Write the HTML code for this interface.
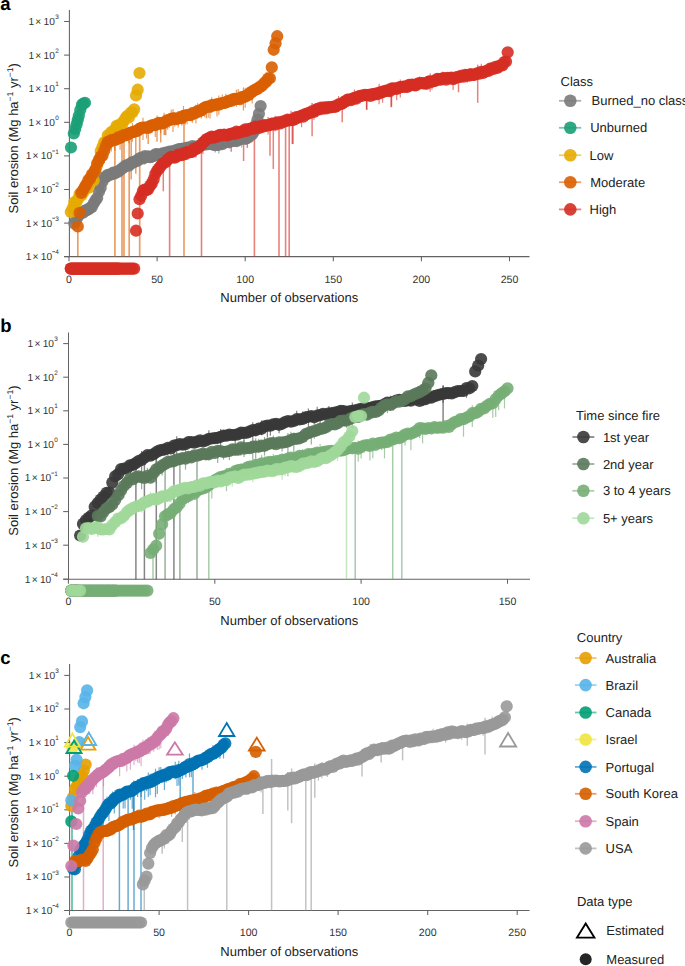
<!DOCTYPE html>
<html><head><meta charset="utf-8"><title>Soil erosion</title>
<style>
html,body{margin:0;padding:0;background:#fff;}
body{width:685px;height:966px;overflow:hidden;}
svg{display:block;font-family:"Liberation Sans",sans-serif;}
</style></head><body>
<svg width="685" height="966" viewBox="0 0 685 966" text-rendering="geometricPrecision">
<rect width="685" height="966" fill="#fff"/>
<line x1="69.4" y1="10" x2="69.4" y2="257.1" stroke="#626262" stroke-width="1.05"/>
<line x1="64.1" y1="256.6" x2="529.5" y2="256.6" stroke="#626262" stroke-width="1.05"/>
<line x1="64.1" y1="21.5" x2="69.4" y2="21.5" stroke="#626262" stroke-width="1.05"/>
<text x="58.7" y="24.9" font-size="10.2" text-anchor="end" fill="#333">1<tspan dx="1.2">&#215;</tspan><tspan dx="2.3">10</tspan><tspan font-size="6.4" dy="-5.8" dx="0.2">3</tspan></text>
<line x1="64.1" y1="55.1" x2="69.4" y2="55.1" stroke="#626262" stroke-width="1.05"/>
<text x="58.7" y="58.5" font-size="10.2" text-anchor="end" fill="#333">1<tspan dx="1.2">&#215;</tspan><tspan dx="2.3">10</tspan><tspan font-size="6.4" dy="-5.8" dx="0.2">2</tspan></text>
<line x1="64.1" y1="88.7" x2="69.4" y2="88.7" stroke="#626262" stroke-width="1.05"/>
<text x="58.7" y="92.1" font-size="10.2" text-anchor="end" fill="#333">1<tspan dx="1.2">&#215;</tspan><tspan dx="2.3">10</tspan><tspan font-size="6.4" dy="-5.8" dx="0.2">1</tspan></text>
<line x1="64.1" y1="122.3" x2="69.4" y2="122.3" stroke="#626262" stroke-width="1.05"/>
<text x="58.7" y="125.7" font-size="10.2" text-anchor="end" fill="#333">1<tspan dx="1.2">&#215;</tspan><tspan dx="2.3">10</tspan><tspan font-size="6.4" dy="-5.8" dx="0.2">0</tspan></text>
<line x1="64.1" y1="155.9" x2="69.4" y2="155.9" stroke="#626262" stroke-width="1.05"/>
<text x="58.7" y="159.3" font-size="10.2" text-anchor="end" fill="#333">1<tspan dx="1.2">&#215;</tspan><tspan dx="2.3">10</tspan><tspan font-size="6.4" dy="-5.8" dx="3.0">1</tspan></text>
<line x1="52.3" y1="151" x2="55" y2="151" stroke="#333" stroke-width="0.8"/>
<line x1="64.1" y1="189.5" x2="69.4" y2="189.5" stroke="#626262" stroke-width="1.05"/>
<text x="58.7" y="192.9" font-size="10.2" text-anchor="end" fill="#333">1<tspan dx="1.2">&#215;</tspan><tspan dx="2.3">10</tspan><tspan font-size="6.4" dy="-5.8" dx="3.0">2</tspan></text>
<line x1="52.3" y1="184.6" x2="55" y2="184.6" stroke="#333" stroke-width="0.8"/>
<line x1="64.1" y1="223.1" x2="69.4" y2="223.1" stroke="#626262" stroke-width="1.05"/>
<text x="58.7" y="226.5" font-size="10.2" text-anchor="end" fill="#333">1<tspan dx="1.2">&#215;</tspan><tspan dx="2.3">10</tspan><tspan font-size="6.4" dy="-5.8" dx="3.0">3</tspan></text>
<line x1="52.3" y1="218.2" x2="55" y2="218.2" stroke="#333" stroke-width="0.8"/>
<line x1="64.1" y1="256.6" x2="69.4" y2="256.6" stroke="#626262" stroke-width="1.05"/>
<text x="58.7" y="260" font-size="10.2" text-anchor="end" fill="#333">1<tspan dx="1.2">&#215;</tspan><tspan dx="2.3">10</tspan><tspan font-size="6.4" dy="-5.8" dx="3.0">4</tspan></text>
<line x1="52.3" y1="251.7" x2="55" y2="251.7" stroke="#333" stroke-width="0.8"/>
<line x1="69" y1="256.6" x2="69" y2="261.2" stroke="#626262" stroke-width="1.05"/>
<text x="69" y="282.6" font-size="10.6" text-anchor="middle" fill="#333">0</text>
<line x1="157.1" y1="256.6" x2="157.1" y2="261.2" stroke="#626262" stroke-width="1.05"/>
<text x="157.1" y="282.6" font-size="10.6" text-anchor="middle" fill="#333">50</text>
<line x1="245.2" y1="256.6" x2="245.2" y2="261.2" stroke="#626262" stroke-width="1.05"/>
<text x="245.2" y="282.6" font-size="10.6" text-anchor="middle" fill="#333">100</text>
<line x1="333.3" y1="256.6" x2="333.3" y2="261.2" stroke="#626262" stroke-width="1.05"/>
<text x="333.3" y="282.6" font-size="10.6" text-anchor="middle" fill="#333">150</text>
<line x1="421.4" y1="256.6" x2="421.4" y2="261.2" stroke="#626262" stroke-width="1.05"/>
<text x="421.4" y="282.6" font-size="10.6" text-anchor="middle" fill="#333">200</text>
<line x1="509.5" y1="256.6" x2="509.5" y2="261.2" stroke="#626262" stroke-width="1.05"/>
<text x="509.5" y="282.6" font-size="10.6" text-anchor="middle" fill="#333">250</text>
<text x="220.3" y="302.4" font-size="13" fill="#222">Number of observations</text>
<text transform="translate(17.9 138.3) rotate(-90)" font-size="13" text-anchor="middle" fill="#222">Soil erosion (Mg ha<tspan font-size="8.5" dy="-5">&#8722;1</tspan><tspan dy="5"> yr</tspan><tspan font-size="8.5" dy="-5">&#8722;1</tspan><tspan dy="5">)</tspan></text>
<g id="pa">
<line x1="77.8" y1="227.5" x2="77.8" y2="256.6" stroke="#d95f02" stroke-width="1.7" stroke-opacity="0.6"/>
<line x1="114.9" y1="139.9" x2="114.9" y2="256.6" stroke="#d95f02" stroke-width="1.7" stroke-opacity="0.6"/>
<line x1="122" y1="136.2" x2="122" y2="256.6" stroke="#d95f02" stroke-width="1.7" stroke-opacity="0.6"/>
<line x1="124" y1="135.1" x2="124" y2="256.6" stroke="#d95f02" stroke-width="1.7" stroke-opacity="0.6"/>
<line x1="129.2" y1="133.2" x2="129.2" y2="256.6" stroke="#d95f02" stroke-width="1.7" stroke-opacity="0.6"/>
<line x1="139.7" y1="128.6" x2="139.7" y2="256.6" stroke="#d95f02" stroke-width="1.7" stroke-opacity="0.6"/>
<line x1="184" y1="115.8" x2="184" y2="256.6" stroke="#d95f02" stroke-width="1.7" stroke-opacity="0.6"/>
<line x1="169.6" y1="158" x2="169.6" y2="256.6" stroke="#d62d24" stroke-width="1.6" stroke-opacity="0.6"/>
<line x1="201.5" y1="144.5" x2="201.5" y2="256.6" stroke="#d62d24" stroke-width="1.6" stroke-opacity="0.6"/>
<line x1="254.4" y1="128.3" x2="254.4" y2="256.6" stroke="#d62d24" stroke-width="1.6" stroke-opacity="0.6"/>
<line x1="279" y1="122.6" x2="279" y2="256.6" stroke="#d62d24" stroke-width="1.6" stroke-opacity="0.6"/>
<line x1="285.6" y1="121" x2="285.6" y2="256.6" stroke="#d62d24" stroke-width="1.6" stroke-opacity="0.6"/>
<line x1="289.2" y1="120.3" x2="289.2" y2="256.6" stroke="#d62d24" stroke-width="1.6" stroke-opacity="0.6"/>
<line x1="163.3" y1="170" x2="163.3" y2="191.3" stroke="#d62d24" stroke-width="1.5" stroke-opacity="0.6"/>
<line x1="231.2" y1="130" x2="231.2" y2="151.8" stroke="#d62d24" stroke-width="1.5" stroke-opacity="0.6"/>
<line x1="243.6" y1="128" x2="243.6" y2="161" stroke="#d62d24" stroke-width="1.5" stroke-opacity="0.6"/>
<line x1="247.3" y1="128" x2="247.3" y2="147.9" stroke="#d62d24" stroke-width="1.5" stroke-opacity="0.6"/>
<line x1="270" y1="122" x2="270" y2="155.8" stroke="#d62d24" stroke-width="1.5" stroke-opacity="0.6"/>
<line x1="273.3" y1="122" x2="273.3" y2="168.9" stroke="#d62d24" stroke-width="1.5" stroke-opacity="0.6"/>
<line x1="293" y1="115" x2="293" y2="144" stroke="#d62d24" stroke-width="1.5" stroke-opacity="0.6"/>
<line x1="292.3" y1="112" x2="292.3" y2="144.1" stroke="#d62d24" stroke-width="1.5" stroke-opacity="0.6"/>
<line x1="312.1" y1="103" x2="312.1" y2="136.2" stroke="#d62d24" stroke-width="1.5" stroke-opacity="0.6"/>
<line x1="342.2" y1="96" x2="342.2" y2="122.2" stroke="#d62d24" stroke-width="1.5" stroke-opacity="0.6"/>
<line x1="366.7" y1="93" x2="366.7" y2="110" stroke="#d62d24" stroke-width="1.5" stroke-opacity="0.6"/>
<line x1="391.2" y1="89" x2="391.2" y2="107.3" stroke="#d62d24" stroke-width="1.5" stroke-opacity="0.6"/>
<line x1="366.6" y1="93" x2="366.6" y2="109.3" stroke="#d62d24" stroke-width="1.5" stroke-opacity="0.6"/>
<line x1="391.5" y1="83" x2="391.5" y2="106.7" stroke="#d62d24" stroke-width="1.5" stroke-opacity="0.6"/>
<line x1="458.5" y1="70" x2="458.5" y2="92.3" stroke="#d62d24" stroke-width="1.5" stroke-opacity="0.6"/>
<line x1="477.7" y1="64.7" x2="477.7" y2="102.8" stroke="#d62d24" stroke-width="1.5" stroke-opacity="0.6"/>
<line x1="131.2" y1="130" x2="131.2" y2="179.6" stroke="#d95f02" stroke-width="1.5" stroke-opacity="0.6"/>
<line x1="135.8" y1="130" x2="135.8" y2="173.8" stroke="#d95f02" stroke-width="1.5" stroke-opacity="0.6"/>
<line x1="148.2" y1="126" x2="148.2" y2="143.9" stroke="#d95f02" stroke-width="1.5" stroke-opacity="0.6"/>
<line x1="157" y1="122" x2="157" y2="141.7" stroke="#d95f02" stroke-width="1.5" stroke-opacity="0.6"/>
<line x1="160.7" y1="122" x2="160.7" y2="142.5" stroke="#d95f02" stroke-width="1.5" stroke-opacity="0.6"/>
<line x1="165" y1="120" x2="165" y2="135" stroke="#d95f02" stroke-width="1.5" stroke-opacity="0.6"/>
<line x1="95.4" y1="163.8" x2="95.4" y2="178.4" stroke="#d95f02" stroke-width="1.2" stroke-opacity="0.6"/>
<line x1="100.7" y1="147.8" x2="100.7" y2="159.8" stroke="#d95f02" stroke-width="1.2" stroke-opacity="0.6"/>
<line x1="102.5" y1="145.6" x2="102.5" y2="161.2" stroke="#d95f02" stroke-width="1.2" stroke-opacity="0.6"/>
<line x1="104.2" y1="144.4" x2="104.2" y2="162.9" stroke="#d95f02" stroke-width="1.2" stroke-opacity="0.6"/>
<line x1="107.8" y1="132.7" x2="107.8" y2="151.8" stroke="#d95f02" stroke-width="1.2" stroke-opacity="0.6"/>
<line x1="109.5" y1="134.3" x2="109.5" y2="153.1" stroke="#d95f02" stroke-width="1.2" stroke-opacity="0.6"/>
<line x1="111.3" y1="132.9" x2="111.3" y2="151.4" stroke="#d95f02" stroke-width="1.2" stroke-opacity="0.6"/>
<line x1="113" y1="130.9" x2="113" y2="143.3" stroke="#d95f02" stroke-width="1.2" stroke-opacity="0.6"/>
<line x1="114.8" y1="130.8" x2="114.8" y2="150.8" stroke="#d95f02" stroke-width="1.2" stroke-opacity="0.6"/>
<line x1="120.1" y1="131.7" x2="120.1" y2="149.7" stroke="#d95f02" stroke-width="1.2" stroke-opacity="0.6"/>
<line x1="125.4" y1="130.9" x2="125.4" y2="140" stroke="#d95f02" stroke-width="1.2" stroke-opacity="0.6"/>
<line x1="128.9" y1="128.2" x2="128.9" y2="143.2" stroke="#d95f02" stroke-width="1.2" stroke-opacity="0.6"/>
<line x1="130.7" y1="127.3" x2="130.7" y2="140" stroke="#d95f02" stroke-width="1.2" stroke-opacity="0.6"/>
<line x1="132.4" y1="122.9" x2="132.4" y2="141.7" stroke="#d95f02" stroke-width="1.2" stroke-opacity="0.6"/>
<line x1="143" y1="117.8" x2="143" y2="140" stroke="#d95f02" stroke-width="1.2" stroke-opacity="0.6"/>
<line x1="146.5" y1="123.2" x2="146.5" y2="138.5" stroke="#d95f02" stroke-width="1.2" stroke-opacity="0.6"/>
<line x1="150.1" y1="122.6" x2="150.1" y2="132.2" stroke="#d95f02" stroke-width="1.2" stroke-opacity="0.6"/>
<line x1="155.3" y1="119.4" x2="155.3" y2="137.1" stroke="#d95f02" stroke-width="1.2" stroke-opacity="0.6"/>
<line x1="157.1" y1="115.5" x2="157.1" y2="130.1" stroke="#d95f02" stroke-width="1.2" stroke-opacity="0.6"/>
<line x1="160.6" y1="120.1" x2="160.6" y2="133.1" stroke="#d95f02" stroke-width="1.2" stroke-opacity="0.6"/>
<line x1="164.1" y1="112.7" x2="164.1" y2="135.3" stroke="#d95f02" stroke-width="1.2" stroke-opacity="0.6"/>
<line x1="165.9" y1="116" x2="165.9" y2="135.2" stroke="#d95f02" stroke-width="1.2" stroke-opacity="0.6"/>
<line x1="167.7" y1="116.9" x2="167.7" y2="129.7" stroke="#d95f02" stroke-width="1.2" stroke-opacity="0.6"/>
<line x1="169.4" y1="112.9" x2="169.4" y2="127.7" stroke="#d95f02" stroke-width="1.2" stroke-opacity="0.6"/>
<line x1="171.2" y1="109.8" x2="171.2" y2="122.4" stroke="#d95f02" stroke-width="1.2" stroke-opacity="0.6"/>
<line x1="173" y1="109.1" x2="173" y2="131.9" stroke="#d95f02" stroke-width="1.2" stroke-opacity="0.6"/>
<line x1="174.7" y1="111.9" x2="174.7" y2="126.6" stroke="#d95f02" stroke-width="1.2" stroke-opacity="0.6"/>
<line x1="178.2" y1="111" x2="178.2" y2="127.5" stroke="#d95f02" stroke-width="1.2" stroke-opacity="0.6"/>
<line x1="181.8" y1="110" x2="181.8" y2="125.8" stroke="#d95f02" stroke-width="1.2" stroke-opacity="0.6"/>
<line x1="183.5" y1="106" x2="183.5" y2="122.2" stroke="#d95f02" stroke-width="1.2" stroke-opacity="0.6"/>
<line x1="185.3" y1="112.4" x2="185.3" y2="124.5" stroke="#d95f02" stroke-width="1.2" stroke-opacity="0.6"/>
<line x1="187.1" y1="111.8" x2="187.1" y2="124.3" stroke="#d95f02" stroke-width="1.2" stroke-opacity="0.6"/>
<line x1="192.3" y1="106.9" x2="192.3" y2="123.1" stroke="#d95f02" stroke-width="1.2" stroke-opacity="0.6"/>
<line x1="195.9" y1="104.7" x2="195.9" y2="123.6" stroke="#d95f02" stroke-width="1.2" stroke-opacity="0.6"/>
<line x1="197.6" y1="103.3" x2="197.6" y2="114.7" stroke="#d95f02" stroke-width="1.2" stroke-opacity="0.6"/>
<line x1="201.2" y1="103.3" x2="201.2" y2="118.5" stroke="#d95f02" stroke-width="1.2" stroke-opacity="0.6"/>
<line x1="202.9" y1="103.8" x2="202.9" y2="115.9" stroke="#d95f02" stroke-width="1.2" stroke-opacity="0.6"/>
<line x1="204.7" y1="102.6" x2="204.7" y2="117.2" stroke="#d95f02" stroke-width="1.2" stroke-opacity="0.6"/>
<line x1="206.4" y1="103.7" x2="206.4" y2="118.4" stroke="#d95f02" stroke-width="1.2" stroke-opacity="0.6"/>
<line x1="208.2" y1="101.5" x2="208.2" y2="117.7" stroke="#d95f02" stroke-width="1.2" stroke-opacity="0.6"/>
<line x1="210" y1="101.9" x2="210" y2="118.4" stroke="#d95f02" stroke-width="1.2" stroke-opacity="0.6"/>
<line x1="211.7" y1="97.2" x2="211.7" y2="112.8" stroke="#d95f02" stroke-width="1.2" stroke-opacity="0.6"/>
<line x1="213.5" y1="99.9" x2="213.5" y2="111.8" stroke="#d95f02" stroke-width="1.2" stroke-opacity="0.6"/>
<line x1="217" y1="100" x2="217" y2="116.6" stroke="#d95f02" stroke-width="1.2" stroke-opacity="0.6"/>
<line x1="218.8" y1="95.4" x2="218.8" y2="114.7" stroke="#d95f02" stroke-width="1.2" stroke-opacity="0.6"/>
<line x1="220.5" y1="99.9" x2="220.5" y2="109.2" stroke="#d95f02" stroke-width="1.2" stroke-opacity="0.6"/>
<line x1="222.3" y1="94.5" x2="222.3" y2="108.3" stroke="#d95f02" stroke-width="1.2" stroke-opacity="0.6"/>
<line x1="225.8" y1="93.7" x2="225.8" y2="108.4" stroke="#d95f02" stroke-width="1.2" stroke-opacity="0.6"/>
<line x1="231.1" y1="96" x2="231.1" y2="105.5" stroke="#d95f02" stroke-width="1.2" stroke-opacity="0.6"/>
<line x1="234.6" y1="93" x2="234.6" y2="105.7" stroke="#d95f02" stroke-width="1.2" stroke-opacity="0.6"/>
<line x1="236.4" y1="89.7" x2="236.4" y2="106.7" stroke="#d95f02" stroke-width="1.2" stroke-opacity="0.6"/>
<line x1="238.2" y1="88.9" x2="238.2" y2="101.5" stroke="#d95f02" stroke-width="1.2" stroke-opacity="0.6"/>
<line x1="243.4" y1="87.5" x2="243.4" y2="110.4" stroke="#d95f02" stroke-width="1.2" stroke-opacity="0.6"/>
<line x1="245.2" y1="87.7" x2="245.2" y2="107.8" stroke="#d95f02" stroke-width="1.2" stroke-opacity="0.6"/>
<line x1="248.7" y1="89.6" x2="248.7" y2="101.2" stroke="#d95f02" stroke-width="1.2" stroke-opacity="0.6"/>
<line x1="250.5" y1="85.5" x2="250.5" y2="96.3" stroke="#d95f02" stroke-width="1.2" stroke-opacity="0.6"/>
<line x1="252.2" y1="88.3" x2="252.2" y2="103.5" stroke="#d95f02" stroke-width="1.2" stroke-opacity="0.6"/>
<line x1="262.8" y1="76.6" x2="262.8" y2="88" stroke="#d95f02" stroke-width="1.2" stroke-opacity="0.6"/>
<line x1="264.6" y1="75.2" x2="264.6" y2="89.1" stroke="#d95f02" stroke-width="1.2" stroke-opacity="0.6"/>
<line x1="266.3" y1="72.1" x2="266.3" y2="89.2" stroke="#d95f02" stroke-width="1.2" stroke-opacity="0.6"/>
<line x1="164.1" y1="158.9" x2="164.1" y2="169.4" stroke="#d62d24" stroke-width="1.2" stroke-opacity="0.6"/>
<line x1="165.9" y1="153.5" x2="165.9" y2="168.6" stroke="#d62d24" stroke-width="1.2" stroke-opacity="0.6"/>
<line x1="178.2" y1="146.1" x2="178.2" y2="159.6" stroke="#d62d24" stroke-width="1.2" stroke-opacity="0.6"/>
<line x1="195.9" y1="142.1" x2="195.9" y2="157.6" stroke="#d62d24" stroke-width="1.2" stroke-opacity="0.6"/>
<line x1="202.9" y1="134.4" x2="202.9" y2="154" stroke="#d62d24" stroke-width="1.2" stroke-opacity="0.6"/>
<line x1="227.6" y1="128.7" x2="227.6" y2="138.9" stroke="#d62d24" stroke-width="1.2" stroke-opacity="0.6"/>
<line x1="255.8" y1="122.4" x2="255.8" y2="130.3" stroke="#d62d24" stroke-width="1.2" stroke-opacity="0.6"/>
<line x1="268.1" y1="116.9" x2="268.1" y2="134.5" stroke="#d62d24" stroke-width="1.2" stroke-opacity="0.6"/>
<line x1="275.2" y1="115.8" x2="275.2" y2="130.2" stroke="#d62d24" stroke-width="1.2" stroke-opacity="0.6"/>
<line x1="291" y1="110.7" x2="291" y2="126" stroke="#d62d24" stroke-width="1.2" stroke-opacity="0.6"/>
<line x1="294.5" y1="115.5" x2="294.5" y2="122.9" stroke="#d62d24" stroke-width="1.2" stroke-opacity="0.6"/>
<line x1="301.6" y1="110" x2="301.6" y2="127.3" stroke="#d62d24" stroke-width="1.2" stroke-opacity="0.6"/>
<line x1="305.1" y1="110" x2="305.1" y2="117.5" stroke="#d62d24" stroke-width="1.2" stroke-opacity="0.6"/>
<line x1="308.6" y1="106.9" x2="308.6" y2="116.2" stroke="#d62d24" stroke-width="1.2" stroke-opacity="0.6"/>
<line x1="313.9" y1="104.3" x2="313.9" y2="119.7" stroke="#d62d24" stroke-width="1.2" stroke-opacity="0.6"/>
<line x1="324.5" y1="102.9" x2="324.5" y2="114.2" stroke="#d62d24" stroke-width="1.2" stroke-opacity="0.6"/>
<line x1="331.5" y1="102.8" x2="331.5" y2="112.5" stroke="#d62d24" stroke-width="1.2" stroke-opacity="0.6"/>
<line x1="338.6" y1="95.9" x2="338.6" y2="107.9" stroke="#d62d24" stroke-width="1.2" stroke-opacity="0.6"/>
<line x1="354.4" y1="89.6" x2="354.4" y2="102.8" stroke="#d62d24" stroke-width="1.2" stroke-opacity="0.6"/>
<line x1="379.1" y1="83.8" x2="379.1" y2="104.3" stroke="#d62d24" stroke-width="1.2" stroke-opacity="0.6"/>
<line x1="382.6" y1="87.8" x2="382.6" y2="102.7" stroke="#d62d24" stroke-width="1.2" stroke-opacity="0.6"/>
<line x1="387.9" y1="83.7" x2="387.9" y2="95.1" stroke="#d62d24" stroke-width="1.2" stroke-opacity="0.6"/>
<line x1="396.7" y1="85.8" x2="396.7" y2="100.2" stroke="#d62d24" stroke-width="1.2" stroke-opacity="0.6"/>
<line x1="400.3" y1="79.5" x2="400.3" y2="97.5" stroke="#d62d24" stroke-width="1.2" stroke-opacity="0.6"/>
<line x1="419.6" y1="76.4" x2="419.6" y2="86.3" stroke="#d62d24" stroke-width="1.2" stroke-opacity="0.6"/>
<line x1="426.7" y1="76" x2="426.7" y2="89.8" stroke="#d62d24" stroke-width="1.2" stroke-opacity="0.6"/>
<line x1="430.2" y1="73.3" x2="430.2" y2="91.8" stroke="#d62d24" stroke-width="1.2" stroke-opacity="0.6"/>
<line x1="432" y1="76.5" x2="432" y2="89.7" stroke="#d62d24" stroke-width="1.2" stroke-opacity="0.6"/>
<line x1="442.5" y1="71.6" x2="442.5" y2="82.3" stroke="#d62d24" stroke-width="1.2" stroke-opacity="0.6"/>
<line x1="453.1" y1="74.9" x2="453.1" y2="90" stroke="#d62d24" stroke-width="1.2" stroke-opacity="0.6"/>
<line x1="467.2" y1="70.2" x2="467.2" y2="82.7" stroke="#d62d24" stroke-width="1.2" stroke-opacity="0.6"/>
<line x1="474.3" y1="68.6" x2="474.3" y2="80.7" stroke="#d62d24" stroke-width="1.2" stroke-opacity="0.6"/>
<line x1="481.3" y1="63.8" x2="481.3" y2="77.1" stroke="#d62d24" stroke-width="1.2" stroke-opacity="0.6"/>
<line x1="120.1" y1="162.3" x2="120.1" y2="175.8" stroke="#7a7a7a" stroke-width="1.2" stroke-opacity="0.6"/>
<line x1="125.4" y1="161.5" x2="125.4" y2="171.6" stroke="#7a7a7a" stroke-width="1.2" stroke-opacity="0.6"/>
<line x1="130.7" y1="159" x2="130.7" y2="167.7" stroke="#7a7a7a" stroke-width="1.2" stroke-opacity="0.6"/>
<line x1="144.8" y1="152.2" x2="144.8" y2="164.4" stroke="#7a7a7a" stroke-width="1.2" stroke-opacity="0.6"/>
<line x1="174.7" y1="144.6" x2="174.7" y2="155.4" stroke="#7a7a7a" stroke-width="1.2" stroke-opacity="0.6"/>
<line x1="176.5" y1="146.7" x2="176.5" y2="158.5" stroke="#7a7a7a" stroke-width="1.2" stroke-opacity="0.6"/>
<line x1="188.8" y1="144.8" x2="188.8" y2="156.7" stroke="#7a7a7a" stroke-width="1.2" stroke-opacity="0.6"/>
<line x1="194.1" y1="142.6" x2="194.1" y2="155.2" stroke="#7a7a7a" stroke-width="1.2" stroke-opacity="0.6"/>
<line x1="197.6" y1="142.7" x2="197.6" y2="149.9" stroke="#7a7a7a" stroke-width="1.2" stroke-opacity="0.6"/>
<line x1="215.2" y1="138.1" x2="215.2" y2="152.5" stroke="#7a7a7a" stroke-width="1.2" stroke-opacity="0.6"/>
<line x1="218.8" y1="141.4" x2="218.8" y2="153.5" stroke="#7a7a7a" stroke-width="1.2" stroke-opacity="0.6"/>
<line x1="236.4" y1="134.7" x2="236.4" y2="145" stroke="#7a7a7a" stroke-width="1.2" stroke-opacity="0.6"/>
<line x1="241.7" y1="133" x2="241.7" y2="147.6" stroke="#7a7a7a" stroke-width="1.2" stroke-opacity="0.6"/>
<line x1="254" y1="128.3" x2="254" y2="140" stroke="#7a7a7a" stroke-width="1.2" stroke-opacity="0.6"/>
<circle cx="70.8" cy="268.6" r="6.1" fill="#d62d24" fill-opacity="0.9"/>
<circle cx="72.5" cy="268.6" r="6.1" fill="#d62d24" fill-opacity="0.9"/>
<circle cx="74.3" cy="268.6" r="6.1" fill="#d62d24" fill-opacity="0.9"/>
<circle cx="76" cy="268.6" r="6.1" fill="#d62d24" fill-opacity="0.9"/>
<circle cx="77.8" cy="268.6" r="6.1" fill="#d62d24" fill-opacity="0.9"/>
<circle cx="79.6" cy="268.6" r="6.1" fill="#d62d24" fill-opacity="0.9"/>
<circle cx="81.3" cy="268.6" r="6.1" fill="#d62d24" fill-opacity="0.9"/>
<circle cx="83.1" cy="268.6" r="6.1" fill="#d62d24" fill-opacity="0.9"/>
<circle cx="84.9" cy="268.6" r="6.1" fill="#d62d24" fill-opacity="0.9"/>
<circle cx="86.6" cy="268.6" r="6.1" fill="#d62d24" fill-opacity="0.9"/>
<circle cx="88.4" cy="268.6" r="6.1" fill="#d62d24" fill-opacity="0.9"/>
<circle cx="90.1" cy="268.6" r="6.1" fill="#d62d24" fill-opacity="0.9"/>
<circle cx="91.9" cy="268.6" r="6.1" fill="#d62d24" fill-opacity="0.9"/>
<circle cx="93.7" cy="268.6" r="6.1" fill="#d62d24" fill-opacity="0.9"/>
<circle cx="95.4" cy="268.6" r="6.1" fill="#d62d24" fill-opacity="0.9"/>
<circle cx="97.2" cy="268.6" r="6.1" fill="#d62d24" fill-opacity="0.9"/>
<circle cx="99" cy="268.6" r="6.1" fill="#d62d24" fill-opacity="0.9"/>
<circle cx="100.7" cy="268.6" r="6.1" fill="#d62d24" fill-opacity="0.9"/>
<circle cx="102.5" cy="268.6" r="6.1" fill="#d62d24" fill-opacity="0.9"/>
<circle cx="104.2" cy="268.6" r="6.1" fill="#d62d24" fill-opacity="0.9"/>
<circle cx="106" cy="268.6" r="6.1" fill="#d62d24" fill-opacity="0.9"/>
<circle cx="107.8" cy="268.6" r="6.1" fill="#d62d24" fill-opacity="0.9"/>
<circle cx="109.5" cy="268.6" r="6.1" fill="#d62d24" fill-opacity="0.9"/>
<circle cx="111.3" cy="268.6" r="6.1" fill="#d62d24" fill-opacity="0.9"/>
<circle cx="113" cy="268.6" r="6.1" fill="#d62d24" fill-opacity="0.9"/>
<circle cx="114.8" cy="268.6" r="6.1" fill="#d62d24" fill-opacity="0.9"/>
<circle cx="116.6" cy="268.6" r="6.1" fill="#d62d24" fill-opacity="0.9"/>
<circle cx="118.3" cy="268.6" r="6.1" fill="#d62d24" fill-opacity="0.9"/>
<circle cx="74.3" cy="223.5" r="6.1" fill="#7a7a7a" fill-opacity="0.9"/>
<circle cx="76" cy="220" r="6.1" fill="#7a7a7a" fill-opacity="0.9"/>
<circle cx="77.8" cy="216.8" r="6.1" fill="#7a7a7a" fill-opacity="0.9"/>
<circle cx="79.6" cy="214.3" r="6.1" fill="#7a7a7a" fill-opacity="0.9"/>
<circle cx="81.3" cy="212.3" r="6.1" fill="#7a7a7a" fill-opacity="0.9"/>
<circle cx="83.1" cy="212.6" r="6.1" fill="#7a7a7a" fill-opacity="0.9"/>
<circle cx="84.9" cy="210.7" r="6.1" fill="#7a7a7a" fill-opacity="0.9"/>
<circle cx="86.6" cy="210.1" r="6.1" fill="#7a7a7a" fill-opacity="0.9"/>
<circle cx="88.4" cy="209.5" r="6.1" fill="#7a7a7a" fill-opacity="0.9"/>
<circle cx="90.1" cy="207.9" r="6.1" fill="#7a7a7a" fill-opacity="0.9"/>
<circle cx="91.9" cy="207" r="6.1" fill="#7a7a7a" fill-opacity="0.9"/>
<circle cx="93.7" cy="203.3" r="6.1" fill="#7a7a7a" fill-opacity="0.9"/>
<circle cx="95.4" cy="200.4" r="6.1" fill="#7a7a7a" fill-opacity="0.9"/>
<circle cx="97.2" cy="198" r="6.1" fill="#7a7a7a" fill-opacity="0.9"/>
<circle cx="99" cy="191.6" r="6.1" fill="#7a7a7a" fill-opacity="0.9"/>
<circle cx="100.7" cy="187.8" r="6.1" fill="#7a7a7a" fill-opacity="0.9"/>
<circle cx="102.5" cy="181.4" r="6.1" fill="#7a7a7a" fill-opacity="0.9"/>
<circle cx="104.2" cy="177.4" r="6.1" fill="#7a7a7a" fill-opacity="0.9"/>
<circle cx="106" cy="177" r="6.1" fill="#7a7a7a" fill-opacity="0.9"/>
<circle cx="107.8" cy="174.8" r="6.1" fill="#7a7a7a" fill-opacity="0.9"/>
<circle cx="109.5" cy="174.9" r="6.1" fill="#7a7a7a" fill-opacity="0.9"/>
<circle cx="111.3" cy="174.4" r="6.1" fill="#7a7a7a" fill-opacity="0.9"/>
<circle cx="113" cy="172.7" r="6.1" fill="#7a7a7a" fill-opacity="0.9"/>
<circle cx="114.8" cy="173.4" r="6.1" fill="#7a7a7a" fill-opacity="0.9"/>
<circle cx="116.6" cy="171.8" r="6.1" fill="#7a7a7a" fill-opacity="0.9"/>
<circle cx="118.3" cy="171.7" r="6.1" fill="#7a7a7a" fill-opacity="0.9"/>
<circle cx="120.1" cy="170" r="6.1" fill="#7a7a7a" fill-opacity="0.9"/>
<circle cx="121.9" cy="168.8" r="6.1" fill="#7a7a7a" fill-opacity="0.9"/>
<circle cx="123.6" cy="167.5" r="6.1" fill="#7a7a7a" fill-opacity="0.9"/>
<circle cx="125.4" cy="165.8" r="6.1" fill="#7a7a7a" fill-opacity="0.9"/>
<circle cx="127.1" cy="165" r="6.1" fill="#7a7a7a" fill-opacity="0.9"/>
<circle cx="128.9" cy="165.6" r="6.1" fill="#7a7a7a" fill-opacity="0.9"/>
<circle cx="130.7" cy="163.4" r="6.1" fill="#7a7a7a" fill-opacity="0.9"/>
<circle cx="132.4" cy="162.2" r="6.1" fill="#7a7a7a" fill-opacity="0.9"/>
<circle cx="134.2" cy="162.3" r="6.1" fill="#7a7a7a" fill-opacity="0.9"/>
<circle cx="136" cy="160.8" r="6.1" fill="#7a7a7a" fill-opacity="0.9"/>
<circle cx="137.7" cy="160.7" r="6.1" fill="#7a7a7a" fill-opacity="0.9"/>
<circle cx="139.5" cy="158.6" r="6.1" fill="#7a7a7a" fill-opacity="0.9"/>
<circle cx="141.2" cy="157.6" r="6.1" fill="#7a7a7a" fill-opacity="0.9"/>
<circle cx="143" cy="158.5" r="6.1" fill="#7a7a7a" fill-opacity="0.9"/>
<circle cx="144.8" cy="156.2" r="6.1" fill="#7a7a7a" fill-opacity="0.9"/>
<circle cx="146.5" cy="157.1" r="6.1" fill="#7a7a7a" fill-opacity="0.9"/>
<circle cx="148.3" cy="156.4" r="6.1" fill="#7a7a7a" fill-opacity="0.9"/>
<circle cx="150.1" cy="157.1" r="6.1" fill="#7a7a7a" fill-opacity="0.9"/>
<circle cx="151.8" cy="156.8" r="6.1" fill="#7a7a7a" fill-opacity="0.9"/>
<circle cx="153.6" cy="156" r="6.1" fill="#7a7a7a" fill-opacity="0.9"/>
<circle cx="155.3" cy="154.4" r="6.1" fill="#7a7a7a" fill-opacity="0.9"/>
<circle cx="157.1" cy="154.2" r="6.1" fill="#7a7a7a" fill-opacity="0.9"/>
<circle cx="158.9" cy="155" r="6.1" fill="#7a7a7a" fill-opacity="0.9"/>
<circle cx="160.6" cy="155.4" r="6.1" fill="#7a7a7a" fill-opacity="0.9"/>
<circle cx="162.4" cy="153.3" r="6.1" fill="#7a7a7a" fill-opacity="0.9"/>
<circle cx="164.1" cy="153.6" r="6.1" fill="#7a7a7a" fill-opacity="0.9"/>
<circle cx="165.9" cy="152.5" r="6.1" fill="#7a7a7a" fill-opacity="0.9"/>
<circle cx="167.7" cy="152.6" r="6.1" fill="#7a7a7a" fill-opacity="0.9"/>
<circle cx="169.4" cy="151.5" r="6.1" fill="#7a7a7a" fill-opacity="0.9"/>
<circle cx="171.2" cy="151.7" r="6.1" fill="#7a7a7a" fill-opacity="0.9"/>
<circle cx="173" cy="151.8" r="6.1" fill="#7a7a7a" fill-opacity="0.9"/>
<circle cx="174.7" cy="150.6" r="6.1" fill="#7a7a7a" fill-opacity="0.9"/>
<circle cx="176.5" cy="151.4" r="6.1" fill="#7a7a7a" fill-opacity="0.9"/>
<circle cx="178.2" cy="149.3" r="6.1" fill="#7a7a7a" fill-opacity="0.9"/>
<circle cx="180" cy="149.2" r="6.1" fill="#7a7a7a" fill-opacity="0.9"/>
<circle cx="181.8" cy="148.8" r="6.1" fill="#7a7a7a" fill-opacity="0.9"/>
<circle cx="183.5" cy="148.6" r="6.1" fill="#7a7a7a" fill-opacity="0.9"/>
<circle cx="185.3" cy="148.9" r="6.1" fill="#7a7a7a" fill-opacity="0.9"/>
<circle cx="187.1" cy="147.5" r="6.1" fill="#7a7a7a" fill-opacity="0.9"/>
<circle cx="188.8" cy="147.9" r="6.1" fill="#7a7a7a" fill-opacity="0.9"/>
<circle cx="190.6" cy="148.1" r="6.1" fill="#7a7a7a" fill-opacity="0.9"/>
<circle cx="192.3" cy="146.1" r="6.1" fill="#7a7a7a" fill-opacity="0.9"/>
<circle cx="194.1" cy="147.4" r="6.1" fill="#7a7a7a" fill-opacity="0.9"/>
<circle cx="195.9" cy="146.6" r="6.1" fill="#7a7a7a" fill-opacity="0.9"/>
<circle cx="197.6" cy="146.7" r="6.1" fill="#7a7a7a" fill-opacity="0.9"/>
<circle cx="199.4" cy="146.1" r="6.1" fill="#7a7a7a" fill-opacity="0.9"/>
<circle cx="201.2" cy="145.4" r="6.1" fill="#7a7a7a" fill-opacity="0.9"/>
<circle cx="202.9" cy="144.4" r="6.1" fill="#7a7a7a" fill-opacity="0.9"/>
<circle cx="204.7" cy="144.4" r="6.1" fill="#7a7a7a" fill-opacity="0.9"/>
<circle cx="206.4" cy="144.3" r="6.1" fill="#7a7a7a" fill-opacity="0.9"/>
<circle cx="208.2" cy="144.2" r="6.1" fill="#7a7a7a" fill-opacity="0.9"/>
<circle cx="210" cy="144" r="6.1" fill="#7a7a7a" fill-opacity="0.9"/>
<circle cx="211.7" cy="144.1" r="6.1" fill="#7a7a7a" fill-opacity="0.9"/>
<circle cx="213.5" cy="144.7" r="6.1" fill="#7a7a7a" fill-opacity="0.9"/>
<circle cx="215.2" cy="145.1" r="6.1" fill="#7a7a7a" fill-opacity="0.9"/>
<circle cx="217" cy="145" r="6.1" fill="#7a7a7a" fill-opacity="0.9"/>
<circle cx="218.8" cy="144.8" r="6.1" fill="#7a7a7a" fill-opacity="0.9"/>
<circle cx="220.5" cy="142.9" r="6.1" fill="#7a7a7a" fill-opacity="0.9"/>
<circle cx="222.3" cy="144.1" r="6.1" fill="#7a7a7a" fill-opacity="0.9"/>
<circle cx="224.1" cy="142.4" r="6.1" fill="#7a7a7a" fill-opacity="0.9"/>
<circle cx="225.8" cy="141.8" r="6.1" fill="#7a7a7a" fill-opacity="0.9"/>
<circle cx="227.6" cy="142" r="6.1" fill="#7a7a7a" fill-opacity="0.9"/>
<circle cx="229.3" cy="142.3" r="6.1" fill="#7a7a7a" fill-opacity="0.9"/>
<circle cx="231.1" cy="140.8" r="6.1" fill="#7a7a7a" fill-opacity="0.9"/>
<circle cx="232.9" cy="140.8" r="6.1" fill="#7a7a7a" fill-opacity="0.9"/>
<circle cx="234.6" cy="140.7" r="6.1" fill="#7a7a7a" fill-opacity="0.9"/>
<circle cx="236.4" cy="141.1" r="6.1" fill="#7a7a7a" fill-opacity="0.9"/>
<circle cx="238.2" cy="139.7" r="6.1" fill="#7a7a7a" fill-opacity="0.9"/>
<circle cx="239.9" cy="139.3" r="6.1" fill="#7a7a7a" fill-opacity="0.9"/>
<circle cx="241.7" cy="138.7" r="6.1" fill="#7a7a7a" fill-opacity="0.9"/>
<circle cx="243.4" cy="137.6" r="6.1" fill="#7a7a7a" fill-opacity="0.9"/>
<circle cx="245.2" cy="138.8" r="6.1" fill="#7a7a7a" fill-opacity="0.9"/>
<circle cx="247" cy="138.3" r="6.1" fill="#7a7a7a" fill-opacity="0.9"/>
<circle cx="248.7" cy="136.9" r="6.1" fill="#7a7a7a" fill-opacity="0.9"/>
<circle cx="250.5" cy="135.2" r="6.1" fill="#7a7a7a" fill-opacity="0.9"/>
<circle cx="252.2" cy="134.3" r="6.1" fill="#7a7a7a" fill-opacity="0.9"/>
<circle cx="254" cy="131.5" r="6.1" fill="#7a7a7a" fill-opacity="0.9"/>
<circle cx="255.8" cy="124.9" r="6.1" fill="#7a7a7a" fill-opacity="0.9"/>
<circle cx="257.5" cy="119.6" r="6.1" fill="#7a7a7a" fill-opacity="0.9"/>
<circle cx="258.9" cy="113.8" r="6.1" fill="#7a7a7a" fill-opacity="0.9"/>
<circle cx="260.6" cy="106.1" r="6.1" fill="#7a7a7a" fill-opacity="0.9"/>
<circle cx="71" cy="147.5" r="6.1" fill="#1b9e77" fill-opacity="0.9"/>
<circle cx="73.8" cy="133.5" r="6.1" fill="#1b9e77" fill-opacity="0.9"/>
<circle cx="75.2" cy="129" r="6.1" fill="#1b9e77" fill-opacity="0.9"/>
<circle cx="76.6" cy="124.2" r="6.1" fill="#1b9e77" fill-opacity="0.9"/>
<circle cx="77.7" cy="120" r="6.1" fill="#1b9e77" fill-opacity="0.9"/>
<circle cx="78.8" cy="115.8" r="6.1" fill="#1b9e77" fill-opacity="0.9"/>
<circle cx="80.3" cy="110" r="6.1" fill="#1b9e77" fill-opacity="0.9"/>
<circle cx="81.9" cy="104.9" r="6.1" fill="#1b9e77" fill-opacity="0.9"/>
<circle cx="83.5" cy="103.5" r="6.1" fill="#1b9e77" fill-opacity="0.9"/>
<circle cx="85" cy="102.8" r="6.1" fill="#1b9e77" fill-opacity="0.9"/>
<circle cx="70.8" cy="212" r="6.1" fill="#e6ab02" fill-opacity="0.9"/>
<circle cx="72.5" cy="208.6" r="6.1" fill="#e6ab02" fill-opacity="0.9"/>
<circle cx="74.3" cy="202.4" r="6.1" fill="#e6ab02" fill-opacity="0.9"/>
<circle cx="76" cy="203" r="6.1" fill="#e6ab02" fill-opacity="0.9"/>
<circle cx="77.8" cy="199.3" r="6.1" fill="#e6ab02" fill-opacity="0.9"/>
<circle cx="79.6" cy="194" r="6.1" fill="#e6ab02" fill-opacity="0.9"/>
<circle cx="81.3" cy="195.5" r="6.1" fill="#e6ab02" fill-opacity="0.9"/>
<circle cx="83.1" cy="192.7" r="6.1" fill="#e6ab02" fill-opacity="0.9"/>
<circle cx="84.9" cy="188.2" r="6.1" fill="#e6ab02" fill-opacity="0.9"/>
<circle cx="86.6" cy="186.8" r="6.1" fill="#e6ab02" fill-opacity="0.9"/>
<circle cx="88.4" cy="187.9" r="6.1" fill="#e6ab02" fill-opacity="0.9"/>
<circle cx="90.1" cy="181.6" r="6.1" fill="#e6ab02" fill-opacity="0.9"/>
<circle cx="91.9" cy="181.2" r="6.1" fill="#e6ab02" fill-opacity="0.9"/>
<circle cx="93.7" cy="180.4" r="6.1" fill="#e6ab02" fill-opacity="0.9"/>
<circle cx="95.4" cy="170" r="6.1" fill="#e6ab02" fill-opacity="0.9"/>
<circle cx="97.2" cy="165.1" r="6.1" fill="#e6ab02" fill-opacity="0.9"/>
<circle cx="99" cy="159.4" r="6.1" fill="#e6ab02" fill-opacity="0.9"/>
<circle cx="100.7" cy="151.1" r="6.1" fill="#e6ab02" fill-opacity="0.9"/>
<circle cx="102.5" cy="146.9" r="6.1" fill="#e6ab02" fill-opacity="0.9"/>
<circle cx="104.2" cy="142.3" r="6.1" fill="#e6ab02" fill-opacity="0.9"/>
<circle cx="106" cy="141.6" r="6.1" fill="#e6ab02" fill-opacity="0.9"/>
<circle cx="107.8" cy="135.4" r="6.1" fill="#e6ab02" fill-opacity="0.9"/>
<circle cx="109.5" cy="136.9" r="6.1" fill="#e6ab02" fill-opacity="0.9"/>
<circle cx="111.3" cy="132" r="6.1" fill="#e6ab02" fill-opacity="0.9"/>
<circle cx="113" cy="131.7" r="6.1" fill="#e6ab02" fill-opacity="0.9"/>
<circle cx="114.8" cy="129.7" r="6.1" fill="#e6ab02" fill-opacity="0.9"/>
<circle cx="116.6" cy="125.9" r="6.1" fill="#e6ab02" fill-opacity="0.9"/>
<circle cx="118.3" cy="126.5" r="6.1" fill="#e6ab02" fill-opacity="0.9"/>
<circle cx="120.1" cy="124.3" r="6.1" fill="#e6ab02" fill-opacity="0.9"/>
<circle cx="121.9" cy="124.9" r="6.1" fill="#e6ab02" fill-opacity="0.9"/>
<circle cx="123.6" cy="121.3" r="6.1" fill="#e6ab02" fill-opacity="0.9"/>
<circle cx="125.4" cy="118.2" r="6.1" fill="#e6ab02" fill-opacity="0.9"/>
<circle cx="127.1" cy="116.1" r="6.1" fill="#e6ab02" fill-opacity="0.9"/>
<circle cx="128.9" cy="117.5" r="6.1" fill="#e6ab02" fill-opacity="0.9"/>
<circle cx="130.7" cy="112.7" r="6.1" fill="#e6ab02" fill-opacity="0.9"/>
<circle cx="132.4" cy="112.5" r="6.1" fill="#e6ab02" fill-opacity="0.9"/>
<circle cx="134.2" cy="109.3" r="6.1" fill="#e6ab02" fill-opacity="0.9"/>
<circle cx="136" cy="95.5" r="6.1" fill="#e6ab02" fill-opacity="0.9"/>
<circle cx="137.7" cy="89.7" r="6.1" fill="#e6ab02" fill-opacity="0.9"/>
<circle cx="139.5" cy="73" r="6.1" fill="#e6ab02" fill-opacity="0.9"/>
<circle cx="77.8" cy="226.5" r="6.1" fill="#d95f02" fill-opacity="0.9"/>
<circle cx="79.6" cy="212.8" r="6.1" fill="#d95f02" fill-opacity="0.9"/>
<circle cx="81.3" cy="192.9" r="6.1" fill="#d95f02" fill-opacity="0.9"/>
<circle cx="83.1" cy="190" r="6.1" fill="#d95f02" fill-opacity="0.9"/>
<circle cx="84.9" cy="186.7" r="6.1" fill="#d95f02" fill-opacity="0.9"/>
<circle cx="86.6" cy="184" r="6.1" fill="#d95f02" fill-opacity="0.9"/>
<circle cx="88.4" cy="180.1" r="6.1" fill="#d95f02" fill-opacity="0.9"/>
<circle cx="90.1" cy="178.6" r="6.1" fill="#d95f02" fill-opacity="0.9"/>
<circle cx="91.9" cy="174.6" r="6.1" fill="#d95f02" fill-opacity="0.9"/>
<circle cx="93.7" cy="172.7" r="6.1" fill="#d95f02" fill-opacity="0.9"/>
<circle cx="95.4" cy="169.4" r="6.1" fill="#d95f02" fill-opacity="0.9"/>
<circle cx="97.2" cy="163.3" r="6.1" fill="#d95f02" fill-opacity="0.9"/>
<circle cx="99" cy="160.5" r="6.1" fill="#d95f02" fill-opacity="0.9"/>
<circle cx="100.7" cy="156.6" r="6.1" fill="#d95f02" fill-opacity="0.9"/>
<circle cx="102.5" cy="155.6" r="6.1" fill="#d95f02" fill-opacity="0.9"/>
<circle cx="104.2" cy="150.7" r="6.1" fill="#d95f02" fill-opacity="0.9"/>
<circle cx="106" cy="145.7" r="6.1" fill="#d95f02" fill-opacity="0.9"/>
<circle cx="107.8" cy="141.8" r="6.1" fill="#d95f02" fill-opacity="0.9"/>
<circle cx="109.5" cy="142" r="6.1" fill="#d95f02" fill-opacity="0.9"/>
<circle cx="111.3" cy="140" r="6.1" fill="#d95f02" fill-opacity="0.9"/>
<circle cx="113" cy="139.9" r="6.1" fill="#d95f02" fill-opacity="0.9"/>
<circle cx="114.8" cy="139.9" r="6.1" fill="#d95f02" fill-opacity="0.9"/>
<circle cx="116.6" cy="139.3" r="6.1" fill="#d95f02" fill-opacity="0.9"/>
<circle cx="118.3" cy="137.3" r="6.1" fill="#d95f02" fill-opacity="0.9"/>
<circle cx="120.1" cy="137.9" r="6.1" fill="#d95f02" fill-opacity="0.9"/>
<circle cx="121.9" cy="136.3" r="6.1" fill="#d95f02" fill-opacity="0.9"/>
<circle cx="123.6" cy="135" r="6.1" fill="#d95f02" fill-opacity="0.9"/>
<circle cx="125.4" cy="135.5" r="6.1" fill="#d95f02" fill-opacity="0.9"/>
<circle cx="127.1" cy="134.7" r="6.1" fill="#d95f02" fill-opacity="0.9"/>
<circle cx="128.9" cy="133.3" r="6.1" fill="#d95f02" fill-opacity="0.9"/>
<circle cx="130.7" cy="132.7" r="6.1" fill="#d95f02" fill-opacity="0.9"/>
<circle cx="132.4" cy="132.3" r="6.1" fill="#d95f02" fill-opacity="0.9"/>
<circle cx="134.2" cy="131.6" r="6.1" fill="#d95f02" fill-opacity="0.9"/>
<circle cx="136" cy="131.2" r="6.1" fill="#d95f02" fill-opacity="0.9"/>
<circle cx="137.7" cy="130.6" r="6.1" fill="#d95f02" fill-opacity="0.9"/>
<circle cx="139.5" cy="128.8" r="6.1" fill="#d95f02" fill-opacity="0.9"/>
<circle cx="141.2" cy="127.9" r="6.1" fill="#d95f02" fill-opacity="0.9"/>
<circle cx="143" cy="127.6" r="6.1" fill="#d95f02" fill-opacity="0.9"/>
<circle cx="144.8" cy="127.5" r="6.1" fill="#d95f02" fill-opacity="0.9"/>
<circle cx="146.5" cy="127.6" r="6.1" fill="#d95f02" fill-opacity="0.9"/>
<circle cx="148.3" cy="127.9" r="6.1" fill="#d95f02" fill-opacity="0.9"/>
<circle cx="150.1" cy="126.1" r="6.1" fill="#d95f02" fill-opacity="0.9"/>
<circle cx="151.8" cy="125.3" r="6.1" fill="#d95f02" fill-opacity="0.9"/>
<circle cx="153.6" cy="125" r="6.1" fill="#d95f02" fill-opacity="0.9"/>
<circle cx="155.3" cy="125.2" r="6.1" fill="#d95f02" fill-opacity="0.9"/>
<circle cx="157.1" cy="123.9" r="6.1" fill="#d95f02" fill-opacity="0.9"/>
<circle cx="158.9" cy="122.8" r="6.1" fill="#d95f02" fill-opacity="0.9"/>
<circle cx="160.6" cy="123.4" r="6.1" fill="#d95f02" fill-opacity="0.9"/>
<circle cx="162.4" cy="123.4" r="6.1" fill="#d95f02" fill-opacity="0.9"/>
<circle cx="164.1" cy="122.6" r="6.1" fill="#d95f02" fill-opacity="0.9"/>
<circle cx="165.9" cy="121.2" r="6.1" fill="#d95f02" fill-opacity="0.9"/>
<circle cx="167.7" cy="120.1" r="6.1" fill="#d95f02" fill-opacity="0.9"/>
<circle cx="169.4" cy="120.2" r="6.1" fill="#d95f02" fill-opacity="0.9"/>
<circle cx="171.2" cy="118.9" r="6.1" fill="#d95f02" fill-opacity="0.9"/>
<circle cx="173" cy="118.4" r="6.1" fill="#d95f02" fill-opacity="0.9"/>
<circle cx="174.7" cy="118.6" r="6.1" fill="#d95f02" fill-opacity="0.9"/>
<circle cx="176.5" cy="119.1" r="6.1" fill="#d95f02" fill-opacity="0.9"/>
<circle cx="178.2" cy="118.3" r="6.1" fill="#d95f02" fill-opacity="0.9"/>
<circle cx="180" cy="117.3" r="6.1" fill="#d95f02" fill-opacity="0.9"/>
<circle cx="181.8" cy="118.1" r="6.1" fill="#d95f02" fill-opacity="0.9"/>
<circle cx="183.5" cy="115.9" r="6.1" fill="#d95f02" fill-opacity="0.9"/>
<circle cx="185.3" cy="115.5" r="6.1" fill="#d95f02" fill-opacity="0.9"/>
<circle cx="187.1" cy="115" r="6.1" fill="#d95f02" fill-opacity="0.9"/>
<circle cx="188.8" cy="115" r="6.1" fill="#d95f02" fill-opacity="0.9"/>
<circle cx="190.6" cy="115.1" r="6.1" fill="#d95f02" fill-opacity="0.9"/>
<circle cx="192.3" cy="113.2" r="6.1" fill="#d95f02" fill-opacity="0.9"/>
<circle cx="194.1" cy="113.4" r="6.1" fill="#d95f02" fill-opacity="0.9"/>
<circle cx="195.9" cy="112.8" r="6.1" fill="#d95f02" fill-opacity="0.9"/>
<circle cx="197.6" cy="111" r="6.1" fill="#d95f02" fill-opacity="0.9"/>
<circle cx="199.4" cy="111.1" r="6.1" fill="#d95f02" fill-opacity="0.9"/>
<circle cx="201.2" cy="110.4" r="6.1" fill="#d95f02" fill-opacity="0.9"/>
<circle cx="202.9" cy="108.9" r="6.1" fill="#d95f02" fill-opacity="0.9"/>
<circle cx="204.7" cy="107.7" r="6.1" fill="#d95f02" fill-opacity="0.9"/>
<circle cx="206.4" cy="106.9" r="6.1" fill="#d95f02" fill-opacity="0.9"/>
<circle cx="208.2" cy="106.7" r="6.1" fill="#d95f02" fill-opacity="0.9"/>
<circle cx="210" cy="106.6" r="6.1" fill="#d95f02" fill-opacity="0.9"/>
<circle cx="211.7" cy="105" r="6.1" fill="#d95f02" fill-opacity="0.9"/>
<circle cx="213.5" cy="105.2" r="6.1" fill="#d95f02" fill-opacity="0.9"/>
<circle cx="215.2" cy="105.1" r="6.1" fill="#d95f02" fill-opacity="0.9"/>
<circle cx="217" cy="104.2" r="6.1" fill="#d95f02" fill-opacity="0.9"/>
<circle cx="218.8" cy="104.6" r="6.1" fill="#d95f02" fill-opacity="0.9"/>
<circle cx="220.5" cy="103.7" r="6.1" fill="#d95f02" fill-opacity="0.9"/>
<circle cx="222.3" cy="103.2" r="6.1" fill="#d95f02" fill-opacity="0.9"/>
<circle cx="224.1" cy="102.9" r="6.1" fill="#d95f02" fill-opacity="0.9"/>
<circle cx="225.8" cy="102.4" r="6.1" fill="#d95f02" fill-opacity="0.9"/>
<circle cx="227.6" cy="101.6" r="6.1" fill="#d95f02" fill-opacity="0.9"/>
<circle cx="229.3" cy="100.6" r="6.1" fill="#d95f02" fill-opacity="0.9"/>
<circle cx="231.1" cy="101" r="6.1" fill="#d95f02" fill-opacity="0.9"/>
<circle cx="232.9" cy="99.4" r="6.1" fill="#d95f02" fill-opacity="0.9"/>
<circle cx="234.6" cy="98.9" r="6.1" fill="#d95f02" fill-opacity="0.9"/>
<circle cx="236.4" cy="99.2" r="6.1" fill="#d95f02" fill-opacity="0.9"/>
<circle cx="238.2" cy="98.5" r="6.1" fill="#d95f02" fill-opacity="0.9"/>
<circle cx="239.9" cy="99.2" r="6.1" fill="#d95f02" fill-opacity="0.9"/>
<circle cx="241.7" cy="97.2" r="6.1" fill="#d95f02" fill-opacity="0.9"/>
<circle cx="243.4" cy="97" r="6.1" fill="#d95f02" fill-opacity="0.9"/>
<circle cx="245.2" cy="96.6" r="6.1" fill="#d95f02" fill-opacity="0.9"/>
<circle cx="247" cy="95.1" r="6.1" fill="#d95f02" fill-opacity="0.9"/>
<circle cx="248.7" cy="95" r="6.1" fill="#d95f02" fill-opacity="0.9"/>
<circle cx="250.5" cy="92.6" r="6.1" fill="#d95f02" fill-opacity="0.9"/>
<circle cx="252.2" cy="91.6" r="6.1" fill="#d95f02" fill-opacity="0.9"/>
<circle cx="254" cy="90.5" r="6.1" fill="#d95f02" fill-opacity="0.9"/>
<circle cx="255.8" cy="89.4" r="6.1" fill="#d95f02" fill-opacity="0.9"/>
<circle cx="257.5" cy="88.9" r="6.1" fill="#d95f02" fill-opacity="0.9"/>
<circle cx="259.3" cy="87.2" r="6.1" fill="#d95f02" fill-opacity="0.9"/>
<circle cx="261.1" cy="86.5" r="6.1" fill="#d95f02" fill-opacity="0.9"/>
<circle cx="262.8" cy="84.8" r="6.1" fill="#d95f02" fill-opacity="0.9"/>
<circle cx="264.6" cy="82.8" r="6.1" fill="#d95f02" fill-opacity="0.9"/>
<circle cx="266.3" cy="81.6" r="6.1" fill="#d95f02" fill-opacity="0.9"/>
<circle cx="268.1" cy="78.6" r="6.1" fill="#d95f02" fill-opacity="0.9"/>
<circle cx="269.9" cy="78.2" r="6.1" fill="#d95f02" fill-opacity="0.9"/>
<circle cx="271.8" cy="67.3" r="6.1" fill="#d95f02" fill-opacity="0.9"/>
<circle cx="273.7" cy="49.8" r="6.1" fill="#d95f02" fill-opacity="0.9"/>
<circle cx="275.6" cy="43.2" r="6.1" fill="#d95f02" fill-opacity="0.9"/>
<circle cx="277.2" cy="36.2" r="6.1" fill="#d95f02" fill-opacity="0.9"/>
<circle cx="70.8" cy="268.6" r="6.1" fill="#d62d24" fill-opacity="0.9"/>
<circle cx="72.5" cy="268.6" r="6.1" fill="#d62d24" fill-opacity="0.9"/>
<circle cx="74.3" cy="268.6" r="6.1" fill="#d62d24" fill-opacity="0.9"/>
<circle cx="76" cy="268.6" r="6.1" fill="#d62d24" fill-opacity="0.9"/>
<circle cx="77.8" cy="268.6" r="6.1" fill="#d62d24" fill-opacity="0.9"/>
<circle cx="79.6" cy="268.6" r="6.1" fill="#d62d24" fill-opacity="0.9"/>
<circle cx="81.3" cy="268.6" r="6.1" fill="#d62d24" fill-opacity="0.9"/>
<circle cx="83.1" cy="268.6" r="6.1" fill="#d62d24" fill-opacity="0.9"/>
<circle cx="84.9" cy="268.6" r="6.1" fill="#d62d24" fill-opacity="0.9"/>
<circle cx="86.6" cy="268.6" r="6.1" fill="#d62d24" fill-opacity="0.9"/>
<circle cx="88.4" cy="268.6" r="6.1" fill="#d62d24" fill-opacity="0.9"/>
<circle cx="90.1" cy="268.6" r="6.1" fill="#d62d24" fill-opacity="0.9"/>
<circle cx="91.9" cy="268.6" r="6.1" fill="#d62d24" fill-opacity="0.9"/>
<circle cx="93.7" cy="268.6" r="6.1" fill="#d62d24" fill-opacity="0.9"/>
<circle cx="95.4" cy="268.6" r="6.1" fill="#d62d24" fill-opacity="0.9"/>
<circle cx="97.2" cy="268.6" r="6.1" fill="#d62d24" fill-opacity="0.9"/>
<circle cx="99" cy="268.6" r="6.1" fill="#d62d24" fill-opacity="0.9"/>
<circle cx="100.7" cy="268.6" r="6.1" fill="#d62d24" fill-opacity="0.9"/>
<circle cx="102.5" cy="268.6" r="6.1" fill="#d62d24" fill-opacity="0.9"/>
<circle cx="104.2" cy="268.6" r="6.1" fill="#d62d24" fill-opacity="0.9"/>
<circle cx="106" cy="268.6" r="6.1" fill="#d62d24" fill-opacity="0.9"/>
<circle cx="107.8" cy="268.6" r="6.1" fill="#d62d24" fill-opacity="0.9"/>
<circle cx="109.5" cy="268.6" r="6.1" fill="#d62d24" fill-opacity="0.9"/>
<circle cx="111.3" cy="268.6" r="6.1" fill="#d62d24" fill-opacity="0.9"/>
<circle cx="113" cy="268.6" r="6.1" fill="#d62d24" fill-opacity="0.9"/>
<circle cx="114.8" cy="268.6" r="6.1" fill="#d62d24" fill-opacity="0.9"/>
<circle cx="116.6" cy="268.6" r="6.1" fill="#d62d24" fill-opacity="0.9"/>
<circle cx="118.3" cy="268.6" r="6.1" fill="#d62d24" fill-opacity="0.9"/>
<circle cx="120.1" cy="268.6" r="6.1" fill="#d62d24" fill-opacity="0.9"/>
<circle cx="121.9" cy="268.6" r="6.1" fill="#d62d24" fill-opacity="0.9"/>
<circle cx="123.6" cy="268.6" r="6.1" fill="#d62d24" fill-opacity="0.9"/>
<circle cx="125.4" cy="268.6" r="6.1" fill="#d62d24" fill-opacity="0.9"/>
<circle cx="127.1" cy="268.6" r="6.1" fill="#d62d24" fill-opacity="0.9"/>
<circle cx="128.9" cy="268.6" r="6.1" fill="#d62d24" fill-opacity="0.9"/>
<circle cx="130.7" cy="268.6" r="6.1" fill="#d62d24" fill-opacity="0.9"/>
<circle cx="132.4" cy="268.6" r="6.1" fill="#d62d24" fill-opacity="0.9"/>
<circle cx="134.2" cy="268.6" r="6.1" fill="#d62d24" fill-opacity="0.9"/>
<circle cx="136" cy="230.7" r="6.1" fill="#d62d24" fill-opacity="0.9"/>
<circle cx="137.7" cy="213.5" r="6.1" fill="#d62d24" fill-opacity="0.9"/>
<circle cx="139.5" cy="199.2" r="6.1" fill="#d62d24" fill-opacity="0.9"/>
<circle cx="141.2" cy="195.8" r="6.1" fill="#d62d24" fill-opacity="0.9"/>
<circle cx="143" cy="190.7" r="6.1" fill="#d62d24" fill-opacity="0.9"/>
<circle cx="144.8" cy="189.6" r="6.1" fill="#d62d24" fill-opacity="0.9"/>
<circle cx="146.5" cy="190.2" r="6.1" fill="#d62d24" fill-opacity="0.9"/>
<circle cx="148.3" cy="189.1" r="6.1" fill="#d62d24" fill-opacity="0.9"/>
<circle cx="150.1" cy="185.6" r="6.1" fill="#d62d24" fill-opacity="0.9"/>
<circle cx="151.8" cy="183.6" r="6.1" fill="#d62d24" fill-opacity="0.9"/>
<circle cx="153.6" cy="179.5" r="6.1" fill="#d62d24" fill-opacity="0.9"/>
<circle cx="155.3" cy="174" r="6.1" fill="#d62d24" fill-opacity="0.9"/>
<circle cx="157.1" cy="170.7" r="6.1" fill="#d62d24" fill-opacity="0.9"/>
<circle cx="158.9" cy="168.6" r="6.1" fill="#d62d24" fill-opacity="0.9"/>
<circle cx="160.6" cy="166.2" r="6.1" fill="#d62d24" fill-opacity="0.9"/>
<circle cx="162.4" cy="163.8" r="6.1" fill="#d62d24" fill-opacity="0.9"/>
<circle cx="164.1" cy="162.8" r="6.1" fill="#d62d24" fill-opacity="0.9"/>
<circle cx="165.9" cy="162" r="6.1" fill="#d62d24" fill-opacity="0.9"/>
<circle cx="167.7" cy="159.6" r="6.1" fill="#d62d24" fill-opacity="0.9"/>
<circle cx="169.4" cy="158.2" r="6.1" fill="#d62d24" fill-opacity="0.9"/>
<circle cx="171.2" cy="156.8" r="6.1" fill="#d62d24" fill-opacity="0.9"/>
<circle cx="173" cy="157.1" r="6.1" fill="#d62d24" fill-opacity="0.9"/>
<circle cx="174.7" cy="157.7" r="6.1" fill="#d62d24" fill-opacity="0.9"/>
<circle cx="176.5" cy="156.7" r="6.1" fill="#d62d24" fill-opacity="0.9"/>
<circle cx="178.2" cy="154.7" r="6.1" fill="#d62d24" fill-opacity="0.9"/>
<circle cx="180" cy="155" r="6.1" fill="#d62d24" fill-opacity="0.9"/>
<circle cx="181.8" cy="155.1" r="6.1" fill="#d62d24" fill-opacity="0.9"/>
<circle cx="183.5" cy="153.2" r="6.1" fill="#d62d24" fill-opacity="0.9"/>
<circle cx="185.3" cy="154.1" r="6.1" fill="#d62d24" fill-opacity="0.9"/>
<circle cx="187.1" cy="152.2" r="6.1" fill="#d62d24" fill-opacity="0.9"/>
<circle cx="188.8" cy="152.1" r="6.1" fill="#d62d24" fill-opacity="0.9"/>
<circle cx="190.6" cy="152.2" r="6.1" fill="#d62d24" fill-opacity="0.9"/>
<circle cx="192.3" cy="151.6" r="6.1" fill="#d62d24" fill-opacity="0.9"/>
<circle cx="194.1" cy="148.7" r="6.1" fill="#d62d24" fill-opacity="0.9"/>
<circle cx="195.9" cy="149.2" r="6.1" fill="#d62d24" fill-opacity="0.9"/>
<circle cx="197.6" cy="148.1" r="6.1" fill="#d62d24" fill-opacity="0.9"/>
<circle cx="199.4" cy="146.6" r="6.1" fill="#d62d24" fill-opacity="0.9"/>
<circle cx="201.2" cy="145" r="6.1" fill="#d62d24" fill-opacity="0.9"/>
<circle cx="202.9" cy="142.6" r="6.1" fill="#d62d24" fill-opacity="0.9"/>
<circle cx="204.7" cy="141.2" r="6.1" fill="#d62d24" fill-opacity="0.9"/>
<circle cx="206.4" cy="139.3" r="6.1" fill="#d62d24" fill-opacity="0.9"/>
<circle cx="208.2" cy="138.8" r="6.1" fill="#d62d24" fill-opacity="0.9"/>
<circle cx="210" cy="137.6" r="6.1" fill="#d62d24" fill-opacity="0.9"/>
<circle cx="211.7" cy="136.5" r="6.1" fill="#d62d24" fill-opacity="0.9"/>
<circle cx="213.5" cy="137.6" r="6.1" fill="#d62d24" fill-opacity="0.9"/>
<circle cx="215.2" cy="136.8" r="6.1" fill="#d62d24" fill-opacity="0.9"/>
<circle cx="217" cy="136.6" r="6.1" fill="#d62d24" fill-opacity="0.9"/>
<circle cx="218.8" cy="135.4" r="6.1" fill="#d62d24" fill-opacity="0.9"/>
<circle cx="220.5" cy="134.9" r="6.1" fill="#d62d24" fill-opacity="0.9"/>
<circle cx="222.3" cy="135.5" r="6.1" fill="#d62d24" fill-opacity="0.9"/>
<circle cx="224.1" cy="134.7" r="6.1" fill="#d62d24" fill-opacity="0.9"/>
<circle cx="225.8" cy="135.2" r="6.1" fill="#d62d24" fill-opacity="0.9"/>
<circle cx="227.6" cy="135.5" r="6.1" fill="#d62d24" fill-opacity="0.9"/>
<circle cx="229.3" cy="134.3" r="6.1" fill="#d62d24" fill-opacity="0.9"/>
<circle cx="231.1" cy="133.8" r="6.1" fill="#d62d24" fill-opacity="0.9"/>
<circle cx="232.9" cy="133.3" r="6.1" fill="#d62d24" fill-opacity="0.9"/>
<circle cx="234.6" cy="133.9" r="6.1" fill="#d62d24" fill-opacity="0.9"/>
<circle cx="236.4" cy="131.7" r="6.1" fill="#d62d24" fill-opacity="0.9"/>
<circle cx="238.2" cy="133" r="6.1" fill="#d62d24" fill-opacity="0.9"/>
<circle cx="239.9" cy="132.1" r="6.1" fill="#d62d24" fill-opacity="0.9"/>
<circle cx="241.7" cy="131.5" r="6.1" fill="#d62d24" fill-opacity="0.9"/>
<circle cx="243.4" cy="131.4" r="6.1" fill="#d62d24" fill-opacity="0.9"/>
<circle cx="245.2" cy="129.4" r="6.1" fill="#d62d24" fill-opacity="0.9"/>
<circle cx="247" cy="130.8" r="6.1" fill="#d62d24" fill-opacity="0.9"/>
<circle cx="248.7" cy="129" r="6.1" fill="#d62d24" fill-opacity="0.9"/>
<circle cx="250.5" cy="128.7" r="6.1" fill="#d62d24" fill-opacity="0.9"/>
<circle cx="252.2" cy="128.4" r="6.1" fill="#d62d24" fill-opacity="0.9"/>
<circle cx="254" cy="128.7" r="6.1" fill="#d62d24" fill-opacity="0.9"/>
<circle cx="255.8" cy="126.7" r="6.1" fill="#d62d24" fill-opacity="0.9"/>
<circle cx="257.5" cy="127.1" r="6.1" fill="#d62d24" fill-opacity="0.9"/>
<circle cx="259.3" cy="127.9" r="6.1" fill="#d62d24" fill-opacity="0.9"/>
<circle cx="261.1" cy="125.9" r="6.1" fill="#d62d24" fill-opacity="0.9"/>
<circle cx="262.8" cy="126.6" r="6.1" fill="#d62d24" fill-opacity="0.9"/>
<circle cx="264.6" cy="125.2" r="6.1" fill="#d62d24" fill-opacity="0.9"/>
<circle cx="266.3" cy="125.8" r="6.1" fill="#d62d24" fill-opacity="0.9"/>
<circle cx="268.1" cy="125.2" r="6.1" fill="#d62d24" fill-opacity="0.9"/>
<circle cx="269.9" cy="125.1" r="6.1" fill="#d62d24" fill-opacity="0.9"/>
<circle cx="271.6" cy="123.5" r="6.1" fill="#d62d24" fill-opacity="0.9"/>
<circle cx="273.4" cy="123.5" r="6.1" fill="#d62d24" fill-opacity="0.9"/>
<circle cx="275.2" cy="124.6" r="6.1" fill="#d62d24" fill-opacity="0.9"/>
<circle cx="276.9" cy="122.6" r="6.1" fill="#d62d24" fill-opacity="0.9"/>
<circle cx="278.7" cy="122.4" r="6.1" fill="#d62d24" fill-opacity="0.9"/>
<circle cx="280.4" cy="123.5" r="6.1" fill="#d62d24" fill-opacity="0.9"/>
<circle cx="282.2" cy="121.5" r="6.1" fill="#d62d24" fill-opacity="0.9"/>
<circle cx="284" cy="121.7" r="6.1" fill="#d62d24" fill-opacity="0.9"/>
<circle cx="285.7" cy="121" r="6.1" fill="#d62d24" fill-opacity="0.9"/>
<circle cx="287.5" cy="119.5" r="6.1" fill="#d62d24" fill-opacity="0.9"/>
<circle cx="289.2" cy="120.4" r="6.1" fill="#d62d24" fill-opacity="0.9"/>
<circle cx="291" cy="119.5" r="6.1" fill="#d62d24" fill-opacity="0.9"/>
<circle cx="292.8" cy="119.9" r="6.1" fill="#d62d24" fill-opacity="0.9"/>
<circle cx="294.5" cy="119.5" r="6.1" fill="#d62d24" fill-opacity="0.9"/>
<circle cx="296.3" cy="117" r="6.1" fill="#d62d24" fill-opacity="0.9"/>
<circle cx="298.1" cy="117.6" r="6.1" fill="#d62d24" fill-opacity="0.9"/>
<circle cx="299.8" cy="116.5" r="6.1" fill="#d62d24" fill-opacity="0.9"/>
<circle cx="301.6" cy="115.5" r="6.1" fill="#d62d24" fill-opacity="0.9"/>
<circle cx="303.3" cy="116.6" r="6.1" fill="#d62d24" fill-opacity="0.9"/>
<circle cx="305.1" cy="114" r="6.1" fill="#d62d24" fill-opacity="0.9"/>
<circle cx="306.9" cy="114.2" r="6.1" fill="#d62d24" fill-opacity="0.9"/>
<circle cx="308.6" cy="112.8" r="6.1" fill="#d62d24" fill-opacity="0.9"/>
<circle cx="310.4" cy="112.8" r="6.1" fill="#d62d24" fill-opacity="0.9"/>
<circle cx="312.2" cy="111.2" r="6.1" fill="#d62d24" fill-opacity="0.9"/>
<circle cx="313.9" cy="111.9" r="6.1" fill="#d62d24" fill-opacity="0.9"/>
<circle cx="315.7" cy="110.2" r="6.1" fill="#d62d24" fill-opacity="0.9"/>
<circle cx="317.4" cy="108.9" r="6.1" fill="#d62d24" fill-opacity="0.9"/>
<circle cx="319.2" cy="109.5" r="6.1" fill="#d62d24" fill-opacity="0.9"/>
<circle cx="321" cy="107.6" r="6.1" fill="#d62d24" fill-opacity="0.9"/>
<circle cx="322.7" cy="108.7" r="6.1" fill="#d62d24" fill-opacity="0.9"/>
<circle cx="324.5" cy="107.4" r="6.1" fill="#d62d24" fill-opacity="0.9"/>
<circle cx="326.3" cy="108.5" r="6.1" fill="#d62d24" fill-opacity="0.9"/>
<circle cx="328" cy="107" r="6.1" fill="#d62d24" fill-opacity="0.9"/>
<circle cx="329.8" cy="107.5" r="6.1" fill="#d62d24" fill-opacity="0.9"/>
<circle cx="331.5" cy="107.2" r="6.1" fill="#d62d24" fill-opacity="0.9"/>
<circle cx="333.3" cy="106.5" r="6.1" fill="#d62d24" fill-opacity="0.9"/>
<circle cx="335.1" cy="106.9" r="6.1" fill="#d62d24" fill-opacity="0.9"/>
<circle cx="336.8" cy="105.8" r="6.1" fill="#d62d24" fill-opacity="0.9"/>
<circle cx="338.6" cy="104.4" r="6.1" fill="#d62d24" fill-opacity="0.9"/>
<circle cx="340.3" cy="104.2" r="6.1" fill="#d62d24" fill-opacity="0.9"/>
<circle cx="342.1" cy="103.6" r="6.1" fill="#d62d24" fill-opacity="0.9"/>
<circle cx="343.9" cy="102.1" r="6.1" fill="#d62d24" fill-opacity="0.9"/>
<circle cx="345.6" cy="101.4" r="6.1" fill="#d62d24" fill-opacity="0.9"/>
<circle cx="347.4" cy="99.7" r="6.1" fill="#d62d24" fill-opacity="0.9"/>
<circle cx="349.2" cy="99.6" r="6.1" fill="#d62d24" fill-opacity="0.9"/>
<circle cx="350.9" cy="100.2" r="6.1" fill="#d62d24" fill-opacity="0.9"/>
<circle cx="352.7" cy="98.7" r="6.1" fill="#d62d24" fill-opacity="0.9"/>
<circle cx="354.4" cy="97.9" r="6.1" fill="#d62d24" fill-opacity="0.9"/>
<circle cx="356.2" cy="98.7" r="6.1" fill="#d62d24" fill-opacity="0.9"/>
<circle cx="358" cy="96.6" r="6.1" fill="#d62d24" fill-opacity="0.9"/>
<circle cx="359.7" cy="96.1" r="6.1" fill="#d62d24" fill-opacity="0.9"/>
<circle cx="361.5" cy="95.7" r="6.1" fill="#d62d24" fill-opacity="0.9"/>
<circle cx="363.3" cy="95.5" r="6.1" fill="#d62d24" fill-opacity="0.9"/>
<circle cx="365" cy="94.8" r="6.1" fill="#d62d24" fill-opacity="0.9"/>
<circle cx="366.8" cy="95.1" r="6.1" fill="#d62d24" fill-opacity="0.9"/>
<circle cx="368.5" cy="94.8" r="6.1" fill="#d62d24" fill-opacity="0.9"/>
<circle cx="370.3" cy="96" r="6.1" fill="#d62d24" fill-opacity="0.9"/>
<circle cx="372.1" cy="94.2" r="6.1" fill="#d62d24" fill-opacity="0.9"/>
<circle cx="373.8" cy="94.6" r="6.1" fill="#d62d24" fill-opacity="0.9"/>
<circle cx="375.6" cy="93.6" r="6.1" fill="#d62d24" fill-opacity="0.9"/>
<circle cx="377.4" cy="94.2" r="6.1" fill="#d62d24" fill-opacity="0.9"/>
<circle cx="379.1" cy="92.5" r="6.1" fill="#d62d24" fill-opacity="0.9"/>
<circle cx="380.9" cy="92.6" r="6.1" fill="#d62d24" fill-opacity="0.9"/>
<circle cx="382.6" cy="91.6" r="6.1" fill="#d62d24" fill-opacity="0.9"/>
<circle cx="384.4" cy="91.4" r="6.1" fill="#d62d24" fill-opacity="0.9"/>
<circle cx="386.2" cy="90.7" r="6.1" fill="#d62d24" fill-opacity="0.9"/>
<circle cx="387.9" cy="90.5" r="6.1" fill="#d62d24" fill-opacity="0.9"/>
<circle cx="389.7" cy="91.1" r="6.1" fill="#d62d24" fill-opacity="0.9"/>
<circle cx="391.4" cy="88.5" r="6.1" fill="#d62d24" fill-opacity="0.9"/>
<circle cx="393.2" cy="88.4" r="6.1" fill="#d62d24" fill-opacity="0.9"/>
<circle cx="395" cy="88.7" r="6.1" fill="#d62d24" fill-opacity="0.9"/>
<circle cx="396.7" cy="88.9" r="6.1" fill="#d62d24" fill-opacity="0.9"/>
<circle cx="398.5" cy="87.5" r="6.1" fill="#d62d24" fill-opacity="0.9"/>
<circle cx="400.3" cy="87.2" r="6.1" fill="#d62d24" fill-opacity="0.9"/>
<circle cx="402" cy="86.8" r="6.1" fill="#d62d24" fill-opacity="0.9"/>
<circle cx="403.8" cy="86.6" r="6.1" fill="#d62d24" fill-opacity="0.9"/>
<circle cx="405.5" cy="86.6" r="6.1" fill="#d62d24" fill-opacity="0.9"/>
<circle cx="407.3" cy="86.9" r="6.1" fill="#d62d24" fill-opacity="0.9"/>
<circle cx="409.1" cy="84.9" r="6.1" fill="#d62d24" fill-opacity="0.9"/>
<circle cx="410.8" cy="84.9" r="6.1" fill="#d62d24" fill-opacity="0.9"/>
<circle cx="412.6" cy="84.7" r="6.1" fill="#d62d24" fill-opacity="0.9"/>
<circle cx="414.4" cy="85.3" r="6.1" fill="#d62d24" fill-opacity="0.9"/>
<circle cx="416.1" cy="85.3" r="6.1" fill="#d62d24" fill-opacity="0.9"/>
<circle cx="417.9" cy="83.5" r="6.1" fill="#d62d24" fill-opacity="0.9"/>
<circle cx="419.6" cy="83" r="6.1" fill="#d62d24" fill-opacity="0.9"/>
<circle cx="421.4" cy="83" r="6.1" fill="#d62d24" fill-opacity="0.9"/>
<circle cx="423.2" cy="83.4" r="6.1" fill="#d62d24" fill-opacity="0.9"/>
<circle cx="424.9" cy="83.5" r="6.1" fill="#d62d24" fill-opacity="0.9"/>
<circle cx="426.7" cy="83.6" r="6.1" fill="#d62d24" fill-opacity="0.9"/>
<circle cx="428.4" cy="81.7" r="6.1" fill="#d62d24" fill-opacity="0.9"/>
<circle cx="430.2" cy="81.3" r="6.1" fill="#d62d24" fill-opacity="0.9"/>
<circle cx="432" cy="81.8" r="6.1" fill="#d62d24" fill-opacity="0.9"/>
<circle cx="433.7" cy="81" r="6.1" fill="#d62d24" fill-opacity="0.9"/>
<circle cx="435.5" cy="80.8" r="6.1" fill="#d62d24" fill-opacity="0.9"/>
<circle cx="437.3" cy="78.8" r="6.1" fill="#d62d24" fill-opacity="0.9"/>
<circle cx="439" cy="79.4" r="6.1" fill="#d62d24" fill-opacity="0.9"/>
<circle cx="440.8" cy="79.6" r="6.1" fill="#d62d24" fill-opacity="0.9"/>
<circle cx="442.5" cy="78.3" r="6.1" fill="#d62d24" fill-opacity="0.9"/>
<circle cx="444.3" cy="78.2" r="6.1" fill="#d62d24" fill-opacity="0.9"/>
<circle cx="446.1" cy="79.6" r="6.1" fill="#d62d24" fill-opacity="0.9"/>
<circle cx="447.8" cy="77.9" r="6.1" fill="#d62d24" fill-opacity="0.9"/>
<circle cx="449.6" cy="78.1" r="6.1" fill="#d62d24" fill-opacity="0.9"/>
<circle cx="451.4" cy="77.5" r="6.1" fill="#d62d24" fill-opacity="0.9"/>
<circle cx="453.1" cy="79.1" r="6.1" fill="#d62d24" fill-opacity="0.9"/>
<circle cx="454.9" cy="78.2" r="6.1" fill="#d62d24" fill-opacity="0.9"/>
<circle cx="456.6" cy="77" r="6.1" fill="#d62d24" fill-opacity="0.9"/>
<circle cx="458.4" cy="77.1" r="6.1" fill="#d62d24" fill-opacity="0.9"/>
<circle cx="460.2" cy="76.8" r="6.1" fill="#d62d24" fill-opacity="0.9"/>
<circle cx="461.9" cy="75.5" r="6.1" fill="#d62d24" fill-opacity="0.9"/>
<circle cx="463.7" cy="76.7" r="6.1" fill="#d62d24" fill-opacity="0.9"/>
<circle cx="465.4" cy="74.9" r="6.1" fill="#d62d24" fill-opacity="0.9"/>
<circle cx="467.2" cy="75.2" r="6.1" fill="#d62d24" fill-opacity="0.9"/>
<circle cx="469" cy="75.6" r="6.1" fill="#d62d24" fill-opacity="0.9"/>
<circle cx="470.7" cy="74.2" r="6.1" fill="#d62d24" fill-opacity="0.9"/>
<circle cx="472.5" cy="74.9" r="6.1" fill="#d62d24" fill-opacity="0.9"/>
<circle cx="474.3" cy="74.9" r="6.1" fill="#d62d24" fill-opacity="0.9"/>
<circle cx="476" cy="74" r="6.1" fill="#d62d24" fill-opacity="0.9"/>
<circle cx="477.8" cy="73.1" r="6.1" fill="#d62d24" fill-opacity="0.9"/>
<circle cx="479.5" cy="73.7" r="6.1" fill="#d62d24" fill-opacity="0.9"/>
<circle cx="481.3" cy="71.9" r="6.1" fill="#d62d24" fill-opacity="0.9"/>
<circle cx="483.1" cy="72.9" r="6.1" fill="#d62d24" fill-opacity="0.9"/>
<circle cx="484.8" cy="71.5" r="6.1" fill="#d62d24" fill-opacity="0.9"/>
<circle cx="486.6" cy="70.8" r="6.1" fill="#d62d24" fill-opacity="0.9"/>
<circle cx="488.4" cy="71" r="6.1" fill="#d62d24" fill-opacity="0.9"/>
<circle cx="490.1" cy="68.7" r="6.1" fill="#d62d24" fill-opacity="0.9"/>
<circle cx="491.9" cy="68.5" r="6.1" fill="#d62d24" fill-opacity="0.9"/>
<circle cx="493.6" cy="69" r="6.1" fill="#d62d24" fill-opacity="0.9"/>
<circle cx="495.4" cy="66.9" r="6.1" fill="#d62d24" fill-opacity="0.9"/>
<circle cx="497.2" cy="68" r="6.1" fill="#d62d24" fill-opacity="0.9"/>
<circle cx="498.9" cy="66.1" r="6.1" fill="#d62d24" fill-opacity="0.9"/>
<circle cx="500.7" cy="65.3" r="6.1" fill="#d62d24" fill-opacity="0.9"/>
<circle cx="502.5" cy="65.5" r="6.1" fill="#d62d24" fill-opacity="0.9"/>
<circle cx="504.2" cy="62" r="6.1" fill="#d62d24" fill-opacity="0.9"/>
<circle cx="506" cy="61.5" r="6.1" fill="#d62d24" fill-opacity="0.9"/>
<circle cx="507.7" cy="52.3" r="6.1" fill="#d62d24" fill-opacity="0.9"/>
</g>
<text x="560.5" y="86.4" font-size="13" fill="#222">Class</text>
<line x1="559" y1="100.8" x2="581.2" y2="100.8" stroke="#7a7a7a" stroke-width="1.8" stroke-opacity="0.6"/>
<circle cx="570.3" cy="100.8" r="6.3" fill="#7a7a7a" fill-opacity="0.9"/>
<text x="591.5" y="105.4" font-size="13" fill="#222">Burned_no class</text>
<line x1="559" y1="127.8" x2="581.2" y2="127.8" stroke="#1b9e77" stroke-width="1.8" stroke-opacity="0.6"/>
<circle cx="570.3" cy="127.8" r="6.3" fill="#1b9e77" fill-opacity="0.9"/>
<text x="590.2" y="132.4" font-size="13" fill="#222">Unburned</text>
<line x1="559" y1="155.2" x2="581.2" y2="155.2" stroke="#e6ab02" stroke-width="1.8" stroke-opacity="0.6"/>
<circle cx="570.3" cy="155.2" r="6.3" fill="#e6ab02" fill-opacity="0.9"/>
<text x="589.6" y="159.8" font-size="13" fill="#222">Low</text>
<line x1="559" y1="182.2" x2="581.2" y2="182.2" stroke="#d95f02" stroke-width="1.8" stroke-opacity="0.6"/>
<circle cx="570.3" cy="182.2" r="6.3" fill="#d95f02" fill-opacity="0.9"/>
<text x="590.2" y="186.8" font-size="13" fill="#222">Moderate</text>
<line x1="559" y1="209.4" x2="581.2" y2="209.4" stroke="#d62d24" stroke-width="1.8" stroke-opacity="0.6"/>
<circle cx="570.3" cy="209.4" r="6.3" fill="#d62d24" fill-opacity="0.9"/>
<text x="589.6" y="214" font-size="13" fill="#222">High</text>
<line x1="68.5" y1="332.5" x2="68.5" y2="579.7" stroke="#626262" stroke-width="1.05"/>
<line x1="63.2" y1="579.2" x2="530" y2="579.2" stroke="#626262" stroke-width="1.05"/>
<line x1="63.2" y1="343.6" x2="68.5" y2="343.6" stroke="#626262" stroke-width="1.05"/>
<text x="57.8" y="347" font-size="10.2" text-anchor="end" fill="#333">1<tspan dx="1.2">&#215;</tspan><tspan dx="2.3">10</tspan><tspan font-size="6.4" dy="-5.8" dx="0.2">3</tspan></text>
<line x1="63.2" y1="377.2" x2="68.5" y2="377.2" stroke="#626262" stroke-width="1.05"/>
<text x="57.8" y="380.6" font-size="10.2" text-anchor="end" fill="#333">1<tspan dx="1.2">&#215;</tspan><tspan dx="2.3">10</tspan><tspan font-size="6.4" dy="-5.8" dx="0.2">2</tspan></text>
<line x1="63.2" y1="410.8" x2="68.5" y2="410.8" stroke="#626262" stroke-width="1.05"/>
<text x="57.8" y="414.2" font-size="10.2" text-anchor="end" fill="#333">1<tspan dx="1.2">&#215;</tspan><tspan dx="2.3">10</tspan><tspan font-size="6.4" dy="-5.8" dx="0.2">1</tspan></text>
<line x1="63.2" y1="444.4" x2="68.5" y2="444.4" stroke="#626262" stroke-width="1.05"/>
<text x="57.8" y="447.8" font-size="10.2" text-anchor="end" fill="#333">1<tspan dx="1.2">&#215;</tspan><tspan dx="2.3">10</tspan><tspan font-size="6.4" dy="-5.8" dx="0.2">0</tspan></text>
<line x1="63.2" y1="478" x2="68.5" y2="478" stroke="#626262" stroke-width="1.05"/>
<text x="57.8" y="481.4" font-size="10.2" text-anchor="end" fill="#333">1<tspan dx="1.2">&#215;</tspan><tspan dx="2.3">10</tspan><tspan font-size="6.4" dy="-5.8" dx="3.0">1</tspan></text>
<line x1="51.4" y1="473.1" x2="54.1" y2="473.1" stroke="#333" stroke-width="0.8"/>
<line x1="63.2" y1="511.6" x2="68.5" y2="511.6" stroke="#626262" stroke-width="1.05"/>
<text x="57.8" y="515" font-size="10.2" text-anchor="end" fill="#333">1<tspan dx="1.2">&#215;</tspan><tspan dx="2.3">10</tspan><tspan font-size="6.4" dy="-5.8" dx="3.0">2</tspan></text>
<line x1="51.4" y1="506.7" x2="54.1" y2="506.7" stroke="#333" stroke-width="0.8"/>
<line x1="63.2" y1="545.2" x2="68.5" y2="545.2" stroke="#626262" stroke-width="1.05"/>
<text x="57.8" y="548.6" font-size="10.2" text-anchor="end" fill="#333">1<tspan dx="1.2">&#215;</tspan><tspan dx="2.3">10</tspan><tspan font-size="6.4" dy="-5.8" dx="3.0">3</tspan></text>
<line x1="51.4" y1="540.3" x2="54.1" y2="540.3" stroke="#333" stroke-width="0.8"/>
<line x1="63.2" y1="579.2" x2="68.5" y2="579.2" stroke="#626262" stroke-width="1.05"/>
<text x="57.8" y="582.6" font-size="10.2" text-anchor="end" fill="#333">1<tspan dx="1.2">&#215;</tspan><tspan dx="2.3">10</tspan><tspan font-size="6.4" dy="-5.8" dx="3.0">4</tspan></text>
<line x1="51.4" y1="574.3" x2="54.1" y2="574.3" stroke="#333" stroke-width="0.8"/>
<line x1="68.4" y1="579.2" x2="68.4" y2="583.8" stroke="#626262" stroke-width="1.05"/>
<text x="68.4" y="605.1" font-size="10.6" text-anchor="middle" fill="#333">0</text>
<line x1="214.8" y1="579.2" x2="214.8" y2="583.8" stroke="#626262" stroke-width="1.05"/>
<text x="214.8" y="605.1" font-size="10.6" text-anchor="middle" fill="#333">50</text>
<line x1="361.1" y1="579.2" x2="361.1" y2="583.8" stroke="#626262" stroke-width="1.05"/>
<text x="361.1" y="605.1" font-size="10.6" text-anchor="middle" fill="#333">100</text>
<line x1="507.5" y1="579.2" x2="507.5" y2="583.8" stroke="#626262" stroke-width="1.05"/>
<text x="507.5" y="605.1" font-size="10.6" text-anchor="middle" fill="#333">150</text>
<text x="220.3" y="624.8" font-size="13" fill="#222">Number of observations</text>
<text transform="translate(17.9 460.6) rotate(-90)" font-size="13" text-anchor="middle" fill="#222">Soil erosion (Mg ha<tspan font-size="8.5" dy="-5">&#8722;1</tspan><tspan dy="5"> yr</tspan><tspan font-size="8.5" dy="-5">&#8722;1</tspan><tspan dy="5">)</tspan></text>
<g id="pb">
<line x1="135.9" y1="462.9" x2="135.9" y2="579.2" stroke="#333333" stroke-width="1.5" stroke-opacity="0.6"/>
<line x1="144.4" y1="457.8" x2="144.4" y2="579.2" stroke="#333333" stroke-width="1.5" stroke-opacity="0.6"/>
<line x1="156.3" y1="452.3" x2="156.3" y2="579.2" stroke="#333333" stroke-width="1.5" stroke-opacity="0.6"/>
<line x1="173.9" y1="445.6" x2="173.9" y2="579.2" stroke="#333333" stroke-width="1.5" stroke-opacity="0.6"/>
<line x1="165.1" y1="463.8" x2="165.1" y2="579.2" stroke="#557a55" stroke-width="1.5" stroke-opacity="0.6"/>
<line x1="179.9" y1="459" x2="179.9" y2="579.2" stroke="#557a55" stroke-width="1.5" stroke-opacity="0.6"/>
<line x1="197" y1="455.5" x2="197" y2="579.2" stroke="#557a55" stroke-width="1.5" stroke-opacity="0.6"/>
<line x1="153" y1="549.6" x2="153" y2="579.2" stroke="#6ea86e" stroke-width="1.5" stroke-opacity="0.6"/>
<line x1="208.8" y1="485.1" x2="208.8" y2="579.2" stroke="#6ea86e" stroke-width="1.5" stroke-opacity="0.6"/>
<line x1="346.5" y1="440.1" x2="346.5" y2="579.2" stroke="#9cd696" stroke-width="1.5" stroke-opacity="0.6"/>
<line x1="355.2" y1="447.8" x2="355.2" y2="579.2" stroke="#6ea86e" stroke-width="1.5" stroke-opacity="0.6"/>
<line x1="392.7" y1="439.5" x2="392.7" y2="579.2" stroke="#6ea86e" stroke-width="1.5" stroke-opacity="0.6"/>
<line x1="401.8" y1="437" x2="401.8" y2="579.2" stroke="#6ea86e" stroke-width="1.5" stroke-opacity="0.6"/>
<line x1="443.1" y1="385.9" x2="443.1" y2="423.1" stroke="#333333" stroke-width="1.5" stroke-opacity="0.6"/>
<line x1="126.9" y1="461.5" x2="126.9" y2="475.9" stroke="#333333" stroke-width="1.2" stroke-opacity="0.6"/>
<line x1="132.8" y1="461.3" x2="132.8" y2="470.6" stroke="#333333" stroke-width="1.2" stroke-opacity="0.6"/>
<line x1="141.6" y1="451.1" x2="141.6" y2="471.8" stroke="#333333" stroke-width="1.2" stroke-opacity="0.6"/>
<line x1="150.4" y1="449.5" x2="150.4" y2="458.8" stroke="#333333" stroke-width="1.2" stroke-opacity="0.6"/>
<line x1="153.3" y1="449.8" x2="153.3" y2="459" stroke="#333333" stroke-width="1.2" stroke-opacity="0.6"/>
<line x1="156.2" y1="446.7" x2="156.2" y2="459.5" stroke="#333333" stroke-width="1.2" stroke-opacity="0.6"/>
<line x1="176.7" y1="436.2" x2="176.7" y2="457.1" stroke="#333333" stroke-width="1.2" stroke-opacity="0.6"/>
<line x1="188.4" y1="438.8" x2="188.4" y2="447.8" stroke="#333333" stroke-width="1.2" stroke-opacity="0.6"/>
<line x1="208.9" y1="430.3" x2="208.9" y2="443.7" stroke="#333333" stroke-width="1.2" stroke-opacity="0.6"/>
<line x1="220.6" y1="429.1" x2="220.6" y2="445.5" stroke="#333333" stroke-width="1.2" stroke-opacity="0.6"/>
<line x1="223.5" y1="430.7" x2="223.5" y2="439.4" stroke="#333333" stroke-width="1.2" stroke-opacity="0.6"/>
<line x1="232.3" y1="431.4" x2="232.3" y2="440.3" stroke="#333333" stroke-width="1.2" stroke-opacity="0.6"/>
<line x1="235.2" y1="430.7" x2="235.2" y2="445" stroke="#333333" stroke-width="1.2" stroke-opacity="0.6"/>
<line x1="244" y1="429.1" x2="244" y2="442.4" stroke="#333333" stroke-width="1.2" stroke-opacity="0.6"/>
<line x1="249.9" y1="427.1" x2="249.9" y2="438.1" stroke="#333333" stroke-width="1.2" stroke-opacity="0.6"/>
<line x1="252.8" y1="422.2" x2="252.8" y2="441.8" stroke="#333333" stroke-width="1.2" stroke-opacity="0.6"/>
<line x1="261.6" y1="420.6" x2="261.6" y2="435.3" stroke="#333333" stroke-width="1.2" stroke-opacity="0.6"/>
<line x1="267.4" y1="421.4" x2="267.4" y2="437.6" stroke="#333333" stroke-width="1.2" stroke-opacity="0.6"/>
<line x1="270.4" y1="420.8" x2="270.4" y2="435.7" stroke="#333333" stroke-width="1.2" stroke-opacity="0.6"/>
<line x1="273.3" y1="420.7" x2="273.3" y2="427.9" stroke="#333333" stroke-width="1.2" stroke-opacity="0.6"/>
<line x1="279.1" y1="419.6" x2="279.1" y2="433.2" stroke="#333333" stroke-width="1.2" stroke-opacity="0.6"/>
<line x1="296.7" y1="410.7" x2="296.7" y2="423.6" stroke="#333333" stroke-width="1.2" stroke-opacity="0.6"/>
<line x1="302.6" y1="411.6" x2="302.6" y2="423.7" stroke="#333333" stroke-width="1.2" stroke-opacity="0.6"/>
<line x1="308.4" y1="408.5" x2="308.4" y2="428.3" stroke="#333333" stroke-width="1.2" stroke-opacity="0.6"/>
<line x1="317.2" y1="406.8" x2="317.2" y2="418.9" stroke="#333333" stroke-width="1.2" stroke-opacity="0.6"/>
<line x1="320.1" y1="410.6" x2="320.1" y2="424.5" stroke="#333333" stroke-width="1.2" stroke-opacity="0.6"/>
<line x1="328.9" y1="406" x2="328.9" y2="417.9" stroke="#333333" stroke-width="1.2" stroke-opacity="0.6"/>
<line x1="331.8" y1="407.1" x2="331.8" y2="418.5" stroke="#333333" stroke-width="1.2" stroke-opacity="0.6"/>
<line x1="340.6" y1="406.6" x2="340.6" y2="422.1" stroke="#333333" stroke-width="1.2" stroke-opacity="0.6"/>
<line x1="343.5" y1="405.3" x2="343.5" y2="416.4" stroke="#333333" stroke-width="1.2" stroke-opacity="0.6"/>
<line x1="346.5" y1="406.6" x2="346.5" y2="416.4" stroke="#333333" stroke-width="1.2" stroke-opacity="0.6"/>
<line x1="352.3" y1="402.5" x2="352.3" y2="417.1" stroke="#333333" stroke-width="1.2" stroke-opacity="0.6"/>
<line x1="367" y1="405" x2="367" y2="411.5" stroke="#333333" stroke-width="1.2" stroke-opacity="0.6"/>
<line x1="378.7" y1="400.1" x2="378.7" y2="414.7" stroke="#333333" stroke-width="1.2" stroke-opacity="0.6"/>
<line x1="390.4" y1="395.7" x2="390.4" y2="411" stroke="#333333" stroke-width="1.2" stroke-opacity="0.6"/>
<line x1="443.1" y1="385" x2="443.1" y2="402.7" stroke="#333333" stroke-width="1.2" stroke-opacity="0.6"/>
<line x1="466.5" y1="385" x2="466.5" y2="397.9" stroke="#333333" stroke-width="1.2" stroke-opacity="0.6"/>
<line x1="121.1" y1="485.1" x2="121.1" y2="493.4" stroke="#557a55" stroke-width="1.2" stroke-opacity="0.6"/>
<line x1="124" y1="478.7" x2="124" y2="497.7" stroke="#557a55" stroke-width="1.2" stroke-opacity="0.6"/>
<line x1="135.7" y1="473.3" x2="135.7" y2="485.1" stroke="#557a55" stroke-width="1.2" stroke-opacity="0.6"/>
<line x1="141.6" y1="473.9" x2="141.6" y2="489.3" stroke="#557a55" stroke-width="1.2" stroke-opacity="0.6"/>
<line x1="147.4" y1="467.8" x2="147.4" y2="483.3" stroke="#557a55" stroke-width="1.2" stroke-opacity="0.6"/>
<line x1="150.4" y1="469.1" x2="150.4" y2="481.2" stroke="#557a55" stroke-width="1.2" stroke-opacity="0.6"/>
<line x1="156.2" y1="460.7" x2="156.2" y2="483.2" stroke="#557a55" stroke-width="1.2" stroke-opacity="0.6"/>
<line x1="159.1" y1="464.3" x2="159.1" y2="475.8" stroke="#557a55" stroke-width="1.2" stroke-opacity="0.6"/>
<line x1="162.1" y1="461.6" x2="162.1" y2="475.4" stroke="#557a55" stroke-width="1.2" stroke-opacity="0.6"/>
<line x1="167.9" y1="454.1" x2="167.9" y2="466.8" stroke="#557a55" stroke-width="1.2" stroke-opacity="0.6"/>
<line x1="185.5" y1="449.8" x2="185.5" y2="469.6" stroke="#557a55" stroke-width="1.2" stroke-opacity="0.6"/>
<line x1="206" y1="449.1" x2="206" y2="459.9" stroke="#557a55" stroke-width="1.2" stroke-opacity="0.6"/>
<line x1="217.7" y1="445.3" x2="217.7" y2="463" stroke="#557a55" stroke-width="1.2" stroke-opacity="0.6"/>
<line x1="223.5" y1="446.6" x2="223.5" y2="459.7" stroke="#557a55" stroke-width="1.2" stroke-opacity="0.6"/>
<line x1="229.4" y1="446.9" x2="229.4" y2="460" stroke="#557a55" stroke-width="1.2" stroke-opacity="0.6"/>
<line x1="235.2" y1="444.6" x2="235.2" y2="455.7" stroke="#557a55" stroke-width="1.2" stroke-opacity="0.6"/>
<line x1="241.1" y1="443.1" x2="241.1" y2="455.4" stroke="#557a55" stroke-width="1.2" stroke-opacity="0.6"/>
<line x1="244" y1="439.9" x2="244" y2="456.9" stroke="#557a55" stroke-width="1.2" stroke-opacity="0.6"/>
<line x1="252.8" y1="441.5" x2="252.8" y2="459.8" stroke="#557a55" stroke-width="1.2" stroke-opacity="0.6"/>
<line x1="255.7" y1="438.2" x2="255.7" y2="458" stroke="#557a55" stroke-width="1.2" stroke-opacity="0.6"/>
<line x1="258.7" y1="439" x2="258.7" y2="452.6" stroke="#557a55" stroke-width="1.2" stroke-opacity="0.6"/>
<line x1="261.6" y1="442.6" x2="261.6" y2="451.3" stroke="#557a55" stroke-width="1.2" stroke-opacity="0.6"/>
<line x1="264.5" y1="436.9" x2="264.5" y2="455.6" stroke="#557a55" stroke-width="1.2" stroke-opacity="0.6"/>
<line x1="273.3" y1="435.4" x2="273.3" y2="449.7" stroke="#557a55" stroke-width="1.2" stroke-opacity="0.6"/>
<line x1="282.1" y1="436.8" x2="282.1" y2="451.5" stroke="#557a55" stroke-width="1.2" stroke-opacity="0.6"/>
<line x1="287.9" y1="433.1" x2="287.9" y2="454.9" stroke="#557a55" stroke-width="1.2" stroke-opacity="0.6"/>
<line x1="290.9" y1="431.7" x2="290.9" y2="446.2" stroke="#557a55" stroke-width="1.2" stroke-opacity="0.6"/>
<line x1="293.8" y1="432.7" x2="293.8" y2="452.1" stroke="#557a55" stroke-width="1.2" stroke-opacity="0.6"/>
<line x1="302.6" y1="432.4" x2="302.6" y2="443.1" stroke="#557a55" stroke-width="1.2" stroke-opacity="0.6"/>
<line x1="311.3" y1="426.3" x2="311.3" y2="444.5" stroke="#557a55" stroke-width="1.2" stroke-opacity="0.6"/>
<line x1="314.3" y1="422.2" x2="314.3" y2="438.8" stroke="#557a55" stroke-width="1.2" stroke-opacity="0.6"/>
<line x1="346.5" y1="413.3" x2="346.5" y2="427.8" stroke="#557a55" stroke-width="1.2" stroke-opacity="0.6"/>
<line x1="352.3" y1="409.2" x2="352.3" y2="428.4" stroke="#557a55" stroke-width="1.2" stroke-opacity="0.6"/>
<line x1="372.8" y1="407" x2="372.8" y2="418.8" stroke="#557a55" stroke-width="1.2" stroke-opacity="0.6"/>
<line x1="387.4" y1="397.1" x2="387.4" y2="413.1" stroke="#557a55" stroke-width="1.2" stroke-opacity="0.6"/>
<line x1="393.3" y1="398.3" x2="393.3" y2="410.7" stroke="#557a55" stroke-width="1.2" stroke-opacity="0.6"/>
<line x1="399.2" y1="396.8" x2="399.2" y2="405.6" stroke="#557a55" stroke-width="1.2" stroke-opacity="0.6"/>
<line x1="416.7" y1="387.8" x2="416.7" y2="401.8" stroke="#557a55" stroke-width="1.2" stroke-opacity="0.6"/>
<line x1="419.6" y1="387.1" x2="419.6" y2="402.5" stroke="#557a55" stroke-width="1.2" stroke-opacity="0.6"/>
<line x1="422.6" y1="381.8" x2="422.6" y2="397.1" stroke="#557a55" stroke-width="1.2" stroke-opacity="0.6"/>
<line x1="165" y1="509.2" x2="165" y2="529.6" stroke="#6ea86e" stroke-width="1.2" stroke-opacity="0.6"/>
<line x1="170.8" y1="509" x2="170.8" y2="519.4" stroke="#6ea86e" stroke-width="1.2" stroke-opacity="0.6"/>
<line x1="173.8" y1="505.4" x2="173.8" y2="523.2" stroke="#6ea86e" stroke-width="1.2" stroke-opacity="0.6"/>
<line x1="179.6" y1="498.1" x2="179.6" y2="511.2" stroke="#6ea86e" stroke-width="1.2" stroke-opacity="0.6"/>
<line x1="188.4" y1="492.1" x2="188.4" y2="503.2" stroke="#6ea86e" stroke-width="1.2" stroke-opacity="0.6"/>
<line x1="211.8" y1="476.8" x2="211.8" y2="498.4" stroke="#6ea86e" stroke-width="1.2" stroke-opacity="0.6"/>
<line x1="223.5" y1="471.4" x2="223.5" y2="485.7" stroke="#6ea86e" stroke-width="1.2" stroke-opacity="0.6"/>
<line x1="226.5" y1="468.1" x2="226.5" y2="491.2" stroke="#6ea86e" stroke-width="1.2" stroke-opacity="0.6"/>
<line x1="241.1" y1="463.8" x2="241.1" y2="482.6" stroke="#6ea86e" stroke-width="1.2" stroke-opacity="0.6"/>
<line x1="244" y1="463.8" x2="244" y2="475.9" stroke="#6ea86e" stroke-width="1.2" stroke-opacity="0.6"/>
<line x1="246.9" y1="461.1" x2="246.9" y2="477.6" stroke="#6ea86e" stroke-width="1.2" stroke-opacity="0.6"/>
<line x1="249.9" y1="460.6" x2="249.9" y2="471.5" stroke="#6ea86e" stroke-width="1.2" stroke-opacity="0.6"/>
<line x1="252.8" y1="462.8" x2="252.8" y2="473.5" stroke="#6ea86e" stroke-width="1.2" stroke-opacity="0.6"/>
<line x1="255.7" y1="457.8" x2="255.7" y2="468.8" stroke="#6ea86e" stroke-width="1.2" stroke-opacity="0.6"/>
<line x1="261.6" y1="454.8" x2="261.6" y2="477.2" stroke="#6ea86e" stroke-width="1.2" stroke-opacity="0.6"/>
<line x1="264.5" y1="456.4" x2="264.5" y2="469.4" stroke="#6ea86e" stroke-width="1.2" stroke-opacity="0.6"/>
<line x1="273.3" y1="454.1" x2="273.3" y2="471.5" stroke="#6ea86e" stroke-width="1.2" stroke-opacity="0.6"/>
<line x1="282.1" y1="454.3" x2="282.1" y2="475.4" stroke="#6ea86e" stroke-width="1.2" stroke-opacity="0.6"/>
<line x1="287.9" y1="452" x2="287.9" y2="476.2" stroke="#6ea86e" stroke-width="1.2" stroke-opacity="0.6"/>
<line x1="293.8" y1="452.3" x2="293.8" y2="471" stroke="#6ea86e" stroke-width="1.2" stroke-opacity="0.6"/>
<line x1="299.6" y1="450.8" x2="299.6" y2="469.8" stroke="#6ea86e" stroke-width="1.2" stroke-opacity="0.6"/>
<line x1="302.6" y1="449.1" x2="302.6" y2="461.7" stroke="#6ea86e" stroke-width="1.2" stroke-opacity="0.6"/>
<line x1="305.5" y1="452.5" x2="305.5" y2="462.3" stroke="#6ea86e" stroke-width="1.2" stroke-opacity="0.6"/>
<line x1="317.2" y1="447.4" x2="317.2" y2="462.1" stroke="#6ea86e" stroke-width="1.2" stroke-opacity="0.6"/>
<line x1="320.1" y1="444" x2="320.1" y2="456" stroke="#6ea86e" stroke-width="1.2" stroke-opacity="0.6"/>
<line x1="323" y1="447.3" x2="323" y2="459.5" stroke="#6ea86e" stroke-width="1.2" stroke-opacity="0.6"/>
<line x1="328.9" y1="445.8" x2="328.9" y2="461" stroke="#6ea86e" stroke-width="1.2" stroke-opacity="0.6"/>
<line x1="334.8" y1="444.9" x2="334.8" y2="458.9" stroke="#6ea86e" stroke-width="1.2" stroke-opacity="0.6"/>
<line x1="349.4" y1="441.8" x2="349.4" y2="451.3" stroke="#6ea86e" stroke-width="1.2" stroke-opacity="0.6"/>
<line x1="358.2" y1="440.5" x2="358.2" y2="461.8" stroke="#6ea86e" stroke-width="1.2" stroke-opacity="0.6"/>
<line x1="361.1" y1="441.6" x2="361.1" y2="458.6" stroke="#6ea86e" stroke-width="1.2" stroke-opacity="0.6"/>
<line x1="364" y1="441.3" x2="364" y2="452.9" stroke="#6ea86e" stroke-width="1.2" stroke-opacity="0.6"/>
<line x1="367" y1="439.8" x2="367" y2="448.7" stroke="#6ea86e" stroke-width="1.2" stroke-opacity="0.6"/>
<line x1="369.9" y1="439.4" x2="369.9" y2="460.4" stroke="#6ea86e" stroke-width="1.2" stroke-opacity="0.6"/>
<line x1="372.8" y1="439.5" x2="372.8" y2="458.3" stroke="#6ea86e" stroke-width="1.2" stroke-opacity="0.6"/>
<line x1="381.6" y1="437" x2="381.6" y2="450" stroke="#6ea86e" stroke-width="1.2" stroke-opacity="0.6"/>
<line x1="384.5" y1="438.8" x2="384.5" y2="458.4" stroke="#6ea86e" stroke-width="1.2" stroke-opacity="0.6"/>
<line x1="390.4" y1="434.1" x2="390.4" y2="447" stroke="#6ea86e" stroke-width="1.2" stroke-opacity="0.6"/>
<line x1="393.3" y1="434.3" x2="393.3" y2="444.4" stroke="#6ea86e" stroke-width="1.2" stroke-opacity="0.6"/>
<line x1="405" y1="430.8" x2="405" y2="445.6" stroke="#6ea86e" stroke-width="1.2" stroke-opacity="0.6"/>
<line x1="410.9" y1="427.5" x2="410.9" y2="450.2" stroke="#6ea86e" stroke-width="1.2" stroke-opacity="0.6"/>
<line x1="413.8" y1="428" x2="413.8" y2="435.6" stroke="#6ea86e" stroke-width="1.2" stroke-opacity="0.6"/>
<line x1="419.6" y1="422.9" x2="419.6" y2="438.3" stroke="#6ea86e" stroke-width="1.2" stroke-opacity="0.6"/>
<line x1="422.6" y1="424" x2="422.6" y2="443.3" stroke="#6ea86e" stroke-width="1.2" stroke-opacity="0.6"/>
<line x1="454.8" y1="415.8" x2="454.8" y2="427" stroke="#6ea86e" stroke-width="1.2" stroke-opacity="0.6"/>
<line x1="463.5" y1="414.5" x2="463.5" y2="436.7" stroke="#6ea86e" stroke-width="1.2" stroke-opacity="0.6"/>
<line x1="466.5" y1="414.3" x2="466.5" y2="421.3" stroke="#6ea86e" stroke-width="1.2" stroke-opacity="0.6"/>
<line x1="472.3" y1="405" x2="472.3" y2="426.9" stroke="#6ea86e" stroke-width="1.2" stroke-opacity="0.6"/>
<line x1="492.8" y1="399.6" x2="492.8" y2="417.7" stroke="#6ea86e" stroke-width="1.2" stroke-opacity="0.6"/>
<line x1="495.7" y1="393.3" x2="495.7" y2="417.1" stroke="#6ea86e" stroke-width="1.2" stroke-opacity="0.6"/>
<line x1="498.7" y1="389.8" x2="498.7" y2="410.3" stroke="#6ea86e" stroke-width="1.2" stroke-opacity="0.6"/>
<line x1="501.6" y1="388.8" x2="501.6" y2="396.8" stroke="#6ea86e" stroke-width="1.2" stroke-opacity="0.6"/>
<line x1="504.5" y1="386.8" x2="504.5" y2="408.4" stroke="#6ea86e" stroke-width="1.2" stroke-opacity="0.6"/>
<line x1="97.7" y1="521.4" x2="97.7" y2="537" stroke="#9cd696" stroke-width="1.2" stroke-opacity="0.6"/>
<line x1="126.9" y1="504.7" x2="126.9" y2="517.2" stroke="#9cd696" stroke-width="1.2" stroke-opacity="0.6"/>
<line x1="141.6" y1="498.4" x2="141.6" y2="512.6" stroke="#9cd696" stroke-width="1.2" stroke-opacity="0.6"/>
<line x1="144.5" y1="498.8" x2="144.5" y2="511.2" stroke="#9cd696" stroke-width="1.2" stroke-opacity="0.6"/>
<line x1="150.4" y1="491.9" x2="150.4" y2="504.6" stroke="#9cd696" stroke-width="1.2" stroke-opacity="0.6"/>
<line x1="170.8" y1="487.9" x2="170.8" y2="502.3" stroke="#9cd696" stroke-width="1.2" stroke-opacity="0.6"/>
<line x1="173.8" y1="484.1" x2="173.8" y2="495.3" stroke="#9cd696" stroke-width="1.2" stroke-opacity="0.6"/>
<line x1="179.6" y1="485.7" x2="179.6" y2="496.9" stroke="#9cd696" stroke-width="1.2" stroke-opacity="0.6"/>
<line x1="188.4" y1="484.9" x2="188.4" y2="498.7" stroke="#9cd696" stroke-width="1.2" stroke-opacity="0.6"/>
<line x1="194.3" y1="483.4" x2="194.3" y2="496.6" stroke="#9cd696" stroke-width="1.2" stroke-opacity="0.6"/>
<line x1="200.1" y1="479.3" x2="200.1" y2="493.1" stroke="#9cd696" stroke-width="1.2" stroke-opacity="0.6"/>
<line x1="217.7" y1="476.3" x2="217.7" y2="487.8" stroke="#9cd696" stroke-width="1.2" stroke-opacity="0.6"/>
<line x1="226.5" y1="473.6" x2="226.5" y2="484.4" stroke="#9cd696" stroke-width="1.2" stroke-opacity="0.6"/>
<line x1="232.3" y1="469.4" x2="232.3" y2="486.4" stroke="#9cd696" stroke-width="1.2" stroke-opacity="0.6"/>
<line x1="252.8" y1="468.2" x2="252.8" y2="482.2" stroke="#9cd696" stroke-width="1.2" stroke-opacity="0.6"/>
<line x1="261.6" y1="463.9" x2="261.6" y2="477.7" stroke="#9cd696" stroke-width="1.2" stroke-opacity="0.6"/>
<line x1="279.1" y1="465.4" x2="279.1" y2="473.7" stroke="#9cd696" stroke-width="1.2" stroke-opacity="0.6"/>
<line x1="282.1" y1="464.7" x2="282.1" y2="479.8" stroke="#9cd696" stroke-width="1.2" stroke-opacity="0.6"/>
<line x1="285" y1="460" x2="285" y2="476.1" stroke="#9cd696" stroke-width="1.2" stroke-opacity="0.6"/>
<line x1="337.7" y1="444.4" x2="337.7" y2="461.1" stroke="#9cd696" stroke-width="1.2" stroke-opacity="0.6"/>
<line x1="346.5" y1="433.7" x2="346.5" y2="445" stroke="#9cd696" stroke-width="1.2" stroke-opacity="0.6"/>
<line x1="349.4" y1="431.3" x2="349.4" y2="441.8" stroke="#9cd696" stroke-width="1.2" stroke-opacity="0.6"/>
<circle cx="71.3" cy="590.6" r="6.1" fill="#383838" fill-opacity="0.9"/>
<circle cx="74.3" cy="590.6" r="6.1" fill="#383838" fill-opacity="0.9"/>
<circle cx="77.2" cy="590.6" r="6.1" fill="#383838" fill-opacity="0.9"/>
<circle cx="80.1" cy="535.5" r="6.1" fill="#383838" fill-opacity="0.9"/>
<circle cx="83" cy="523.9" r="6.1" fill="#383838" fill-opacity="0.9"/>
<circle cx="86" cy="520" r="6.1" fill="#383838" fill-opacity="0.9"/>
<circle cx="88.9" cy="517.5" r="6.1" fill="#383838" fill-opacity="0.9"/>
<circle cx="91.8" cy="515.4" r="6.1" fill="#383838" fill-opacity="0.9"/>
<circle cx="94.7" cy="506.7" r="6.1" fill="#383838" fill-opacity="0.9"/>
<circle cx="97.7" cy="503" r="6.1" fill="#383838" fill-opacity="0.9"/>
<circle cx="100.6" cy="499.6" r="6.1" fill="#383838" fill-opacity="0.9"/>
<circle cx="103.5" cy="496.5" r="6.1" fill="#383838" fill-opacity="0.9"/>
<circle cx="106.5" cy="492.9" r="6.1" fill="#383838" fill-opacity="0.9"/>
<circle cx="109.4" cy="492.5" r="6.1" fill="#383838" fill-opacity="0.9"/>
<circle cx="112.3" cy="482.6" r="6.1" fill="#383838" fill-opacity="0.9"/>
<circle cx="115.2" cy="476.3" r="6.1" fill="#383838" fill-opacity="0.9"/>
<circle cx="118.2" cy="474.1" r="6.1" fill="#383838" fill-opacity="0.9"/>
<circle cx="121.1" cy="469.1" r="6.1" fill="#383838" fill-opacity="0.9"/>
<circle cx="124" cy="468.6" r="6.1" fill="#383838" fill-opacity="0.9"/>
<circle cx="126.9" cy="468.3" r="6.1" fill="#383838" fill-opacity="0.9"/>
<circle cx="129.9" cy="465.4" r="6.1" fill="#383838" fill-opacity="0.9"/>
<circle cx="132.8" cy="464.9" r="6.1" fill="#383838" fill-opacity="0.9"/>
<circle cx="135.7" cy="463.1" r="6.1" fill="#383838" fill-opacity="0.9"/>
<circle cx="138.6" cy="461" r="6.1" fill="#383838" fill-opacity="0.9"/>
<circle cx="141.6" cy="459.9" r="6.1" fill="#383838" fill-opacity="0.9"/>
<circle cx="144.5" cy="457.7" r="6.1" fill="#383838" fill-opacity="0.9"/>
<circle cx="147.4" cy="455.2" r="6.1" fill="#383838" fill-opacity="0.9"/>
<circle cx="150.4" cy="455.6" r="6.1" fill="#383838" fill-opacity="0.9"/>
<circle cx="153.3" cy="454.3" r="6.1" fill="#383838" fill-opacity="0.9"/>
<circle cx="156.2" cy="452.3" r="6.1" fill="#383838" fill-opacity="0.9"/>
<circle cx="159.1" cy="450.6" r="6.1" fill="#383838" fill-opacity="0.9"/>
<circle cx="162.1" cy="449.9" r="6.1" fill="#383838" fill-opacity="0.9"/>
<circle cx="165" cy="449.5" r="6.1" fill="#383838" fill-opacity="0.9"/>
<circle cx="167.9" cy="447.8" r="6.1" fill="#383838" fill-opacity="0.9"/>
<circle cx="170.8" cy="448.4" r="6.1" fill="#383838" fill-opacity="0.9"/>
<circle cx="173.8" cy="445.7" r="6.1" fill="#383838" fill-opacity="0.9"/>
<circle cx="176.7" cy="445.2" r="6.1" fill="#383838" fill-opacity="0.9"/>
<circle cx="179.6" cy="444.1" r="6.1" fill="#383838" fill-opacity="0.9"/>
<circle cx="182.6" cy="444.7" r="6.1" fill="#383838" fill-opacity="0.9"/>
<circle cx="185.5" cy="444.2" r="6.1" fill="#383838" fill-opacity="0.9"/>
<circle cx="188.4" cy="442.2" r="6.1" fill="#383838" fill-opacity="0.9"/>
<circle cx="191.3" cy="442.1" r="6.1" fill="#383838" fill-opacity="0.9"/>
<circle cx="194.3" cy="442.7" r="6.1" fill="#383838" fill-opacity="0.9"/>
<circle cx="197.2" cy="441.6" r="6.1" fill="#383838" fill-opacity="0.9"/>
<circle cx="200.1" cy="440.4" r="6.1" fill="#383838" fill-opacity="0.9"/>
<circle cx="203" cy="441.5" r="6.1" fill="#383838" fill-opacity="0.9"/>
<circle cx="206" cy="440.4" r="6.1" fill="#383838" fill-opacity="0.9"/>
<circle cx="208.9" cy="438.8" r="6.1" fill="#383838" fill-opacity="0.9"/>
<circle cx="211.8" cy="438.5" r="6.1" fill="#383838" fill-opacity="0.9"/>
<circle cx="214.8" cy="438.1" r="6.1" fill="#383838" fill-opacity="0.9"/>
<circle cx="217.7" cy="437.8" r="6.1" fill="#383838" fill-opacity="0.9"/>
<circle cx="220.6" cy="436.8" r="6.1" fill="#383838" fill-opacity="0.9"/>
<circle cx="223.5" cy="435.7" r="6.1" fill="#383838" fill-opacity="0.9"/>
<circle cx="226.5" cy="435.6" r="6.1" fill="#383838" fill-opacity="0.9"/>
<circle cx="229.4" cy="434.7" r="6.1" fill="#383838" fill-opacity="0.9"/>
<circle cx="232.3" cy="435" r="6.1" fill="#383838" fill-opacity="0.9"/>
<circle cx="235.2" cy="434.8" r="6.1" fill="#383838" fill-opacity="0.9"/>
<circle cx="238.2" cy="434.3" r="6.1" fill="#383838" fill-opacity="0.9"/>
<circle cx="241.1" cy="432.6" r="6.1" fill="#383838" fill-opacity="0.9"/>
<circle cx="244" cy="432.9" r="6.1" fill="#383838" fill-opacity="0.9"/>
<circle cx="246.9" cy="432.6" r="6.1" fill="#383838" fill-opacity="0.9"/>
<circle cx="249.9" cy="431.4" r="6.1" fill="#383838" fill-opacity="0.9"/>
<circle cx="252.8" cy="430.1" r="6.1" fill="#383838" fill-opacity="0.9"/>
<circle cx="255.7" cy="430.3" r="6.1" fill="#383838" fill-opacity="0.9"/>
<circle cx="258.7" cy="428.7" r="6.1" fill="#383838" fill-opacity="0.9"/>
<circle cx="261.6" cy="428.8" r="6.1" fill="#383838" fill-opacity="0.9"/>
<circle cx="264.5" cy="426.3" r="6.1" fill="#383838" fill-opacity="0.9"/>
<circle cx="267.4" cy="425.7" r="6.1" fill="#383838" fill-opacity="0.9"/>
<circle cx="270.4" cy="425.7" r="6.1" fill="#383838" fill-opacity="0.9"/>
<circle cx="273.3" cy="424.3" r="6.1" fill="#383838" fill-opacity="0.9"/>
<circle cx="276.2" cy="423.8" r="6.1" fill="#383838" fill-opacity="0.9"/>
<circle cx="279.1" cy="424.8" r="6.1" fill="#383838" fill-opacity="0.9"/>
<circle cx="282.1" cy="423.8" r="6.1" fill="#383838" fill-opacity="0.9"/>
<circle cx="285" cy="422.1" r="6.1" fill="#383838" fill-opacity="0.9"/>
<circle cx="287.9" cy="421" r="6.1" fill="#383838" fill-opacity="0.9"/>
<circle cx="290.9" cy="421.7" r="6.1" fill="#383838" fill-opacity="0.9"/>
<circle cx="293.8" cy="421" r="6.1" fill="#383838" fill-opacity="0.9"/>
<circle cx="296.7" cy="419.2" r="6.1" fill="#383838" fill-opacity="0.9"/>
<circle cx="299.6" cy="419.4" r="6.1" fill="#383838" fill-opacity="0.9"/>
<circle cx="302.6" cy="419" r="6.1" fill="#383838" fill-opacity="0.9"/>
<circle cx="305.5" cy="417.3" r="6.1" fill="#383838" fill-opacity="0.9"/>
<circle cx="308.4" cy="416.8" r="6.1" fill="#383838" fill-opacity="0.9"/>
<circle cx="311.3" cy="416.1" r="6.1" fill="#383838" fill-opacity="0.9"/>
<circle cx="314.3" cy="417.3" r="6.1" fill="#383838" fill-opacity="0.9"/>
<circle cx="317.2" cy="415.6" r="6.1" fill="#383838" fill-opacity="0.9"/>
<circle cx="320.1" cy="415.1" r="6.1" fill="#383838" fill-opacity="0.9"/>
<circle cx="323" cy="413.9" r="6.1" fill="#383838" fill-opacity="0.9"/>
<circle cx="326" cy="414.7" r="6.1" fill="#383838" fill-opacity="0.9"/>
<circle cx="328.9" cy="413.3" r="6.1" fill="#383838" fill-opacity="0.9"/>
<circle cx="331.8" cy="413.4" r="6.1" fill="#383838" fill-opacity="0.9"/>
<circle cx="334.8" cy="412.5" r="6.1" fill="#383838" fill-opacity="0.9"/>
<circle cx="337.7" cy="412" r="6.1" fill="#383838" fill-opacity="0.9"/>
<circle cx="340.6" cy="410.8" r="6.1" fill="#383838" fill-opacity="0.9"/>
<circle cx="343.5" cy="411" r="6.1" fill="#383838" fill-opacity="0.9"/>
<circle cx="346.5" cy="411.8" r="6.1" fill="#383838" fill-opacity="0.9"/>
<circle cx="349.4" cy="411.4" r="6.1" fill="#383838" fill-opacity="0.9"/>
<circle cx="352.3" cy="410.9" r="6.1" fill="#383838" fill-opacity="0.9"/>
<circle cx="355.2" cy="410.3" r="6.1" fill="#383838" fill-opacity="0.9"/>
<circle cx="358.2" cy="409.7" r="6.1" fill="#383838" fill-opacity="0.9"/>
<circle cx="361.1" cy="408.9" r="6.1" fill="#383838" fill-opacity="0.9"/>
<circle cx="364" cy="408.4" r="6.1" fill="#383838" fill-opacity="0.9"/>
<circle cx="367" cy="408.2" r="6.1" fill="#383838" fill-opacity="0.9"/>
<circle cx="369.9" cy="408.2" r="6.1" fill="#383838" fill-opacity="0.9"/>
<circle cx="372.8" cy="407" r="6.1" fill="#383838" fill-opacity="0.9"/>
<circle cx="375.7" cy="406.3" r="6.1" fill="#383838" fill-opacity="0.9"/>
<circle cx="378.7" cy="406" r="6.1" fill="#383838" fill-opacity="0.9"/>
<circle cx="381.6" cy="405.6" r="6.1" fill="#383838" fill-opacity="0.9"/>
<circle cx="384.5" cy="404.3" r="6.1" fill="#383838" fill-opacity="0.9"/>
<circle cx="387.4" cy="402.5" r="6.1" fill="#383838" fill-opacity="0.9"/>
<circle cx="390.4" cy="403.1" r="6.1" fill="#383838" fill-opacity="0.9"/>
<circle cx="393.3" cy="401.9" r="6.1" fill="#383838" fill-opacity="0.9"/>
<circle cx="396.2" cy="400.7" r="6.1" fill="#383838" fill-opacity="0.9"/>
<circle cx="399.2" cy="399.9" r="6.1" fill="#383838" fill-opacity="0.9"/>
<circle cx="402.1" cy="400.3" r="6.1" fill="#383838" fill-opacity="0.9"/>
<circle cx="405" cy="401" r="6.1" fill="#383838" fill-opacity="0.9"/>
<circle cx="407.9" cy="400.1" r="6.1" fill="#383838" fill-opacity="0.9"/>
<circle cx="410.9" cy="400.7" r="6.1" fill="#383838" fill-opacity="0.9"/>
<circle cx="413.8" cy="399.2" r="6.1" fill="#383838" fill-opacity="0.9"/>
<circle cx="416.7" cy="399.5" r="6.1" fill="#383838" fill-opacity="0.9"/>
<circle cx="419.6" cy="400.9" r="6.1" fill="#383838" fill-opacity="0.9"/>
<circle cx="422.6" cy="399.7" r="6.1" fill="#383838" fill-opacity="0.9"/>
<circle cx="425.5" cy="399.1" r="6.1" fill="#383838" fill-opacity="0.9"/>
<circle cx="428.4" cy="397.5" r="6.1" fill="#383838" fill-opacity="0.9"/>
<circle cx="431.3" cy="397.6" r="6.1" fill="#383838" fill-opacity="0.9"/>
<circle cx="434.3" cy="396.2" r="6.1" fill="#383838" fill-opacity="0.9"/>
<circle cx="437.2" cy="395.3" r="6.1" fill="#383838" fill-opacity="0.9"/>
<circle cx="440.1" cy="394.5" r="6.1" fill="#383838" fill-opacity="0.9"/>
<circle cx="443.1" cy="393.9" r="6.1" fill="#383838" fill-opacity="0.9"/>
<circle cx="446" cy="393.1" r="6.1" fill="#383838" fill-opacity="0.9"/>
<circle cx="448.9" cy="393.1" r="6.1" fill="#383838" fill-opacity="0.9"/>
<circle cx="451.8" cy="393.5" r="6.1" fill="#383838" fill-opacity="0.9"/>
<circle cx="454.8" cy="392.1" r="6.1" fill="#383838" fill-opacity="0.9"/>
<circle cx="457.7" cy="391" r="6.1" fill="#383838" fill-opacity="0.9"/>
<circle cx="460.6" cy="391" r="6.1" fill="#383838" fill-opacity="0.9"/>
<circle cx="463.5" cy="390.9" r="6.1" fill="#383838" fill-opacity="0.9"/>
<circle cx="466.5" cy="388.1" r="6.1" fill="#383838" fill-opacity="0.9"/>
<circle cx="469.4" cy="388.3" r="6.1" fill="#383838" fill-opacity="0.9"/>
<circle cx="472.3" cy="386" r="6.1" fill="#383838" fill-opacity="0.9"/>
<circle cx="475.2" cy="371.4" r="6.1" fill="#383838" fill-opacity="0.9"/>
<circle cx="478.2" cy="365.5" r="6.1" fill="#383838" fill-opacity="0.9"/>
<circle cx="481.1" cy="359" r="6.1" fill="#383838" fill-opacity="0.9"/>
<circle cx="71.3" cy="590.6" r="6.1" fill="#5a795a" fill-opacity="0.9"/>
<circle cx="74.3" cy="590.6" r="6.1" fill="#5a795a" fill-opacity="0.9"/>
<circle cx="77.2" cy="590.6" r="6.1" fill="#5a795a" fill-opacity="0.9"/>
<circle cx="80.1" cy="590.6" r="6.1" fill="#5a795a" fill-opacity="0.9"/>
<circle cx="83" cy="590.6" r="6.1" fill="#5a795a" fill-opacity="0.9"/>
<circle cx="86" cy="590.6" r="6.1" fill="#5a795a" fill-opacity="0.9"/>
<circle cx="88.9" cy="590.6" r="6.1" fill="#5a795a" fill-opacity="0.9"/>
<circle cx="91.8" cy="590.6" r="6.1" fill="#5a795a" fill-opacity="0.9"/>
<circle cx="94.7" cy="590.6" r="6.1" fill="#5a795a" fill-opacity="0.9"/>
<circle cx="97.7" cy="590.6" r="6.1" fill="#5a795a" fill-opacity="0.9"/>
<circle cx="100.6" cy="590.6" r="6.1" fill="#5a795a" fill-opacity="0.9"/>
<circle cx="103.5" cy="590.6" r="6.1" fill="#5a795a" fill-opacity="0.9"/>
<circle cx="106.5" cy="590.6" r="6.1" fill="#5a795a" fill-opacity="0.9"/>
<circle cx="109.4" cy="590.6" r="6.1" fill="#5a795a" fill-opacity="0.9"/>
<circle cx="112.3" cy="590.6" r="6.1" fill="#5a795a" fill-opacity="0.9"/>
<circle cx="115.2" cy="590.6" r="6.1" fill="#5a795a" fill-opacity="0.9"/>
<circle cx="97.7" cy="516" r="6.1" fill="#5a795a" fill-opacity="0.9"/>
<circle cx="100.6" cy="516.4" r="6.1" fill="#5a795a" fill-opacity="0.9"/>
<circle cx="103.5" cy="512" r="6.1" fill="#5a795a" fill-opacity="0.9"/>
<circle cx="106.5" cy="508.5" r="6.1" fill="#5a795a" fill-opacity="0.9"/>
<circle cx="109.4" cy="506.9" r="6.1" fill="#5a795a" fill-opacity="0.9"/>
<circle cx="112.3" cy="504.5" r="6.1" fill="#5a795a" fill-opacity="0.9"/>
<circle cx="115.2" cy="500" r="6.1" fill="#5a795a" fill-opacity="0.9"/>
<circle cx="118.2" cy="495.2" r="6.1" fill="#5a795a" fill-opacity="0.9"/>
<circle cx="121.1" cy="490.3" r="6.1" fill="#5a795a" fill-opacity="0.9"/>
<circle cx="124" cy="485.8" r="6.1" fill="#5a795a" fill-opacity="0.9"/>
<circle cx="126.9" cy="482.9" r="6.1" fill="#5a795a" fill-opacity="0.9"/>
<circle cx="129.9" cy="478.7" r="6.1" fill="#5a795a" fill-opacity="0.9"/>
<circle cx="132.8" cy="479.3" r="6.1" fill="#5a795a" fill-opacity="0.9"/>
<circle cx="135.7" cy="477.2" r="6.1" fill="#5a795a" fill-opacity="0.9"/>
<circle cx="138.6" cy="476.3" r="6.1" fill="#5a795a" fill-opacity="0.9"/>
<circle cx="141.6" cy="477.3" r="6.1" fill="#5a795a" fill-opacity="0.9"/>
<circle cx="144.5" cy="477.9" r="6.1" fill="#5a795a" fill-opacity="0.9"/>
<circle cx="147.4" cy="475.9" r="6.1" fill="#5a795a" fill-opacity="0.9"/>
<circle cx="150.4" cy="477.6" r="6.1" fill="#5a795a" fill-opacity="0.9"/>
<circle cx="153.3" cy="473.2" r="6.1" fill="#5a795a" fill-opacity="0.9"/>
<circle cx="156.2" cy="469.4" r="6.1" fill="#5a795a" fill-opacity="0.9"/>
<circle cx="159.1" cy="468.1" r="6.1" fill="#5a795a" fill-opacity="0.9"/>
<circle cx="162.1" cy="465.6" r="6.1" fill="#5a795a" fill-opacity="0.9"/>
<circle cx="165" cy="463.9" r="6.1" fill="#5a795a" fill-opacity="0.9"/>
<circle cx="167.9" cy="461.9" r="6.1" fill="#5a795a" fill-opacity="0.9"/>
<circle cx="170.8" cy="461.7" r="6.1" fill="#5a795a" fill-opacity="0.9"/>
<circle cx="173.8" cy="461.1" r="6.1" fill="#5a795a" fill-opacity="0.9"/>
<circle cx="176.7" cy="459.6" r="6.1" fill="#5a795a" fill-opacity="0.9"/>
<circle cx="179.6" cy="459.1" r="6.1" fill="#5a795a" fill-opacity="0.9"/>
<circle cx="182.6" cy="458.2" r="6.1" fill="#5a795a" fill-opacity="0.9"/>
<circle cx="185.5" cy="458.6" r="6.1" fill="#5a795a" fill-opacity="0.9"/>
<circle cx="188.4" cy="456.8" r="6.1" fill="#5a795a" fill-opacity="0.9"/>
<circle cx="191.3" cy="457.4" r="6.1" fill="#5a795a" fill-opacity="0.9"/>
<circle cx="194.3" cy="455.3" r="6.1" fill="#5a795a" fill-opacity="0.9"/>
<circle cx="197.2" cy="455.6" r="6.1" fill="#5a795a" fill-opacity="0.9"/>
<circle cx="200.1" cy="454.6" r="6.1" fill="#5a795a" fill-opacity="0.9"/>
<circle cx="203" cy="453.7" r="6.1" fill="#5a795a" fill-opacity="0.9"/>
<circle cx="206" cy="454.3" r="6.1" fill="#5a795a" fill-opacity="0.9"/>
<circle cx="208.9" cy="454.3" r="6.1" fill="#5a795a" fill-opacity="0.9"/>
<circle cx="211.8" cy="451.9" r="6.1" fill="#5a795a" fill-opacity="0.9"/>
<circle cx="214.8" cy="453" r="6.1" fill="#5a795a" fill-opacity="0.9"/>
<circle cx="217.7" cy="450.9" r="6.1" fill="#5a795a" fill-opacity="0.9"/>
<circle cx="220.6" cy="451.1" r="6.1" fill="#5a795a" fill-opacity="0.9"/>
<circle cx="223.5" cy="452" r="6.1" fill="#5a795a" fill-opacity="0.9"/>
<circle cx="226.5" cy="451.5" r="6.1" fill="#5a795a" fill-opacity="0.9"/>
<circle cx="229.4" cy="451" r="6.1" fill="#5a795a" fill-opacity="0.9"/>
<circle cx="232.3" cy="449.3" r="6.1" fill="#5a795a" fill-opacity="0.9"/>
<circle cx="235.2" cy="449.7" r="6.1" fill="#5a795a" fill-opacity="0.9"/>
<circle cx="238.2" cy="449.7" r="6.1" fill="#5a795a" fill-opacity="0.9"/>
<circle cx="241.1" cy="447.3" r="6.1" fill="#5a795a" fill-opacity="0.9"/>
<circle cx="244" cy="448.6" r="6.1" fill="#5a795a" fill-opacity="0.9"/>
<circle cx="246.9" cy="448" r="6.1" fill="#5a795a" fill-opacity="0.9"/>
<circle cx="249.9" cy="448.1" r="6.1" fill="#5a795a" fill-opacity="0.9"/>
<circle cx="252.8" cy="446.7" r="6.1" fill="#5a795a" fill-opacity="0.9"/>
<circle cx="255.7" cy="446.7" r="6.1" fill="#5a795a" fill-opacity="0.9"/>
<circle cx="258.7" cy="446.6" r="6.1" fill="#5a795a" fill-opacity="0.9"/>
<circle cx="261.6" cy="445.7" r="6.1" fill="#5a795a" fill-opacity="0.9"/>
<circle cx="264.5" cy="445.8" r="6.1" fill="#5a795a" fill-opacity="0.9"/>
<circle cx="267.4" cy="444.3" r="6.1" fill="#5a795a" fill-opacity="0.9"/>
<circle cx="270.4" cy="443.4" r="6.1" fill="#5a795a" fill-opacity="0.9"/>
<circle cx="273.3" cy="443.2" r="6.1" fill="#5a795a" fill-opacity="0.9"/>
<circle cx="276.2" cy="444.2" r="6.1" fill="#5a795a" fill-opacity="0.9"/>
<circle cx="279.1" cy="442.3" r="6.1" fill="#5a795a" fill-opacity="0.9"/>
<circle cx="282.1" cy="442.7" r="6.1" fill="#5a795a" fill-opacity="0.9"/>
<circle cx="285" cy="442.2" r="6.1" fill="#5a795a" fill-opacity="0.9"/>
<circle cx="287.9" cy="441.4" r="6.1" fill="#5a795a" fill-opacity="0.9"/>
<circle cx="290.9" cy="440" r="6.1" fill="#5a795a" fill-opacity="0.9"/>
<circle cx="293.8" cy="438.8" r="6.1" fill="#5a795a" fill-opacity="0.9"/>
<circle cx="296.7" cy="438.8" r="6.1" fill="#5a795a" fill-opacity="0.9"/>
<circle cx="299.6" cy="438.3" r="6.1" fill="#5a795a" fill-opacity="0.9"/>
<circle cx="302.6" cy="437" r="6.1" fill="#5a795a" fill-opacity="0.9"/>
<circle cx="305.5" cy="434.2" r="6.1" fill="#5a795a" fill-opacity="0.9"/>
<circle cx="308.4" cy="433.1" r="6.1" fill="#5a795a" fill-opacity="0.9"/>
<circle cx="311.3" cy="431.8" r="6.1" fill="#5a795a" fill-opacity="0.9"/>
<circle cx="314.3" cy="431.1" r="6.1" fill="#5a795a" fill-opacity="0.9"/>
<circle cx="317.2" cy="430.2" r="6.1" fill="#5a795a" fill-opacity="0.9"/>
<circle cx="320.1" cy="428.9" r="6.1" fill="#5a795a" fill-opacity="0.9"/>
<circle cx="323" cy="428.5" r="6.1" fill="#5a795a" fill-opacity="0.9"/>
<circle cx="326" cy="427.3" r="6.1" fill="#5a795a" fill-opacity="0.9"/>
<circle cx="328.9" cy="425" r="6.1" fill="#5a795a" fill-opacity="0.9"/>
<circle cx="331.8" cy="424.1" r="6.1" fill="#5a795a" fill-opacity="0.9"/>
<circle cx="334.8" cy="424.4" r="6.1" fill="#5a795a" fill-opacity="0.9"/>
<circle cx="337.7" cy="423.1" r="6.1" fill="#5a795a" fill-opacity="0.9"/>
<circle cx="340.6" cy="420.8" r="6.1" fill="#5a795a" fill-opacity="0.9"/>
<circle cx="343.5" cy="420.5" r="6.1" fill="#5a795a" fill-opacity="0.9"/>
<circle cx="346.5" cy="420.7" r="6.1" fill="#5a795a" fill-opacity="0.9"/>
<circle cx="349.4" cy="419.2" r="6.1" fill="#5a795a" fill-opacity="0.9"/>
<circle cx="352.3" cy="417.6" r="6.1" fill="#5a795a" fill-opacity="0.9"/>
<circle cx="355.2" cy="417.2" r="6.1" fill="#5a795a" fill-opacity="0.9"/>
<circle cx="358.2" cy="416.9" r="6.1" fill="#5a795a" fill-opacity="0.9"/>
<circle cx="361.1" cy="414.9" r="6.1" fill="#5a795a" fill-opacity="0.9"/>
<circle cx="364" cy="414.2" r="6.1" fill="#5a795a" fill-opacity="0.9"/>
<circle cx="367" cy="414.6" r="6.1" fill="#5a795a" fill-opacity="0.9"/>
<circle cx="369.9" cy="412.7" r="6.1" fill="#5a795a" fill-opacity="0.9"/>
<circle cx="372.8" cy="411.9" r="6.1" fill="#5a795a" fill-opacity="0.9"/>
<circle cx="375.7" cy="411.9" r="6.1" fill="#5a795a" fill-opacity="0.9"/>
<circle cx="378.7" cy="410.4" r="6.1" fill="#5a795a" fill-opacity="0.9"/>
<circle cx="381.6" cy="407.5" r="6.1" fill="#5a795a" fill-opacity="0.9"/>
<circle cx="384.5" cy="405.3" r="6.1" fill="#5a795a" fill-opacity="0.9"/>
<circle cx="387.4" cy="404.3" r="6.1" fill="#5a795a" fill-opacity="0.9"/>
<circle cx="390.4" cy="404.9" r="6.1" fill="#5a795a" fill-opacity="0.9"/>
<circle cx="393.3" cy="403.2" r="6.1" fill="#5a795a" fill-opacity="0.9"/>
<circle cx="396.2" cy="401.2" r="6.1" fill="#5a795a" fill-opacity="0.9"/>
<circle cx="399.2" cy="401.6" r="6.1" fill="#5a795a" fill-opacity="0.9"/>
<circle cx="402.1" cy="400.6" r="6.1" fill="#5a795a" fill-opacity="0.9"/>
<circle cx="405" cy="399.1" r="6.1" fill="#5a795a" fill-opacity="0.9"/>
<circle cx="407.9" cy="396.4" r="6.1" fill="#5a795a" fill-opacity="0.9"/>
<circle cx="410.9" cy="396.3" r="6.1" fill="#5a795a" fill-opacity="0.9"/>
<circle cx="413.8" cy="394.5" r="6.1" fill="#5a795a" fill-opacity="0.9"/>
<circle cx="416.7" cy="393.4" r="6.1" fill="#5a795a" fill-opacity="0.9"/>
<circle cx="419.6" cy="392.2" r="6.1" fill="#5a795a" fill-opacity="0.9"/>
<circle cx="422.6" cy="390.5" r="6.1" fill="#5a795a" fill-opacity="0.9"/>
<circle cx="425.5" cy="388.6" r="6.1" fill="#5a795a" fill-opacity="0.9"/>
<circle cx="428.4" cy="382.7" r="6.1" fill="#5a795a" fill-opacity="0.9"/>
<circle cx="431.3" cy="375.3" r="6.1" fill="#5a795a" fill-opacity="0.9"/>
<circle cx="71.3" cy="590.6" r="6.1" fill="#76ae76" fill-opacity="0.9"/>
<circle cx="74.3" cy="590.6" r="6.1" fill="#76ae76" fill-opacity="0.9"/>
<circle cx="77.2" cy="590.6" r="6.1" fill="#76ae76" fill-opacity="0.9"/>
<circle cx="80.1" cy="590.6" r="6.1" fill="#76ae76" fill-opacity="0.9"/>
<circle cx="83" cy="590.6" r="6.1" fill="#76ae76" fill-opacity="0.9"/>
<circle cx="86" cy="590.6" r="6.1" fill="#76ae76" fill-opacity="0.9"/>
<circle cx="88.9" cy="590.6" r="6.1" fill="#76ae76" fill-opacity="0.9"/>
<circle cx="91.8" cy="590.6" r="6.1" fill="#76ae76" fill-opacity="0.9"/>
<circle cx="94.7" cy="590.6" r="6.1" fill="#76ae76" fill-opacity="0.9"/>
<circle cx="97.7" cy="590.6" r="6.1" fill="#76ae76" fill-opacity="0.9"/>
<circle cx="100.6" cy="590.6" r="6.1" fill="#76ae76" fill-opacity="0.9"/>
<circle cx="103.5" cy="590.6" r="6.1" fill="#76ae76" fill-opacity="0.9"/>
<circle cx="106.5" cy="590.6" r="6.1" fill="#76ae76" fill-opacity="0.9"/>
<circle cx="109.4" cy="590.6" r="6.1" fill="#76ae76" fill-opacity="0.9"/>
<circle cx="112.3" cy="590.6" r="6.1" fill="#76ae76" fill-opacity="0.9"/>
<circle cx="115.2" cy="590.6" r="6.1" fill="#76ae76" fill-opacity="0.9"/>
<circle cx="118.2" cy="590.6" r="6.1" fill="#76ae76" fill-opacity="0.9"/>
<circle cx="121.1" cy="590.6" r="6.1" fill="#76ae76" fill-opacity="0.9"/>
<circle cx="124" cy="590.6" r="6.1" fill="#76ae76" fill-opacity="0.9"/>
<circle cx="126.9" cy="590.6" r="6.1" fill="#76ae76" fill-opacity="0.9"/>
<circle cx="129.9" cy="590.6" r="6.1" fill="#76ae76" fill-opacity="0.9"/>
<circle cx="132.8" cy="590.6" r="6.1" fill="#76ae76" fill-opacity="0.9"/>
<circle cx="135.7" cy="590.6" r="6.1" fill="#76ae76" fill-opacity="0.9"/>
<circle cx="138.6" cy="590.6" r="6.1" fill="#76ae76" fill-opacity="0.9"/>
<circle cx="141.6" cy="590.6" r="6.1" fill="#76ae76" fill-opacity="0.9"/>
<circle cx="144.5" cy="590.6" r="6.1" fill="#76ae76" fill-opacity="0.9"/>
<circle cx="147.4" cy="590.6" r="6.1" fill="#76ae76" fill-opacity="0.9"/>
<circle cx="150.4" cy="553" r="6.1" fill="#76ae76" fill-opacity="0.9"/>
<circle cx="153.3" cy="549.3" r="6.1" fill="#76ae76" fill-opacity="0.9"/>
<circle cx="156.2" cy="545.7" r="6.1" fill="#76ae76" fill-opacity="0.9"/>
<circle cx="159.1" cy="533.8" r="6.1" fill="#76ae76" fill-opacity="0.9"/>
<circle cx="162.1" cy="524.3" r="6.1" fill="#76ae76" fill-opacity="0.9"/>
<circle cx="165" cy="516.3" r="6.1" fill="#76ae76" fill-opacity="0.9"/>
<circle cx="167.9" cy="514.4" r="6.1" fill="#76ae76" fill-opacity="0.9"/>
<circle cx="170.8" cy="512.9" r="6.1" fill="#76ae76" fill-opacity="0.9"/>
<circle cx="173.8" cy="509.2" r="6.1" fill="#76ae76" fill-opacity="0.9"/>
<circle cx="176.7" cy="507.3" r="6.1" fill="#76ae76" fill-opacity="0.9"/>
<circle cx="179.6" cy="503.7" r="6.1" fill="#76ae76" fill-opacity="0.9"/>
<circle cx="182.6" cy="499" r="6.1" fill="#76ae76" fill-opacity="0.9"/>
<circle cx="185.5" cy="497.2" r="6.1" fill="#76ae76" fill-opacity="0.9"/>
<circle cx="188.4" cy="496" r="6.1" fill="#76ae76" fill-opacity="0.9"/>
<circle cx="191.3" cy="493.3" r="6.1" fill="#76ae76" fill-opacity="0.9"/>
<circle cx="194.3" cy="493.8" r="6.1" fill="#76ae76" fill-opacity="0.9"/>
<circle cx="197.2" cy="490.8" r="6.1" fill="#76ae76" fill-opacity="0.9"/>
<circle cx="200.1" cy="489.1" r="6.1" fill="#76ae76" fill-opacity="0.9"/>
<circle cx="203" cy="488.5" r="6.1" fill="#76ae76" fill-opacity="0.9"/>
<circle cx="206" cy="487.3" r="6.1" fill="#76ae76" fill-opacity="0.9"/>
<circle cx="208.9" cy="485" r="6.1" fill="#76ae76" fill-opacity="0.9"/>
<circle cx="211.8" cy="482.7" r="6.1" fill="#76ae76" fill-opacity="0.9"/>
<circle cx="214.8" cy="480.4" r="6.1" fill="#76ae76" fill-opacity="0.9"/>
<circle cx="217.7" cy="478.7" r="6.1" fill="#76ae76" fill-opacity="0.9"/>
<circle cx="220.6" cy="477.1" r="6.1" fill="#76ae76" fill-opacity="0.9"/>
<circle cx="223.5" cy="476.3" r="6.1" fill="#76ae76" fill-opacity="0.9"/>
<circle cx="226.5" cy="475.9" r="6.1" fill="#76ae76" fill-opacity="0.9"/>
<circle cx="229.4" cy="473.9" r="6.1" fill="#76ae76" fill-opacity="0.9"/>
<circle cx="232.3" cy="474.3" r="6.1" fill="#76ae76" fill-opacity="0.9"/>
<circle cx="235.2" cy="471.2" r="6.1" fill="#76ae76" fill-opacity="0.9"/>
<circle cx="238.2" cy="470.2" r="6.1" fill="#76ae76" fill-opacity="0.9"/>
<circle cx="241.1" cy="469.5" r="6.1" fill="#76ae76" fill-opacity="0.9"/>
<circle cx="244" cy="469.9" r="6.1" fill="#76ae76" fill-opacity="0.9"/>
<circle cx="246.9" cy="467.7" r="6.1" fill="#76ae76" fill-opacity="0.9"/>
<circle cx="249.9" cy="466.6" r="6.1" fill="#76ae76" fill-opacity="0.9"/>
<circle cx="252.8" cy="467" r="6.1" fill="#76ae76" fill-opacity="0.9"/>
<circle cx="255.7" cy="464.8" r="6.1" fill="#76ae76" fill-opacity="0.9"/>
<circle cx="258.7" cy="464.8" r="6.1" fill="#76ae76" fill-opacity="0.9"/>
<circle cx="261.6" cy="463.4" r="6.1" fill="#76ae76" fill-opacity="0.9"/>
<circle cx="264.5" cy="464.3" r="6.1" fill="#76ae76" fill-opacity="0.9"/>
<circle cx="267.4" cy="462.3" r="6.1" fill="#76ae76" fill-opacity="0.9"/>
<circle cx="270.4" cy="461.8" r="6.1" fill="#76ae76" fill-opacity="0.9"/>
<circle cx="273.3" cy="462.3" r="6.1" fill="#76ae76" fill-opacity="0.9"/>
<circle cx="276.2" cy="461.1" r="6.1" fill="#76ae76" fill-opacity="0.9"/>
<circle cx="279.1" cy="461.3" r="6.1" fill="#76ae76" fill-opacity="0.9"/>
<circle cx="282.1" cy="459.6" r="6.1" fill="#76ae76" fill-opacity="0.9"/>
<circle cx="285" cy="460.1" r="6.1" fill="#76ae76" fill-opacity="0.9"/>
<circle cx="287.9" cy="458.6" r="6.1" fill="#76ae76" fill-opacity="0.9"/>
<circle cx="290.9" cy="457.7" r="6.1" fill="#76ae76" fill-opacity="0.9"/>
<circle cx="293.8" cy="458.7" r="6.1" fill="#76ae76" fill-opacity="0.9"/>
<circle cx="296.7" cy="457.5" r="6.1" fill="#76ae76" fill-opacity="0.9"/>
<circle cx="299.6" cy="455.9" r="6.1" fill="#76ae76" fill-opacity="0.9"/>
<circle cx="302.6" cy="456.2" r="6.1" fill="#76ae76" fill-opacity="0.9"/>
<circle cx="305.5" cy="455.9" r="6.1" fill="#76ae76" fill-opacity="0.9"/>
<circle cx="308.4" cy="454.1" r="6.1" fill="#76ae76" fill-opacity="0.9"/>
<circle cx="311.3" cy="454.3" r="6.1" fill="#76ae76" fill-opacity="0.9"/>
<circle cx="314.3" cy="453.6" r="6.1" fill="#76ae76" fill-opacity="0.9"/>
<circle cx="317.2" cy="452.5" r="6.1" fill="#76ae76" fill-opacity="0.9"/>
<circle cx="320.1" cy="453" r="6.1" fill="#76ae76" fill-opacity="0.9"/>
<circle cx="323" cy="452" r="6.1" fill="#76ae76" fill-opacity="0.9"/>
<circle cx="326" cy="451.6" r="6.1" fill="#76ae76" fill-opacity="0.9"/>
<circle cx="328.9" cy="451" r="6.1" fill="#76ae76" fill-opacity="0.9"/>
<circle cx="331.8" cy="450.8" r="6.1" fill="#76ae76" fill-opacity="0.9"/>
<circle cx="334.8" cy="450.9" r="6.1" fill="#76ae76" fill-opacity="0.9"/>
<circle cx="337.7" cy="449.9" r="6.1" fill="#76ae76" fill-opacity="0.9"/>
<circle cx="340.6" cy="450.6" r="6.1" fill="#76ae76" fill-opacity="0.9"/>
<circle cx="343.5" cy="450.2" r="6.1" fill="#76ae76" fill-opacity="0.9"/>
<circle cx="346.5" cy="448.9" r="6.1" fill="#76ae76" fill-opacity="0.9"/>
<circle cx="349.4" cy="447.8" r="6.1" fill="#76ae76" fill-opacity="0.9"/>
<circle cx="352.3" cy="448.3" r="6.1" fill="#76ae76" fill-opacity="0.9"/>
<circle cx="355.2" cy="447.8" r="6.1" fill="#76ae76" fill-opacity="0.9"/>
<circle cx="358.2" cy="448.6" r="6.1" fill="#76ae76" fill-opacity="0.9"/>
<circle cx="361.1" cy="446.8" r="6.1" fill="#76ae76" fill-opacity="0.9"/>
<circle cx="364" cy="445.5" r="6.1" fill="#76ae76" fill-opacity="0.9"/>
<circle cx="367" cy="445.2" r="6.1" fill="#76ae76" fill-opacity="0.9"/>
<circle cx="369.9" cy="446" r="6.1" fill="#76ae76" fill-opacity="0.9"/>
<circle cx="372.8" cy="443.7" r="6.1" fill="#76ae76" fill-opacity="0.9"/>
<circle cx="375.7" cy="444.8" r="6.1" fill="#76ae76" fill-opacity="0.9"/>
<circle cx="378.7" cy="443" r="6.1" fill="#76ae76" fill-opacity="0.9"/>
<circle cx="381.6" cy="442.6" r="6.1" fill="#76ae76" fill-opacity="0.9"/>
<circle cx="384.5" cy="442.4" r="6.1" fill="#76ae76" fill-opacity="0.9"/>
<circle cx="387.4" cy="442" r="6.1" fill="#76ae76" fill-opacity="0.9"/>
<circle cx="390.4" cy="439.5" r="6.1" fill="#76ae76" fill-opacity="0.9"/>
<circle cx="393.3" cy="439.5" r="6.1" fill="#76ae76" fill-opacity="0.9"/>
<circle cx="396.2" cy="437.6" r="6.1" fill="#76ae76" fill-opacity="0.9"/>
<circle cx="399.2" cy="438.2" r="6.1" fill="#76ae76" fill-opacity="0.9"/>
<circle cx="402.1" cy="436.8" r="6.1" fill="#76ae76" fill-opacity="0.9"/>
<circle cx="405" cy="434.5" r="6.1" fill="#76ae76" fill-opacity="0.9"/>
<circle cx="407.9" cy="433.6" r="6.1" fill="#76ae76" fill-opacity="0.9"/>
<circle cx="410.9" cy="433.8" r="6.1" fill="#76ae76" fill-opacity="0.9"/>
<circle cx="413.8" cy="432.5" r="6.1" fill="#76ae76" fill-opacity="0.9"/>
<circle cx="416.7" cy="430.9" r="6.1" fill="#76ae76" fill-opacity="0.9"/>
<circle cx="419.6" cy="428.1" r="6.1" fill="#76ae76" fill-opacity="0.9"/>
<circle cx="422.6" cy="428.3" r="6.1" fill="#76ae76" fill-opacity="0.9"/>
<circle cx="425.5" cy="429" r="6.1" fill="#76ae76" fill-opacity="0.9"/>
<circle cx="428.4" cy="428" r="6.1" fill="#76ae76" fill-opacity="0.9"/>
<circle cx="431.3" cy="428.5" r="6.1" fill="#76ae76" fill-opacity="0.9"/>
<circle cx="434.3" cy="427.2" r="6.1" fill="#76ae76" fill-opacity="0.9"/>
<circle cx="437.2" cy="427.8" r="6.1" fill="#76ae76" fill-opacity="0.9"/>
<circle cx="440.1" cy="427.4" r="6.1" fill="#76ae76" fill-opacity="0.9"/>
<circle cx="443.1" cy="427.7" r="6.1" fill="#76ae76" fill-opacity="0.9"/>
<circle cx="446" cy="426.2" r="6.1" fill="#76ae76" fill-opacity="0.9"/>
<circle cx="448.9" cy="427" r="6.1" fill="#76ae76" fill-opacity="0.9"/>
<circle cx="451.8" cy="424.1" r="6.1" fill="#76ae76" fill-opacity="0.9"/>
<circle cx="454.8" cy="422" r="6.1" fill="#76ae76" fill-opacity="0.9"/>
<circle cx="457.7" cy="421.3" r="6.1" fill="#76ae76" fill-opacity="0.9"/>
<circle cx="460.6" cy="419.1" r="6.1" fill="#76ae76" fill-opacity="0.9"/>
<circle cx="463.5" cy="419.2" r="6.1" fill="#76ae76" fill-opacity="0.9"/>
<circle cx="466.5" cy="417.5" r="6.1" fill="#76ae76" fill-opacity="0.9"/>
<circle cx="469.4" cy="416.3" r="6.1" fill="#76ae76" fill-opacity="0.9"/>
<circle cx="472.3" cy="413.2" r="6.1" fill="#76ae76" fill-opacity="0.9"/>
<circle cx="475.3" cy="413.2" r="6.1" fill="#76ae76" fill-opacity="0.9"/>
<circle cx="478.2" cy="411.8" r="6.1" fill="#76ae76" fill-opacity="0.9"/>
<circle cx="481.1" cy="408.8" r="6.1" fill="#76ae76" fill-opacity="0.9"/>
<circle cx="484" cy="408.4" r="6.1" fill="#76ae76" fill-opacity="0.9"/>
<circle cx="487" cy="405.8" r="6.1" fill="#76ae76" fill-opacity="0.9"/>
<circle cx="489.9" cy="403.8" r="6.1" fill="#76ae76" fill-opacity="0.9"/>
<circle cx="492.8" cy="403.3" r="6.1" fill="#76ae76" fill-opacity="0.9"/>
<circle cx="495.7" cy="399.1" r="6.1" fill="#76ae76" fill-opacity="0.9"/>
<circle cx="498.7" cy="395.5" r="6.1" fill="#76ae76" fill-opacity="0.9"/>
<circle cx="501.6" cy="393.4" r="6.1" fill="#76ae76" fill-opacity="0.9"/>
<circle cx="504.5" cy="391.3" r="6.1" fill="#76ae76" fill-opacity="0.9"/>
<circle cx="507.5" cy="388.3" r="6.1" fill="#76ae76" fill-opacity="0.9"/>
<circle cx="71.3" cy="590.6" r="6.1" fill="#a0d89a" fill-opacity="0.9"/>
<circle cx="74.3" cy="590.6" r="6.1" fill="#a0d89a" fill-opacity="0.9"/>
<circle cx="77.2" cy="590.6" r="6.1" fill="#a0d89a" fill-opacity="0.9"/>
<circle cx="80.1" cy="590.6" r="6.1" fill="#a0d89a" fill-opacity="0.9"/>
<circle cx="83" cy="536.8" r="6.1" fill="#a0d89a" fill-opacity="0.9"/>
<circle cx="86" cy="528.3" r="6.1" fill="#a0d89a" fill-opacity="0.9"/>
<circle cx="88.9" cy="528.1" r="6.1" fill="#a0d89a" fill-opacity="0.9"/>
<circle cx="91.8" cy="529" r="6.1" fill="#a0d89a" fill-opacity="0.9"/>
<circle cx="94.7" cy="527.7" r="6.1" fill="#a0d89a" fill-opacity="0.9"/>
<circle cx="97.7" cy="527.6" r="6.1" fill="#a0d89a" fill-opacity="0.9"/>
<circle cx="100.6" cy="529.5" r="6.1" fill="#a0d89a" fill-opacity="0.9"/>
<circle cx="103.5" cy="529.5" r="6.1" fill="#a0d89a" fill-opacity="0.9"/>
<circle cx="106.5" cy="529" r="6.1" fill="#a0d89a" fill-opacity="0.9"/>
<circle cx="109.4" cy="529.4" r="6.1" fill="#a0d89a" fill-opacity="0.9"/>
<circle cx="112.3" cy="525" r="6.1" fill="#a0d89a" fill-opacity="0.9"/>
<circle cx="115.2" cy="522" r="6.1" fill="#a0d89a" fill-opacity="0.9"/>
<circle cx="118.2" cy="518.6" r="6.1" fill="#a0d89a" fill-opacity="0.9"/>
<circle cx="121.1" cy="518.3" r="6.1" fill="#a0d89a" fill-opacity="0.9"/>
<circle cx="124" cy="515.8" r="6.1" fill="#a0d89a" fill-opacity="0.9"/>
<circle cx="126.9" cy="512.2" r="6.1" fill="#a0d89a" fill-opacity="0.9"/>
<circle cx="129.9" cy="509.9" r="6.1" fill="#a0d89a" fill-opacity="0.9"/>
<circle cx="132.8" cy="508" r="6.1" fill="#a0d89a" fill-opacity="0.9"/>
<circle cx="135.7" cy="506.8" r="6.1" fill="#a0d89a" fill-opacity="0.9"/>
<circle cx="138.6" cy="505.9" r="6.1" fill="#a0d89a" fill-opacity="0.9"/>
<circle cx="141.6" cy="504.7" r="6.1" fill="#a0d89a" fill-opacity="0.9"/>
<circle cx="144.5" cy="502.4" r="6.1" fill="#a0d89a" fill-opacity="0.9"/>
<circle cx="147.4" cy="501.7" r="6.1" fill="#a0d89a" fill-opacity="0.9"/>
<circle cx="150.4" cy="499.8" r="6.1" fill="#a0d89a" fill-opacity="0.9"/>
<circle cx="153.3" cy="499.2" r="6.1" fill="#a0d89a" fill-opacity="0.9"/>
<circle cx="156.2" cy="499.7" r="6.1" fill="#a0d89a" fill-opacity="0.9"/>
<circle cx="159.1" cy="498.1" r="6.1" fill="#a0d89a" fill-opacity="0.9"/>
<circle cx="162.1" cy="496.3" r="6.1" fill="#a0d89a" fill-opacity="0.9"/>
<circle cx="165" cy="496.3" r="6.1" fill="#a0d89a" fill-opacity="0.9"/>
<circle cx="167.9" cy="495.6" r="6.1" fill="#a0d89a" fill-opacity="0.9"/>
<circle cx="170.8" cy="494" r="6.1" fill="#a0d89a" fill-opacity="0.9"/>
<circle cx="173.8" cy="491.4" r="6.1" fill="#a0d89a" fill-opacity="0.9"/>
<circle cx="176.7" cy="490.9" r="6.1" fill="#a0d89a" fill-opacity="0.9"/>
<circle cx="179.6" cy="489.8" r="6.1" fill="#a0d89a" fill-opacity="0.9"/>
<circle cx="182.6" cy="488.6" r="6.1" fill="#a0d89a" fill-opacity="0.9"/>
<circle cx="185.5" cy="487.8" r="6.1" fill="#a0d89a" fill-opacity="0.9"/>
<circle cx="188.4" cy="488.3" r="6.1" fill="#a0d89a" fill-opacity="0.9"/>
<circle cx="191.3" cy="487" r="6.1" fill="#a0d89a" fill-opacity="0.9"/>
<circle cx="194.3" cy="486.9" r="6.1" fill="#a0d89a" fill-opacity="0.9"/>
<circle cx="197.2" cy="485.4" r="6.1" fill="#a0d89a" fill-opacity="0.9"/>
<circle cx="200.1" cy="485.7" r="6.1" fill="#a0d89a" fill-opacity="0.9"/>
<circle cx="203" cy="483.3" r="6.1" fill="#a0d89a" fill-opacity="0.9"/>
<circle cx="206" cy="483.4" r="6.1" fill="#a0d89a" fill-opacity="0.9"/>
<circle cx="208.9" cy="482.4" r="6.1" fill="#a0d89a" fill-opacity="0.9"/>
<circle cx="211.8" cy="481.9" r="6.1" fill="#a0d89a" fill-opacity="0.9"/>
<circle cx="214.8" cy="482.3" r="6.1" fill="#a0d89a" fill-opacity="0.9"/>
<circle cx="217.7" cy="480.5" r="6.1" fill="#a0d89a" fill-opacity="0.9"/>
<circle cx="220.6" cy="481.4" r="6.1" fill="#a0d89a" fill-opacity="0.9"/>
<circle cx="223.5" cy="480.1" r="6.1" fill="#a0d89a" fill-opacity="0.9"/>
<circle cx="226.5" cy="480.1" r="6.1" fill="#a0d89a" fill-opacity="0.9"/>
<circle cx="229.4" cy="477.6" r="6.1" fill="#a0d89a" fill-opacity="0.9"/>
<circle cx="232.3" cy="477.1" r="6.1" fill="#a0d89a" fill-opacity="0.9"/>
<circle cx="235.2" cy="476.4" r="6.1" fill="#a0d89a" fill-opacity="0.9"/>
<circle cx="238.2" cy="477.9" r="6.1" fill="#a0d89a" fill-opacity="0.9"/>
<circle cx="241.1" cy="476.1" r="6.1" fill="#a0d89a" fill-opacity="0.9"/>
<circle cx="244" cy="474.7" r="6.1" fill="#a0d89a" fill-opacity="0.9"/>
<circle cx="246.9" cy="474.6" r="6.1" fill="#a0d89a" fill-opacity="0.9"/>
<circle cx="249.9" cy="474.3" r="6.1" fill="#a0d89a" fill-opacity="0.9"/>
<circle cx="252.8" cy="473.5" r="6.1" fill="#a0d89a" fill-opacity="0.9"/>
<circle cx="255.7" cy="473.1" r="6.1" fill="#a0d89a" fill-opacity="0.9"/>
<circle cx="258.7" cy="472.4" r="6.1" fill="#a0d89a" fill-opacity="0.9"/>
<circle cx="261.6" cy="471.9" r="6.1" fill="#a0d89a" fill-opacity="0.9"/>
<circle cx="264.5" cy="471.7" r="6.1" fill="#a0d89a" fill-opacity="0.9"/>
<circle cx="267.4" cy="470.5" r="6.1" fill="#a0d89a" fill-opacity="0.9"/>
<circle cx="270.4" cy="471" r="6.1" fill="#a0d89a" fill-opacity="0.9"/>
<circle cx="273.3" cy="470.9" r="6.1" fill="#a0d89a" fill-opacity="0.9"/>
<circle cx="276.2" cy="469" r="6.1" fill="#a0d89a" fill-opacity="0.9"/>
<circle cx="279.1" cy="469.4" r="6.1" fill="#a0d89a" fill-opacity="0.9"/>
<circle cx="282.1" cy="469" r="6.1" fill="#a0d89a" fill-opacity="0.9"/>
<circle cx="285" cy="467.6" r="6.1" fill="#a0d89a" fill-opacity="0.9"/>
<circle cx="287.9" cy="467.2" r="6.1" fill="#a0d89a" fill-opacity="0.9"/>
<circle cx="290.9" cy="466.1" r="6.1" fill="#a0d89a" fill-opacity="0.9"/>
<circle cx="293.8" cy="466.6" r="6.1" fill="#a0d89a" fill-opacity="0.9"/>
<circle cx="296.7" cy="466.9" r="6.1" fill="#a0d89a" fill-opacity="0.9"/>
<circle cx="299.6" cy="465.8" r="6.1" fill="#a0d89a" fill-opacity="0.9"/>
<circle cx="302.6" cy="463.7" r="6.1" fill="#a0d89a" fill-opacity="0.9"/>
<circle cx="305.5" cy="463.3" r="6.1" fill="#a0d89a" fill-opacity="0.9"/>
<circle cx="308.4" cy="462.7" r="6.1" fill="#a0d89a" fill-opacity="0.9"/>
<circle cx="311.3" cy="461.3" r="6.1" fill="#a0d89a" fill-opacity="0.9"/>
<circle cx="314.3" cy="462" r="6.1" fill="#a0d89a" fill-opacity="0.9"/>
<circle cx="317.2" cy="461" r="6.1" fill="#a0d89a" fill-opacity="0.9"/>
<circle cx="320.1" cy="459.2" r="6.1" fill="#a0d89a" fill-opacity="0.9"/>
<circle cx="323" cy="457.9" r="6.1" fill="#a0d89a" fill-opacity="0.9"/>
<circle cx="326" cy="458.2" r="6.1" fill="#a0d89a" fill-opacity="0.9"/>
<circle cx="328.9" cy="456.3" r="6.1" fill="#a0d89a" fill-opacity="0.9"/>
<circle cx="331.8" cy="454.6" r="6.1" fill="#a0d89a" fill-opacity="0.9"/>
<circle cx="334.8" cy="452.4" r="6.1" fill="#a0d89a" fill-opacity="0.9"/>
<circle cx="337.7" cy="449.7" r="6.1" fill="#a0d89a" fill-opacity="0.9"/>
<circle cx="340.6" cy="446.5" r="6.1" fill="#a0d89a" fill-opacity="0.9"/>
<circle cx="343.5" cy="442.3" r="6.1" fill="#a0d89a" fill-opacity="0.9"/>
<circle cx="346.5" cy="440.2" r="6.1" fill="#a0d89a" fill-opacity="0.9"/>
<circle cx="349.4" cy="436.5" r="6.1" fill="#a0d89a" fill-opacity="0.9"/>
<circle cx="352.3" cy="431" r="6.1" fill="#a0d89a" fill-opacity="0.9"/>
<circle cx="355.3" cy="417" r="6.1" fill="#a0d89a" fill-opacity="0.9"/>
<circle cx="358.2" cy="416" r="6.1" fill="#a0d89a" fill-opacity="0.9"/>
<circle cx="361.1" cy="416" r="6.1" fill="#a0d89a" fill-opacity="0.9"/>
<circle cx="364" cy="397.7" r="6.1" fill="#a0d89a" fill-opacity="0.9"/>
</g>
<text x="576" y="419.8" font-size="13" fill="#222">Time since fire</text>
<line x1="572.4" y1="437" x2="594.3" y2="437" stroke="#383838" stroke-width="1.8" stroke-opacity="0.6"/>
<circle cx="583.4" cy="437" r="6.3" fill="#383838" fill-opacity="0.9"/>
<text x="602.9" y="441.6" font-size="13" fill="#222">1st year</text>
<line x1="572.4" y1="464" x2="594.3" y2="464" stroke="#5a795a" stroke-width="1.8" stroke-opacity="0.6"/>
<circle cx="583.4" cy="464" r="6.3" fill="#5a795a" fill-opacity="0.9"/>
<text x="602.9" y="468.6" font-size="13" fill="#222">2nd year</text>
<line x1="572.4" y1="490.8" x2="594.3" y2="490.8" stroke="#76ae76" stroke-width="1.8" stroke-opacity="0.6"/>
<circle cx="583.4" cy="490.8" r="6.3" fill="#76ae76" fill-opacity="0.9"/>
<text x="602.9" y="495.4" font-size="13" fill="#222">3 to 4 years</text>
<line x1="572.4" y1="518.2" x2="594.3" y2="518.2" stroke="#a0d89a" stroke-width="1.8" stroke-opacity="0.6"/>
<circle cx="583.4" cy="518.2" r="6.3" fill="#a0d89a" fill-opacity="0.9"/>
<text x="602.9" y="522.8" font-size="13" fill="#222">5+ years</text>
<line x1="69.6" y1="664" x2="69.6" y2="911" stroke="#626262" stroke-width="1.05"/>
<line x1="64.3" y1="910.5" x2="529.5" y2="910.5" stroke="#626262" stroke-width="1.05"/>
<line x1="64.3" y1="675.4" x2="69.6" y2="675.4" stroke="#626262" stroke-width="1.05"/>
<text x="58.9" y="678.8" font-size="10.2" text-anchor="end" fill="#333">1<tspan dx="1.2">&#215;</tspan><tspan dx="2.3">10</tspan><tspan font-size="6.4" dy="-5.8" dx="0.2">3</tspan></text>
<line x1="64.3" y1="709" x2="69.6" y2="709" stroke="#626262" stroke-width="1.05"/>
<text x="58.9" y="712.4" font-size="10.2" text-anchor="end" fill="#333">1<tspan dx="1.2">&#215;</tspan><tspan dx="2.3">10</tspan><tspan font-size="6.4" dy="-5.8" dx="0.2">2</tspan></text>
<line x1="64.3" y1="742.6" x2="69.6" y2="742.6" stroke="#626262" stroke-width="1.05"/>
<text x="58.9" y="746" font-size="10.2" text-anchor="end" fill="#333">1<tspan dx="1.2">&#215;</tspan><tspan dx="2.3">10</tspan><tspan font-size="6.4" dy="-5.8" dx="0.2">1</tspan></text>
<line x1="64.3" y1="776.2" x2="69.6" y2="776.2" stroke="#626262" stroke-width="1.05"/>
<text x="58.9" y="779.6" font-size="10.2" text-anchor="end" fill="#333">1<tspan dx="1.2">&#215;</tspan><tspan dx="2.3">10</tspan><tspan font-size="6.4" dy="-5.8" dx="0.2">0</tspan></text>
<line x1="64.3" y1="809.8" x2="69.6" y2="809.8" stroke="#626262" stroke-width="1.05"/>
<text x="58.9" y="813.2" font-size="10.2" text-anchor="end" fill="#333">1<tspan dx="1.2">&#215;</tspan><tspan dx="2.3">10</tspan><tspan font-size="6.4" dy="-5.8" dx="3.0">1</tspan></text>
<line x1="52.5" y1="804.9" x2="55.2" y2="804.9" stroke="#333" stroke-width="0.8"/>
<line x1="64.3" y1="843.4" x2="69.6" y2="843.4" stroke="#626262" stroke-width="1.05"/>
<text x="58.9" y="846.8" font-size="10.2" text-anchor="end" fill="#333">1<tspan dx="1.2">&#215;</tspan><tspan dx="2.3">10</tspan><tspan font-size="6.4" dy="-5.8" dx="3.0">2</tspan></text>
<line x1="52.5" y1="838.5" x2="55.2" y2="838.5" stroke="#333" stroke-width="0.8"/>
<line x1="64.3" y1="877" x2="69.6" y2="877" stroke="#626262" stroke-width="1.05"/>
<text x="58.9" y="880.4" font-size="10.2" text-anchor="end" fill="#333">1<tspan dx="1.2">&#215;</tspan><tspan dx="2.3">10</tspan><tspan font-size="6.4" dy="-5.8" dx="3.0">3</tspan></text>
<line x1="52.5" y1="872.1" x2="55.2" y2="872.1" stroke="#333" stroke-width="0.8"/>
<line x1="64.3" y1="910.5" x2="69.6" y2="910.5" stroke="#626262" stroke-width="1.05"/>
<text x="58.9" y="913.9" font-size="10.2" text-anchor="end" fill="#333">1<tspan dx="1.2">&#215;</tspan><tspan dx="2.3">10</tspan><tspan font-size="6.4" dy="-5.8" dx="3.0">4</tspan></text>
<line x1="52.5" y1="905.6" x2="55.2" y2="905.6" stroke="#333" stroke-width="0.8"/>
<line x1="69.5" y1="910.5" x2="69.5" y2="915.1" stroke="#626262" stroke-width="1.05"/>
<text x="69.5" y="936.4" font-size="10.6" text-anchor="middle" fill="#333">0</text>
<line x1="159.1" y1="910.5" x2="159.1" y2="915.1" stroke="#626262" stroke-width="1.05"/>
<text x="159.1" y="936.4" font-size="10.6" text-anchor="middle" fill="#333">50</text>
<line x1="248.6" y1="910.5" x2="248.6" y2="915.1" stroke="#626262" stroke-width="1.05"/>
<text x="248.6" y="936.4" font-size="10.6" text-anchor="middle" fill="#333">100</text>
<line x1="338.1" y1="910.5" x2="338.1" y2="915.1" stroke="#626262" stroke-width="1.05"/>
<text x="338.1" y="936.4" font-size="10.6" text-anchor="middle" fill="#333">150</text>
<line x1="427.7" y1="910.5" x2="427.7" y2="915.1" stroke="#626262" stroke-width="1.05"/>
<text x="427.7" y="936.4" font-size="10.6" text-anchor="middle" fill="#333">200</text>
<line x1="517.2" y1="910.5" x2="517.2" y2="915.1" stroke="#626262" stroke-width="1.05"/>
<text x="517.2" y="936.4" font-size="10.6" text-anchor="middle" fill="#333">250</text>
<text x="220.3" y="956" font-size="13" fill="#222">Number of observations</text>
<text transform="translate(17.9 792.3) rotate(-90)" font-size="13" text-anchor="middle" fill="#222">Soil erosion (Mg ha<tspan font-size="8.5" dy="-5">&#8722;1</tspan><tspan dy="5"> yr</tspan><tspan font-size="8.5" dy="-5">&#8722;1</tspan><tspan dy="5">)</tspan></text>
<g id="pc">
<line x1="72" y1="811" x2="72" y2="910.5" stroke="#009E73" stroke-width="1.8" stroke-opacity="0.6"/>
<line x1="83.5" y1="789.7" x2="83.5" y2="910.5" stroke="#CC79A7" stroke-width="1.5" stroke-opacity="0.6"/>
<line x1="103.2" y1="772" x2="103.2" y2="910.5" stroke="#CC79A7" stroke-width="1.5" stroke-opacity="0.6"/>
<line x1="119.4" y1="794.9" x2="119.4" y2="910.5" stroke="#0072B2" stroke-width="1.5" stroke-opacity="0.6"/>
<line x1="128.1" y1="791.7" x2="128.1" y2="910.5" stroke="#0072B2" stroke-width="1.5" stroke-opacity="0.6"/>
<line x1="134" y1="789.2" x2="134" y2="910.5" stroke="#0072B2" stroke-width="1.5" stroke-opacity="0.6"/>
<line x1="141" y1="785" x2="141" y2="910.5" stroke="#0072B2" stroke-width="1.5" stroke-opacity="0.6"/>
<line x1="144.3" y1="881.4" x2="144.3" y2="910.5" stroke="#999999" stroke-width="1.5" stroke-opacity="0.6"/>
<line x1="187.6" y1="811.9" x2="187.6" y2="910.5" stroke="#999999" stroke-width="1.5" stroke-opacity="0.6"/>
<line x1="226.8" y1="796.6" x2="226.8" y2="910.5" stroke="#999999" stroke-width="1.5" stroke-opacity="0.6"/>
<line x1="305.8" y1="775.1" x2="305.8" y2="910.5" stroke="#999999" stroke-width="1.5" stroke-opacity="0.6"/>
<line x1="311.2" y1="772.1" x2="311.2" y2="910.5" stroke="#999999" stroke-width="1.5" stroke-opacity="0.6"/>
<line x1="271.6" y1="759" x2="271.6" y2="910.5" stroke="#999999" stroke-width="1.5" stroke-opacity="0.6"/>
<line x1="287.8" y1="772" x2="287.8" y2="810.4" stroke="#999999" stroke-width="1.5" stroke-opacity="0.6"/>
<line x1="291.6" y1="768.5" x2="291.6" y2="823.2" stroke="#999999" stroke-width="1.5" stroke-opacity="0.6"/>
<line x1="314.8" y1="763.4" x2="314.8" y2="797.7" stroke="#999999" stroke-width="1.5" stroke-opacity="0.6"/>
<line x1="362" y1="749.5" x2="362" y2="776.5" stroke="#999999" stroke-width="1.5" stroke-opacity="0.6"/>
<line x1="381.2" y1="742" x2="381.2" y2="762.4" stroke="#999999" stroke-width="1.5" stroke-opacity="0.6"/>
<line x1="402.6" y1="735.4" x2="402.6" y2="760.3" stroke="#999999" stroke-width="1.5" stroke-opacity="0.6"/>
<line x1="467.3" y1="723.6" x2="467.3" y2="745.8" stroke="#999999" stroke-width="1.5" stroke-opacity="0.6"/>
<line x1="485" y1="717.8" x2="485" y2="754.6" stroke="#999999" stroke-width="1.5" stroke-opacity="0.6"/>
<line x1="262.9" y1="778" x2="262.9" y2="814" stroke="#999999" stroke-width="1.5" stroke-opacity="0.6"/>
<line x1="182.3" y1="818" x2="182.3" y2="842" stroke="#999999" stroke-width="1.5" stroke-opacity="0.6"/>
<line x1="162.2" y1="835" x2="162.2" y2="853.7" stroke="#999999" stroke-width="1.5" stroke-opacity="0.6"/>
<line x1="180.2" y1="765" x2="180.2" y2="830" stroke="#0072B2" stroke-width="1.5" stroke-opacity="0.6"/>
<line x1="193" y1="760" x2="193" y2="795" stroke="#0072B2" stroke-width="1.5" stroke-opacity="0.6"/>
<line x1="133.5" y1="785" x2="133.5" y2="830" stroke="#0072B2" stroke-width="1.5" stroke-opacity="0.6"/>
<line x1="87.4" y1="831.7" x2="87.4" y2="853.1" stroke="#0072B2" stroke-width="1.2" stroke-opacity="0.6"/>
<line x1="89.2" y1="825.4" x2="89.2" y2="841" stroke="#0072B2" stroke-width="1.2" stroke-opacity="0.6"/>
<line x1="92.8" y1="824.2" x2="92.8" y2="839.7" stroke="#0072B2" stroke-width="1.2" stroke-opacity="0.6"/>
<line x1="94.6" y1="818.8" x2="94.6" y2="835.1" stroke="#0072B2" stroke-width="1.2" stroke-opacity="0.6"/>
<line x1="96.4" y1="817.6" x2="96.4" y2="837.4" stroke="#0072B2" stroke-width="1.2" stroke-opacity="0.6"/>
<line x1="98.2" y1="809.4" x2="98.2" y2="824.1" stroke="#0072B2" stroke-width="1.2" stroke-opacity="0.6"/>
<line x1="103.5" y1="806.5" x2="103.5" y2="815.6" stroke="#0072B2" stroke-width="1.2" stroke-opacity="0.6"/>
<line x1="105.3" y1="798.8" x2="105.3" y2="814.2" stroke="#0072B2" stroke-width="1.2" stroke-opacity="0.6"/>
<line x1="107.1" y1="796.6" x2="107.1" y2="811.4" stroke="#0072B2" stroke-width="1.2" stroke-opacity="0.6"/>
<line x1="108.9" y1="797.3" x2="108.9" y2="820.9" stroke="#0072B2" stroke-width="1.2" stroke-opacity="0.6"/>
<line x1="110.7" y1="796.6" x2="110.7" y2="811.6" stroke="#0072B2" stroke-width="1.2" stroke-opacity="0.6"/>
<line x1="112.5" y1="791.5" x2="112.5" y2="805" stroke="#0072B2" stroke-width="1.2" stroke-opacity="0.6"/>
<line x1="114.3" y1="794.2" x2="114.3" y2="813.6" stroke="#0072B2" stroke-width="1.2" stroke-opacity="0.6"/>
<line x1="123.2" y1="790.7" x2="123.2" y2="808.6" stroke="#0072B2" stroke-width="1.2" stroke-opacity="0.6"/>
<line x1="125" y1="788.3" x2="125" y2="808.4" stroke="#0072B2" stroke-width="1.2" stroke-opacity="0.6"/>
<line x1="130.4" y1="784.7" x2="130.4" y2="799.8" stroke="#0072B2" stroke-width="1.2" stroke-opacity="0.6"/>
<line x1="132.2" y1="784.7" x2="132.2" y2="808.8" stroke="#0072B2" stroke-width="1.2" stroke-opacity="0.6"/>
<line x1="134" y1="780.5" x2="134" y2="793.7" stroke="#0072B2" stroke-width="1.2" stroke-opacity="0.6"/>
<line x1="137.6" y1="779.1" x2="137.6" y2="796.9" stroke="#0072B2" stroke-width="1.2" stroke-opacity="0.6"/>
<line x1="141.1" y1="777.4" x2="141.1" y2="797" stroke="#0072B2" stroke-width="1.2" stroke-opacity="0.6"/>
<line x1="142.9" y1="779.4" x2="142.9" y2="789.4" stroke="#0072B2" stroke-width="1.2" stroke-opacity="0.6"/>
<line x1="144.7" y1="777.1" x2="144.7" y2="799.8" stroke="#0072B2" stroke-width="1.2" stroke-opacity="0.6"/>
<line x1="146.5" y1="779.6" x2="146.5" y2="791.1" stroke="#0072B2" stroke-width="1.2" stroke-opacity="0.6"/>
<line x1="148.3" y1="772.5" x2="148.3" y2="796.9" stroke="#0072B2" stroke-width="1.2" stroke-opacity="0.6"/>
<line x1="150.1" y1="773.7" x2="150.1" y2="795.3" stroke="#0072B2" stroke-width="1.2" stroke-opacity="0.6"/>
<line x1="155.5" y1="768.7" x2="155.5" y2="797.3" stroke="#0072B2" stroke-width="1.2" stroke-opacity="0.6"/>
<line x1="157.3" y1="770.8" x2="157.3" y2="794" stroke="#0072B2" stroke-width="1.2" stroke-opacity="0.6"/>
<line x1="159.1" y1="767.2" x2="159.1" y2="783.9" stroke="#0072B2" stroke-width="1.2" stroke-opacity="0.6"/>
<line x1="160.8" y1="766.9" x2="160.8" y2="780.4" stroke="#0072B2" stroke-width="1.2" stroke-opacity="0.6"/>
<line x1="164.4" y1="771.1" x2="164.4" y2="790.1" stroke="#0072B2" stroke-width="1.2" stroke-opacity="0.6"/>
<line x1="166.2" y1="768.9" x2="166.2" y2="782.6" stroke="#0072B2" stroke-width="1.2" stroke-opacity="0.6"/>
<line x1="168" y1="768.4" x2="168" y2="778.1" stroke="#0072B2" stroke-width="1.2" stroke-opacity="0.6"/>
<line x1="175.2" y1="761.8" x2="175.2" y2="779.3" stroke="#0072B2" stroke-width="1.2" stroke-opacity="0.6"/>
<line x1="177" y1="768.7" x2="177" y2="785.9" stroke="#0072B2" stroke-width="1.2" stroke-opacity="0.6"/>
<line x1="178.8" y1="760.7" x2="178.8" y2="785.6" stroke="#0072B2" stroke-width="1.2" stroke-opacity="0.6"/>
<line x1="182.3" y1="761.9" x2="182.3" y2="778.9" stroke="#0072B2" stroke-width="1.2" stroke-opacity="0.6"/>
<line x1="185.9" y1="761.3" x2="185.9" y2="777.5" stroke="#0072B2" stroke-width="1.2" stroke-opacity="0.6"/>
<line x1="189.5" y1="753.4" x2="189.5" y2="777.3" stroke="#0072B2" stroke-width="1.2" stroke-opacity="0.6"/>
<line x1="191.3" y1="757.2" x2="191.3" y2="777.3" stroke="#0072B2" stroke-width="1.2" stroke-opacity="0.6"/>
<line x1="194.9" y1="757" x2="194.9" y2="770.1" stroke="#0072B2" stroke-width="1.2" stroke-opacity="0.6"/>
<line x1="200.2" y1="756.7" x2="200.2" y2="764.9" stroke="#0072B2" stroke-width="1.2" stroke-opacity="0.6"/>
<line x1="202" y1="755.8" x2="202" y2="769.7" stroke="#0072B2" stroke-width="1.2" stroke-opacity="0.6"/>
<line x1="205.6" y1="750.3" x2="205.6" y2="762.6" stroke="#0072B2" stroke-width="1.2" stroke-opacity="0.6"/>
<line x1="207.4" y1="752.5" x2="207.4" y2="767.7" stroke="#0072B2" stroke-width="1.2" stroke-opacity="0.6"/>
<line x1="209.2" y1="749.7" x2="209.2" y2="761.4" stroke="#0072B2" stroke-width="1.2" stroke-opacity="0.6"/>
<line x1="212.8" y1="745.2" x2="212.8" y2="757.6" stroke="#0072B2" stroke-width="1.2" stroke-opacity="0.6"/>
<line x1="219.9" y1="745.2" x2="219.9" y2="758.7" stroke="#0072B2" stroke-width="1.2" stroke-opacity="0.6"/>
<line x1="223.5" y1="739.8" x2="223.5" y2="758.5" stroke="#0072B2" stroke-width="1.2" stroke-opacity="0.6"/>
<line x1="225.3" y1="740.1" x2="225.3" y2="751.1" stroke="#0072B2" stroke-width="1.2" stroke-opacity="0.6"/>
<line x1="89.2" y1="775.9" x2="89.2" y2="788.2" stroke="#CC79A7" stroke-width="1.2" stroke-opacity="0.6"/>
<line x1="91" y1="774.3" x2="91" y2="785.8" stroke="#CC79A7" stroke-width="1.2" stroke-opacity="0.6"/>
<line x1="92.8" y1="775.2" x2="92.8" y2="794.2" stroke="#CC79A7" stroke-width="1.2" stroke-opacity="0.6"/>
<line x1="96.4" y1="767.6" x2="96.4" y2="787" stroke="#CC79A7" stroke-width="1.2" stroke-opacity="0.6"/>
<line x1="103.5" y1="765.3" x2="103.5" y2="786.3" stroke="#CC79A7" stroke-width="1.2" stroke-opacity="0.6"/>
<line x1="105.3" y1="762" x2="105.3" y2="775.6" stroke="#CC79A7" stroke-width="1.2" stroke-opacity="0.6"/>
<line x1="119.6" y1="755.9" x2="119.6" y2="776.2" stroke="#CC79A7" stroke-width="1.2" stroke-opacity="0.6"/>
<line x1="126.8" y1="750.9" x2="126.8" y2="771.6" stroke="#CC79A7" stroke-width="1.2" stroke-opacity="0.6"/>
<line x1="128.6" y1="750.1" x2="128.6" y2="759.9" stroke="#CC79A7" stroke-width="1.2" stroke-opacity="0.6"/>
<line x1="130.4" y1="748.8" x2="130.4" y2="769.8" stroke="#CC79A7" stroke-width="1.2" stroke-opacity="0.6"/>
<line x1="134" y1="744.8" x2="134" y2="764.9" stroke="#CC79A7" stroke-width="1.2" stroke-opacity="0.6"/>
<line x1="135.8" y1="746.6" x2="135.8" y2="760.9" stroke="#CC79A7" stroke-width="1.2" stroke-opacity="0.6"/>
<line x1="137.6" y1="745.5" x2="137.6" y2="762.5" stroke="#CC79A7" stroke-width="1.2" stroke-opacity="0.6"/>
<line x1="139.3" y1="745.3" x2="139.3" y2="763.2" stroke="#CC79A7" stroke-width="1.2" stroke-opacity="0.6"/>
<line x1="141.1" y1="745.2" x2="141.1" y2="766.3" stroke="#CC79A7" stroke-width="1.2" stroke-opacity="0.6"/>
<line x1="142.9" y1="739.7" x2="142.9" y2="756.5" stroke="#CC79A7" stroke-width="1.2" stroke-opacity="0.6"/>
<line x1="148.3" y1="736.9" x2="148.3" y2="749.5" stroke="#CC79A7" stroke-width="1.2" stroke-opacity="0.6"/>
<line x1="150.1" y1="738.7" x2="150.1" y2="753.9" stroke="#CC79A7" stroke-width="1.2" stroke-opacity="0.6"/>
<line x1="151.9" y1="739.5" x2="151.9" y2="751.3" stroke="#CC79A7" stroke-width="1.2" stroke-opacity="0.6"/>
<line x1="153.7" y1="733.6" x2="153.7" y2="751.4" stroke="#CC79A7" stroke-width="1.2" stroke-opacity="0.6"/>
<line x1="157.3" y1="734.4" x2="157.3" y2="749.7" stroke="#CC79A7" stroke-width="1.2" stroke-opacity="0.6"/>
<line x1="159.1" y1="727.1" x2="159.1" y2="749.4" stroke="#CC79A7" stroke-width="1.2" stroke-opacity="0.6"/>
<line x1="160.8" y1="728.2" x2="160.8" y2="748.2" stroke="#CC79A7" stroke-width="1.2" stroke-opacity="0.6"/>
<line x1="94.6" y1="837.7" x2="94.6" y2="849.3" stroke="#D55E00" stroke-width="1.2" stroke-opacity="0.6"/>
<line x1="98.2" y1="829.6" x2="98.2" y2="839" stroke="#D55E00" stroke-width="1.2" stroke-opacity="0.6"/>
<line x1="103.5" y1="824.5" x2="103.5" y2="834.6" stroke="#D55E00" stroke-width="1.2" stroke-opacity="0.6"/>
<line x1="112.5" y1="821.4" x2="112.5" y2="835.1" stroke="#D55E00" stroke-width="1.2" stroke-opacity="0.6"/>
<line x1="130.4" y1="813" x2="130.4" y2="825.4" stroke="#D55E00" stroke-width="1.2" stroke-opacity="0.6"/>
<line x1="137.6" y1="812.2" x2="137.6" y2="820.8" stroke="#D55E00" stroke-width="1.2" stroke-opacity="0.6"/>
<line x1="141.1" y1="813.4" x2="141.1" y2="820.5" stroke="#D55E00" stroke-width="1.2" stroke-opacity="0.6"/>
<line x1="142.9" y1="810.3" x2="142.9" y2="820.8" stroke="#D55E00" stroke-width="1.2" stroke-opacity="0.6"/>
<line x1="159.1" y1="803.9" x2="159.1" y2="818.2" stroke="#D55E00" stroke-width="1.2" stroke-opacity="0.6"/>
<line x1="171.6" y1="804.6" x2="171.6" y2="816.7" stroke="#D55E00" stroke-width="1.2" stroke-opacity="0.6"/>
<line x1="175.2" y1="799.9" x2="175.2" y2="814.2" stroke="#D55E00" stroke-width="1.2" stroke-opacity="0.6"/>
<line x1="193.1" y1="795.7" x2="193.1" y2="804.5" stroke="#D55E00" stroke-width="1.2" stroke-opacity="0.6"/>
<line x1="194.9" y1="792.1" x2="194.9" y2="808.4" stroke="#D55E00" stroke-width="1.2" stroke-opacity="0.6"/>
<line x1="198.5" y1="796" x2="198.5" y2="806" stroke="#D55E00" stroke-width="1.2" stroke-opacity="0.6"/>
<line x1="239.6" y1="779.5" x2="239.6" y2="791" stroke="#D55E00" stroke-width="1.2" stroke-opacity="0.6"/>
<line x1="248.6" y1="775.8" x2="248.6" y2="787.9" stroke="#D55E00" stroke-width="1.2" stroke-opacity="0.6"/>
<line x1="164.4" y1="834.4" x2="164.4" y2="848.4" stroke="#999999" stroke-width="1.2" stroke-opacity="0.6"/>
<line x1="168" y1="831.9" x2="168" y2="844" stroke="#999999" stroke-width="1.2" stroke-opacity="0.6"/>
<line x1="180.5" y1="811.6" x2="180.5" y2="826" stroke="#999999" stroke-width="1.2" stroke-opacity="0.6"/>
<line x1="189.5" y1="804.2" x2="189.5" y2="819.7" stroke="#999999" stroke-width="1.2" stroke-opacity="0.6"/>
<line x1="191.3" y1="807" x2="191.3" y2="816.8" stroke="#999999" stroke-width="1.2" stroke-opacity="0.6"/>
<line x1="203.8" y1="802.3" x2="203.8" y2="812.3" stroke="#999999" stroke-width="1.2" stroke-opacity="0.6"/>
<line x1="218.2" y1="798.6" x2="218.2" y2="808.9" stroke="#999999" stroke-width="1.2" stroke-opacity="0.6"/>
<line x1="219.9" y1="794" x2="219.9" y2="806.7" stroke="#999999" stroke-width="1.2" stroke-opacity="0.6"/>
<line x1="223.5" y1="790.3" x2="223.5" y2="804.9" stroke="#999999" stroke-width="1.2" stroke-opacity="0.6"/>
<line x1="248.6" y1="782.2" x2="248.6" y2="794.4" stroke="#999999" stroke-width="1.2" stroke-opacity="0.6"/>
<line x1="255.8" y1="780.8" x2="255.8" y2="791.5" stroke="#999999" stroke-width="1.2" stroke-opacity="0.6"/>
<line x1="261.1" y1="776" x2="261.1" y2="792.4" stroke="#999999" stroke-width="1.2" stroke-opacity="0.6"/>
<line x1="284.4" y1="775.3" x2="284.4" y2="785.8" stroke="#999999" stroke-width="1.2" stroke-opacity="0.6"/>
<line x1="304.1" y1="771" x2="304.1" y2="780.6" stroke="#999999" stroke-width="1.2" stroke-opacity="0.6"/>
<line x1="316.7" y1="764.5" x2="316.7" y2="774.9" stroke="#999999" stroke-width="1.2" stroke-opacity="0.6"/>
<line x1="318.4" y1="765.4" x2="318.4" y2="780.7" stroke="#999999" stroke-width="1.2" stroke-opacity="0.6"/>
<line x1="322" y1="761.9" x2="322" y2="778.2" stroke="#999999" stroke-width="1.2" stroke-opacity="0.6"/>
<line x1="323.8" y1="765.6" x2="323.8" y2="773.6" stroke="#999999" stroke-width="1.2" stroke-opacity="0.6"/>
<line x1="327.4" y1="762.8" x2="327.4" y2="776.9" stroke="#999999" stroke-width="1.2" stroke-opacity="0.6"/>
<line x1="347.1" y1="757.7" x2="347.1" y2="765.5" stroke="#999999" stroke-width="1.2" stroke-opacity="0.6"/>
<line x1="370.4" y1="744.1" x2="370.4" y2="756.5" stroke="#999999" stroke-width="1.2" stroke-opacity="0.6"/>
<line x1="381.1" y1="745" x2="381.1" y2="752.2" stroke="#999999" stroke-width="1.2" stroke-opacity="0.6"/>
<line x1="424.1" y1="731.4" x2="424.1" y2="745.1" stroke="#999999" stroke-width="1.2" stroke-opacity="0.6"/>
<line x1="433.1" y1="728.8" x2="433.1" y2="743.2" stroke="#999999" stroke-width="1.2" stroke-opacity="0.6"/>
<line x1="445.6" y1="728.1" x2="445.6" y2="742.5" stroke="#999999" stroke-width="1.2" stroke-opacity="0.6"/>
<line x1="449.2" y1="726.9" x2="449.2" y2="737.8" stroke="#999999" stroke-width="1.2" stroke-opacity="0.6"/>
<line x1="458.1" y1="727.8" x2="458.1" y2="739.6" stroke="#999999" stroke-width="1.2" stroke-opacity="0.6"/>
<line x1="461.7" y1="727.3" x2="461.7" y2="739.9" stroke="#999999" stroke-width="1.2" stroke-opacity="0.6"/>
<line x1="467.1" y1="728.6" x2="467.1" y2="738" stroke="#999999" stroke-width="1.2" stroke-opacity="0.6"/>
<line x1="483.2" y1="724.7" x2="483.2" y2="735.7" stroke="#999999" stroke-width="1.2" stroke-opacity="0.6"/>
<line x1="486.8" y1="719.7" x2="486.8" y2="733.7" stroke="#999999" stroke-width="1.2" stroke-opacity="0.6"/>
<line x1="492.2" y1="716.6" x2="492.2" y2="730.4" stroke="#999999" stroke-width="1.2" stroke-opacity="0.6"/>
<line x1="499.3" y1="716.6" x2="499.3" y2="727.9" stroke="#999999" stroke-width="1.2" stroke-opacity="0.6"/>
<circle cx="71.3" cy="806" r="6.1" fill="#E69F00" fill-opacity="0.9"/>
<circle cx="73.1" cy="797" r="6.1" fill="#E69F00" fill-opacity="0.9"/>
<circle cx="74.9" cy="789" r="6.1" fill="#E69F00" fill-opacity="0.9"/>
<circle cx="76.7" cy="786" r="6.1" fill="#E69F00" fill-opacity="0.9"/>
<circle cx="78.5" cy="783" r="6.1" fill="#E69F00" fill-opacity="0.9"/>
<circle cx="80.2" cy="779" r="6.1" fill="#E69F00" fill-opacity="0.9"/>
<circle cx="82" cy="775.8" r="6.1" fill="#E69F00" fill-opacity="0.9"/>
<circle cx="83.8" cy="770.5" r="6.1" fill="#E69F00" fill-opacity="0.9"/>
<circle cx="85.6" cy="764.5" r="6.1" fill="#E69F00" fill-opacity="0.9"/>
<circle cx="71.3" cy="800.4" r="6.1" fill="#56B4E9" fill-opacity="0.9"/>
<circle cx="75" cy="765.9" r="6.1" fill="#56B4E9" fill-opacity="0.9"/>
<circle cx="76.6" cy="759.7" r="6.1" fill="#56B4E9" fill-opacity="0.9"/>
<circle cx="79.2" cy="742.1" r="6.1" fill="#56B4E9" fill-opacity="0.9"/>
<circle cx="80.2" cy="727.1" r="6.1" fill="#56B4E9" fill-opacity="0.9"/>
<circle cx="82" cy="721.4" r="6.1" fill="#56B4E9" fill-opacity="0.9"/>
<circle cx="83.6" cy="703.3" r="6.1" fill="#56B4E9" fill-opacity="0.9"/>
<circle cx="85.4" cy="697.1" r="6.1" fill="#56B4E9" fill-opacity="0.9"/>
<circle cx="87.1" cy="690.4" r="6.1" fill="#56B4E9" fill-opacity="0.9"/>
<circle cx="71.3" cy="821.4" r="6.1" fill="#009E73" fill-opacity="0.9"/>
<circle cx="73.1" cy="775.8" r="6.1" fill="#009E73" fill-opacity="0.9"/>
<circle cx="72.4" cy="748" r="6.1" fill="#F0E442" fill-opacity="0.9"/>
<circle cx="73.1" cy="869" r="6.1" fill="#0072B2" fill-opacity="0.9"/>
<circle cx="74.9" cy="869.3" r="6.1" fill="#0072B2" fill-opacity="0.9"/>
<circle cx="76.7" cy="863.2" r="6.1" fill="#0072B2" fill-opacity="0.9"/>
<circle cx="78.5" cy="856.4" r="6.1" fill="#0072B2" fill-opacity="0.9"/>
<circle cx="80.2" cy="850.1" r="6.1" fill="#0072B2" fill-opacity="0.9"/>
<circle cx="82" cy="847.9" r="6.1" fill="#0072B2" fill-opacity="0.9"/>
<circle cx="83.8" cy="845.4" r="6.1" fill="#0072B2" fill-opacity="0.9"/>
<circle cx="85.6" cy="843.1" r="6.1" fill="#0072B2" fill-opacity="0.9"/>
<circle cx="87.4" cy="839.8" r="6.1" fill="#0072B2" fill-opacity="0.9"/>
<circle cx="89.2" cy="834.8" r="6.1" fill="#0072B2" fill-opacity="0.9"/>
<circle cx="91" cy="830.8" r="6.1" fill="#0072B2" fill-opacity="0.9"/>
<circle cx="92.8" cy="829.1" r="6.1" fill="#0072B2" fill-opacity="0.9"/>
<circle cx="94.6" cy="826.5" r="6.1" fill="#0072B2" fill-opacity="0.9"/>
<circle cx="96.4" cy="822.5" r="6.1" fill="#0072B2" fill-opacity="0.9"/>
<circle cx="98.2" cy="820.4" r="6.1" fill="#0072B2" fill-opacity="0.9"/>
<circle cx="99.9" cy="817.1" r="6.1" fill="#0072B2" fill-opacity="0.9"/>
<circle cx="101.7" cy="814.3" r="6.1" fill="#0072B2" fill-opacity="0.9"/>
<circle cx="103.5" cy="812.1" r="6.1" fill="#0072B2" fill-opacity="0.9"/>
<circle cx="105.3" cy="809.5" r="6.1" fill="#0072B2" fill-opacity="0.9"/>
<circle cx="107.1" cy="806.1" r="6.1" fill="#0072B2" fill-opacity="0.9"/>
<circle cx="108.9" cy="803.9" r="6.1" fill="#0072B2" fill-opacity="0.9"/>
<circle cx="110.7" cy="803.5" r="6.1" fill="#0072B2" fill-opacity="0.9"/>
<circle cx="112.5" cy="801.4" r="6.1" fill="#0072B2" fill-opacity="0.9"/>
<circle cx="114.3" cy="798.9" r="6.1" fill="#0072B2" fill-opacity="0.9"/>
<circle cx="116.1" cy="797.5" r="6.1" fill="#0072B2" fill-opacity="0.9"/>
<circle cx="117.9" cy="797.3" r="6.1" fill="#0072B2" fill-opacity="0.9"/>
<circle cx="119.6" cy="794.6" r="6.1" fill="#0072B2" fill-opacity="0.9"/>
<circle cx="121.4" cy="794.9" r="6.1" fill="#0072B2" fill-opacity="0.9"/>
<circle cx="123.2" cy="794.6" r="6.1" fill="#0072B2" fill-opacity="0.9"/>
<circle cx="125" cy="793" r="6.1" fill="#0072B2" fill-opacity="0.9"/>
<circle cx="126.8" cy="791.7" r="6.1" fill="#0072B2" fill-opacity="0.9"/>
<circle cx="128.6" cy="791.7" r="6.1" fill="#0072B2" fill-opacity="0.9"/>
<circle cx="130.4" cy="791.3" r="6.1" fill="#0072B2" fill-opacity="0.9"/>
<circle cx="132.2" cy="790.8" r="6.1" fill="#0072B2" fill-opacity="0.9"/>
<circle cx="134" cy="789.3" r="6.1" fill="#0072B2" fill-opacity="0.9"/>
<circle cx="135.8" cy="787.1" r="6.1" fill="#0072B2" fill-opacity="0.9"/>
<circle cx="137.6" cy="786.5" r="6.1" fill="#0072B2" fill-opacity="0.9"/>
<circle cx="139.3" cy="786.3" r="6.1" fill="#0072B2" fill-opacity="0.9"/>
<circle cx="141.1" cy="784.9" r="6.1" fill="#0072B2" fill-opacity="0.9"/>
<circle cx="142.9" cy="783.7" r="6.1" fill="#0072B2" fill-opacity="0.9"/>
<circle cx="144.7" cy="782.9" r="6.1" fill="#0072B2" fill-opacity="0.9"/>
<circle cx="146.5" cy="783.5" r="6.1" fill="#0072B2" fill-opacity="0.9"/>
<circle cx="148.3" cy="781.7" r="6.1" fill="#0072B2" fill-opacity="0.9"/>
<circle cx="150.1" cy="782.1" r="6.1" fill="#0072B2" fill-opacity="0.9"/>
<circle cx="151.9" cy="781.5" r="6.1" fill="#0072B2" fill-opacity="0.9"/>
<circle cx="153.7" cy="779.4" r="6.1" fill="#0072B2" fill-opacity="0.9"/>
<circle cx="155.5" cy="779.4" r="6.1" fill="#0072B2" fill-opacity="0.9"/>
<circle cx="157.3" cy="777.7" r="6.1" fill="#0072B2" fill-opacity="0.9"/>
<circle cx="159.1" cy="777.2" r="6.1" fill="#0072B2" fill-opacity="0.9"/>
<circle cx="160.8" cy="776.4" r="6.1" fill="#0072B2" fill-opacity="0.9"/>
<circle cx="162.6" cy="776.3" r="6.1" fill="#0072B2" fill-opacity="0.9"/>
<circle cx="164.4" cy="774.5" r="6.1" fill="#0072B2" fill-opacity="0.9"/>
<circle cx="166.2" cy="775.2" r="6.1" fill="#0072B2" fill-opacity="0.9"/>
<circle cx="168" cy="774.1" r="6.1" fill="#0072B2" fill-opacity="0.9"/>
<circle cx="169.8" cy="772" r="6.1" fill="#0072B2" fill-opacity="0.9"/>
<circle cx="171.6" cy="771.8" r="6.1" fill="#0072B2" fill-opacity="0.9"/>
<circle cx="173.4" cy="771.4" r="6.1" fill="#0072B2" fill-opacity="0.9"/>
<circle cx="175.2" cy="772.5" r="6.1" fill="#0072B2" fill-opacity="0.9"/>
<circle cx="177" cy="772" r="6.1" fill="#0072B2" fill-opacity="0.9"/>
<circle cx="178.8" cy="770" r="6.1" fill="#0072B2" fill-opacity="0.9"/>
<circle cx="180.5" cy="770.2" r="6.1" fill="#0072B2" fill-opacity="0.9"/>
<circle cx="182.3" cy="769.5" r="6.1" fill="#0072B2" fill-opacity="0.9"/>
<circle cx="184.1" cy="768" r="6.1" fill="#0072B2" fill-opacity="0.9"/>
<circle cx="185.9" cy="766.5" r="6.1" fill="#0072B2" fill-opacity="0.9"/>
<circle cx="187.7" cy="766.8" r="6.1" fill="#0072B2" fill-opacity="0.9"/>
<circle cx="189.5" cy="764" r="6.1" fill="#0072B2" fill-opacity="0.9"/>
<circle cx="191.3" cy="765.3" r="6.1" fill="#0072B2" fill-opacity="0.9"/>
<circle cx="193.1" cy="764.2" r="6.1" fill="#0072B2" fill-opacity="0.9"/>
<circle cx="194.9" cy="763.2" r="6.1" fill="#0072B2" fill-opacity="0.9"/>
<circle cx="196.7" cy="761.7" r="6.1" fill="#0072B2" fill-opacity="0.9"/>
<circle cx="198.5" cy="760.6" r="6.1" fill="#0072B2" fill-opacity="0.9"/>
<circle cx="200.2" cy="760.5" r="6.1" fill="#0072B2" fill-opacity="0.9"/>
<circle cx="202" cy="760" r="6.1" fill="#0072B2" fill-opacity="0.9"/>
<circle cx="203.8" cy="759.3" r="6.1" fill="#0072B2" fill-opacity="0.9"/>
<circle cx="205.6" cy="757.7" r="6.1" fill="#0072B2" fill-opacity="0.9"/>
<circle cx="207.4" cy="757.3" r="6.1" fill="#0072B2" fill-opacity="0.9"/>
<circle cx="209.2" cy="755.7" r="6.1" fill="#0072B2" fill-opacity="0.9"/>
<circle cx="211" cy="754.1" r="6.1" fill="#0072B2" fill-opacity="0.9"/>
<circle cx="212.8" cy="753.9" r="6.1" fill="#0072B2" fill-opacity="0.9"/>
<circle cx="214.6" cy="752.6" r="6.1" fill="#0072B2" fill-opacity="0.9"/>
<circle cx="216.4" cy="751.6" r="6.1" fill="#0072B2" fill-opacity="0.9"/>
<circle cx="218.2" cy="749.8" r="6.1" fill="#0072B2" fill-opacity="0.9"/>
<circle cx="219.9" cy="748.7" r="6.1" fill="#0072B2" fill-opacity="0.9"/>
<circle cx="221.7" cy="747.7" r="6.1" fill="#0072B2" fill-opacity="0.9"/>
<circle cx="223.5" cy="744.9" r="6.1" fill="#0072B2" fill-opacity="0.9"/>
<circle cx="225.3" cy="743.4" r="6.1" fill="#0072B2" fill-opacity="0.9"/>
<circle cx="74.9" cy="861" r="6.1" fill="#D55E00" fill-opacity="0.9"/>
<circle cx="76.7" cy="861.1" r="6.1" fill="#D55E00" fill-opacity="0.9"/>
<circle cx="78.5" cy="860.9" r="6.1" fill="#D55E00" fill-opacity="0.9"/>
<circle cx="80.2" cy="860.8" r="6.1" fill="#D55E00" fill-opacity="0.9"/>
<circle cx="82" cy="859.7" r="6.1" fill="#D55E00" fill-opacity="0.9"/>
<circle cx="83.8" cy="859.8" r="6.1" fill="#D55E00" fill-opacity="0.9"/>
<circle cx="85.6" cy="860.9" r="6.1" fill="#D55E00" fill-opacity="0.9"/>
<circle cx="87.4" cy="858.4" r="6.1" fill="#D55E00" fill-opacity="0.9"/>
<circle cx="89.2" cy="855.2" r="6.1" fill="#D55E00" fill-opacity="0.9"/>
<circle cx="91" cy="852.7" r="6.1" fill="#D55E00" fill-opacity="0.9"/>
<circle cx="92.8" cy="849.6" r="6.1" fill="#D55E00" fill-opacity="0.9"/>
<circle cx="94.6" cy="842.8" r="6.1" fill="#D55E00" fill-opacity="0.9"/>
<circle cx="96.4" cy="838.5" r="6.1" fill="#D55E00" fill-opacity="0.9"/>
<circle cx="98.2" cy="834.8" r="6.1" fill="#D55E00" fill-opacity="0.9"/>
<circle cx="99.9" cy="832.4" r="6.1" fill="#D55E00" fill-opacity="0.9"/>
<circle cx="101.7" cy="831.7" r="6.1" fill="#D55E00" fill-opacity="0.9"/>
<circle cx="103.5" cy="831.1" r="6.1" fill="#D55E00" fill-opacity="0.9"/>
<circle cx="105.3" cy="831" r="6.1" fill="#D55E00" fill-opacity="0.9"/>
<circle cx="107.1" cy="830.9" r="6.1" fill="#D55E00" fill-opacity="0.9"/>
<circle cx="108.9" cy="829.7" r="6.1" fill="#D55E00" fill-opacity="0.9"/>
<circle cx="110.7" cy="829.5" r="6.1" fill="#D55E00" fill-opacity="0.9"/>
<circle cx="112.5" cy="827.4" r="6.1" fill="#D55E00" fill-opacity="0.9"/>
<circle cx="114.3" cy="826.5" r="6.1" fill="#D55E00" fill-opacity="0.9"/>
<circle cx="116.1" cy="826.1" r="6.1" fill="#D55E00" fill-opacity="0.9"/>
<circle cx="117.9" cy="825.5" r="6.1" fill="#D55E00" fill-opacity="0.9"/>
<circle cx="119.6" cy="824.6" r="6.1" fill="#D55E00" fill-opacity="0.9"/>
<circle cx="121.4" cy="823.3" r="6.1" fill="#D55E00" fill-opacity="0.9"/>
<circle cx="123.2" cy="821.5" r="6.1" fill="#D55E00" fill-opacity="0.9"/>
<circle cx="125" cy="821.8" r="6.1" fill="#D55E00" fill-opacity="0.9"/>
<circle cx="126.8" cy="820" r="6.1" fill="#D55E00" fill-opacity="0.9"/>
<circle cx="128.6" cy="819.6" r="6.1" fill="#D55E00" fill-opacity="0.9"/>
<circle cx="130.4" cy="819.5" r="6.1" fill="#D55E00" fill-opacity="0.9"/>
<circle cx="132.2" cy="819.3" r="6.1" fill="#D55E00" fill-opacity="0.9"/>
<circle cx="134" cy="817.8" r="6.1" fill="#D55E00" fill-opacity="0.9"/>
<circle cx="135.8" cy="817.7" r="6.1" fill="#D55E00" fill-opacity="0.9"/>
<circle cx="137.6" cy="816.8" r="6.1" fill="#D55E00" fill-opacity="0.9"/>
<circle cx="139.3" cy="815.7" r="6.1" fill="#D55E00" fill-opacity="0.9"/>
<circle cx="141.1" cy="816.8" r="6.1" fill="#D55E00" fill-opacity="0.9"/>
<circle cx="142.9" cy="816.2" r="6.1" fill="#D55E00" fill-opacity="0.9"/>
<circle cx="144.7" cy="815.5" r="6.1" fill="#D55E00" fill-opacity="0.9"/>
<circle cx="146.5" cy="813.6" r="6.1" fill="#D55E00" fill-opacity="0.9"/>
<circle cx="148.3" cy="814.5" r="6.1" fill="#D55E00" fill-opacity="0.9"/>
<circle cx="150.1" cy="814.2" r="6.1" fill="#D55E00" fill-opacity="0.9"/>
<circle cx="151.9" cy="811.8" r="6.1" fill="#D55E00" fill-opacity="0.9"/>
<circle cx="153.7" cy="811.6" r="6.1" fill="#D55E00" fill-opacity="0.9"/>
<circle cx="155.5" cy="811.1" r="6.1" fill="#D55E00" fill-opacity="0.9"/>
<circle cx="157.3" cy="810.3" r="6.1" fill="#D55E00" fill-opacity="0.9"/>
<circle cx="159.1" cy="810.4" r="6.1" fill="#D55E00" fill-opacity="0.9"/>
<circle cx="160.8" cy="810.3" r="6.1" fill="#D55E00" fill-opacity="0.9"/>
<circle cx="162.6" cy="809.6" r="6.1" fill="#D55E00" fill-opacity="0.9"/>
<circle cx="164.4" cy="809.8" r="6.1" fill="#D55E00" fill-opacity="0.9"/>
<circle cx="166.2" cy="808.8" r="6.1" fill="#D55E00" fill-opacity="0.9"/>
<circle cx="168" cy="808.6" r="6.1" fill="#D55E00" fill-opacity="0.9"/>
<circle cx="169.8" cy="807.6" r="6.1" fill="#D55E00" fill-opacity="0.9"/>
<circle cx="171.6" cy="807.8" r="6.1" fill="#D55E00" fill-opacity="0.9"/>
<circle cx="173.4" cy="806.1" r="6.1" fill="#D55E00" fill-opacity="0.9"/>
<circle cx="175.2" cy="806.3" r="6.1" fill="#D55E00" fill-opacity="0.9"/>
<circle cx="177" cy="805.2" r="6.1" fill="#D55E00" fill-opacity="0.9"/>
<circle cx="178.8" cy="804.8" r="6.1" fill="#D55E00" fill-opacity="0.9"/>
<circle cx="180.5" cy="804.1" r="6.1" fill="#D55E00" fill-opacity="0.9"/>
<circle cx="182.3" cy="802.8" r="6.1" fill="#D55E00" fill-opacity="0.9"/>
<circle cx="184.1" cy="803.1" r="6.1" fill="#D55E00" fill-opacity="0.9"/>
<circle cx="185.9" cy="801.8" r="6.1" fill="#D55E00" fill-opacity="0.9"/>
<circle cx="187.7" cy="801.8" r="6.1" fill="#D55E00" fill-opacity="0.9"/>
<circle cx="189.5" cy="801.2" r="6.1" fill="#D55E00" fill-opacity="0.9"/>
<circle cx="191.3" cy="800.5" r="6.1" fill="#D55E00" fill-opacity="0.9"/>
<circle cx="193.1" cy="801" r="6.1" fill="#D55E00" fill-opacity="0.9"/>
<circle cx="194.9" cy="799.8" r="6.1" fill="#D55E00" fill-opacity="0.9"/>
<circle cx="196.7" cy="799.7" r="6.1" fill="#D55E00" fill-opacity="0.9"/>
<circle cx="198.5" cy="799.8" r="6.1" fill="#D55E00" fill-opacity="0.9"/>
<circle cx="200.2" cy="798.3" r="6.1" fill="#D55E00" fill-opacity="0.9"/>
<circle cx="202" cy="798.7" r="6.1" fill="#D55E00" fill-opacity="0.9"/>
<circle cx="203.8" cy="797.3" r="6.1" fill="#D55E00" fill-opacity="0.9"/>
<circle cx="205.6" cy="795.8" r="6.1" fill="#D55E00" fill-opacity="0.9"/>
<circle cx="207.4" cy="795.6" r="6.1" fill="#D55E00" fill-opacity="0.9"/>
<circle cx="209.2" cy="795.1" r="6.1" fill="#D55E00" fill-opacity="0.9"/>
<circle cx="211" cy="795.3" r="6.1" fill="#D55E00" fill-opacity="0.9"/>
<circle cx="212.8" cy="793.6" r="6.1" fill="#D55E00" fill-opacity="0.9"/>
<circle cx="214.6" cy="794.1" r="6.1" fill="#D55E00" fill-opacity="0.9"/>
<circle cx="216.4" cy="792.7" r="6.1" fill="#D55E00" fill-opacity="0.9"/>
<circle cx="218.2" cy="792.8" r="6.1" fill="#D55E00" fill-opacity="0.9"/>
<circle cx="219.9" cy="792.8" r="6.1" fill="#D55E00" fill-opacity="0.9"/>
<circle cx="221.7" cy="791.7" r="6.1" fill="#D55E00" fill-opacity="0.9"/>
<circle cx="223.5" cy="791.1" r="6.1" fill="#D55E00" fill-opacity="0.9"/>
<circle cx="225.3" cy="790.3" r="6.1" fill="#D55E00" fill-opacity="0.9"/>
<circle cx="227.1" cy="789.7" r="6.1" fill="#D55E00" fill-opacity="0.9"/>
<circle cx="228.9" cy="788.9" r="6.1" fill="#D55E00" fill-opacity="0.9"/>
<circle cx="230.7" cy="788.9" r="6.1" fill="#D55E00" fill-opacity="0.9"/>
<circle cx="232.5" cy="787.6" r="6.1" fill="#D55E00" fill-opacity="0.9"/>
<circle cx="234.3" cy="786.9" r="6.1" fill="#D55E00" fill-opacity="0.9"/>
<circle cx="236.1" cy="787.2" r="6.1" fill="#D55E00" fill-opacity="0.9"/>
<circle cx="237.9" cy="786.4" r="6.1" fill="#D55E00" fill-opacity="0.9"/>
<circle cx="239.6" cy="784.2" r="6.1" fill="#D55E00" fill-opacity="0.9"/>
<circle cx="241.4" cy="784.2" r="6.1" fill="#D55E00" fill-opacity="0.9"/>
<circle cx="243.2" cy="783.6" r="6.1" fill="#D55E00" fill-opacity="0.9"/>
<circle cx="245" cy="782.9" r="6.1" fill="#D55E00" fill-opacity="0.9"/>
<circle cx="246.8" cy="781.9" r="6.1" fill="#D55E00" fill-opacity="0.9"/>
<circle cx="248.6" cy="781.5" r="6.1" fill="#D55E00" fill-opacity="0.9"/>
<circle cx="250.4" cy="779.9" r="6.1" fill="#D55E00" fill-opacity="0.9"/>
<circle cx="252.2" cy="778.5" r="6.1" fill="#D55E00" fill-opacity="0.9"/>
<circle cx="254" cy="776.2" r="6.1" fill="#D55E00" fill-opacity="0.9"/>
<circle cx="255.8" cy="751.9" r="6.1" fill="#D55E00" fill-opacity="0.9"/>
<circle cx="71.3" cy="866" r="6.1" fill="#CC79A7" fill-opacity="0.9"/>
<circle cx="73.4" cy="845.6" r="6.1" fill="#CC79A7" fill-opacity="0.9"/>
<circle cx="76.3" cy="824" r="6.1" fill="#CC79A7" fill-opacity="0.9"/>
<circle cx="78.2" cy="808.4" r="6.1" fill="#CC79A7" fill-opacity="0.9"/>
<circle cx="80.2" cy="800.8" r="6.1" fill="#CC79A7" fill-opacity="0.9"/>
<circle cx="82" cy="792" r="6.1" fill="#CC79A7" fill-opacity="0.9"/>
<circle cx="83.8" cy="789.2" r="6.1" fill="#CC79A7" fill-opacity="0.9"/>
<circle cx="85.6" cy="789" r="6.1" fill="#CC79A7" fill-opacity="0.9"/>
<circle cx="87.4" cy="785.4" r="6.1" fill="#CC79A7" fill-opacity="0.9"/>
<circle cx="89.2" cy="784.9" r="6.1" fill="#CC79A7" fill-opacity="0.9"/>
<circle cx="91" cy="781.2" r="6.1" fill="#CC79A7" fill-opacity="0.9"/>
<circle cx="92.8" cy="779.6" r="6.1" fill="#CC79A7" fill-opacity="0.9"/>
<circle cx="94.6" cy="777.7" r="6.1" fill="#CC79A7" fill-opacity="0.9"/>
<circle cx="96.4" cy="776.2" r="6.1" fill="#CC79A7" fill-opacity="0.9"/>
<circle cx="98.2" cy="774.6" r="6.1" fill="#CC79A7" fill-opacity="0.9"/>
<circle cx="99.9" cy="773" r="6.1" fill="#CC79A7" fill-opacity="0.9"/>
<circle cx="101.7" cy="772.8" r="6.1" fill="#CC79A7" fill-opacity="0.9"/>
<circle cx="103.5" cy="771.8" r="6.1" fill="#CC79A7" fill-opacity="0.9"/>
<circle cx="105.3" cy="770.1" r="6.1" fill="#CC79A7" fill-opacity="0.9"/>
<circle cx="107.1" cy="768.7" r="6.1" fill="#CC79A7" fill-opacity="0.9"/>
<circle cx="108.9" cy="767.2" r="6.1" fill="#CC79A7" fill-opacity="0.9"/>
<circle cx="110.7" cy="764.7" r="6.1" fill="#CC79A7" fill-opacity="0.9"/>
<circle cx="112.5" cy="764.2" r="6.1" fill="#CC79A7" fill-opacity="0.9"/>
<circle cx="114.3" cy="762.5" r="6.1" fill="#CC79A7" fill-opacity="0.9"/>
<circle cx="116.1" cy="761.8" r="6.1" fill="#CC79A7" fill-opacity="0.9"/>
<circle cx="117.9" cy="761" r="6.1" fill="#CC79A7" fill-opacity="0.9"/>
<circle cx="119.6" cy="760.8" r="6.1" fill="#CC79A7" fill-opacity="0.9"/>
<circle cx="121.4" cy="761" r="6.1" fill="#CC79A7" fill-opacity="0.9"/>
<circle cx="123.2" cy="758.9" r="6.1" fill="#CC79A7" fill-opacity="0.9"/>
<circle cx="125" cy="758.8" r="6.1" fill="#CC79A7" fill-opacity="0.9"/>
<circle cx="126.8" cy="757.9" r="6.1" fill="#CC79A7" fill-opacity="0.9"/>
<circle cx="128.6" cy="756.2" r="6.1" fill="#CC79A7" fill-opacity="0.9"/>
<circle cx="130.4" cy="754.8" r="6.1" fill="#CC79A7" fill-opacity="0.9"/>
<circle cx="132.2" cy="754.3" r="6.1" fill="#CC79A7" fill-opacity="0.9"/>
<circle cx="134" cy="753.3" r="6.1" fill="#CC79A7" fill-opacity="0.9"/>
<circle cx="135.8" cy="753.1" r="6.1" fill="#CC79A7" fill-opacity="0.9"/>
<circle cx="137.6" cy="751.7" r="6.1" fill="#CC79A7" fill-opacity="0.9"/>
<circle cx="139.3" cy="751.5" r="6.1" fill="#CC79A7" fill-opacity="0.9"/>
<circle cx="141.1" cy="750.4" r="6.1" fill="#CC79A7" fill-opacity="0.9"/>
<circle cx="142.9" cy="748.2" r="6.1" fill="#CC79A7" fill-opacity="0.9"/>
<circle cx="144.7" cy="748.9" r="6.1" fill="#CC79A7" fill-opacity="0.9"/>
<circle cx="146.5" cy="746.8" r="6.1" fill="#CC79A7" fill-opacity="0.9"/>
<circle cx="148.3" cy="745.3" r="6.1" fill="#CC79A7" fill-opacity="0.9"/>
<circle cx="150.1" cy="743.8" r="6.1" fill="#CC79A7" fill-opacity="0.9"/>
<circle cx="151.9" cy="743.6" r="6.1" fill="#CC79A7" fill-opacity="0.9"/>
<circle cx="153.7" cy="741.4" r="6.1" fill="#CC79A7" fill-opacity="0.9"/>
<circle cx="155.5" cy="740.9" r="6.1" fill="#CC79A7" fill-opacity="0.9"/>
<circle cx="157.3" cy="737.7" r="6.1" fill="#CC79A7" fill-opacity="0.9"/>
<circle cx="159.1" cy="735.6" r="6.1" fill="#CC79A7" fill-opacity="0.9"/>
<circle cx="160.8" cy="734.2" r="6.1" fill="#CC79A7" fill-opacity="0.9"/>
<circle cx="162.6" cy="731.3" r="6.1" fill="#CC79A7" fill-opacity="0.9"/>
<circle cx="164.4" cy="730.9" r="6.1" fill="#CC79A7" fill-opacity="0.9"/>
<circle cx="166.2" cy="728.7" r="6.1" fill="#CC79A7" fill-opacity="0.9"/>
<circle cx="168" cy="724.7" r="6.1" fill="#CC79A7" fill-opacity="0.9"/>
<circle cx="169.8" cy="722.4" r="6.1" fill="#CC79A7" fill-opacity="0.9"/>
<circle cx="171.6" cy="721.1" r="6.1" fill="#CC79A7" fill-opacity="0.9"/>
<circle cx="173.4" cy="718.2" r="6.1" fill="#CC79A7" fill-opacity="0.9"/>
<circle cx="71.3" cy="922.5" r="6.1" fill="#999999" fill-opacity="0.9"/>
<circle cx="73.1" cy="922.5" r="6.1" fill="#999999" fill-opacity="0.9"/>
<circle cx="74.9" cy="922.5" r="6.1" fill="#999999" fill-opacity="0.9"/>
<circle cx="76.7" cy="922.5" r="6.1" fill="#999999" fill-opacity="0.9"/>
<circle cx="78.5" cy="922.5" r="6.1" fill="#999999" fill-opacity="0.9"/>
<circle cx="80.2" cy="922.5" r="6.1" fill="#999999" fill-opacity="0.9"/>
<circle cx="82" cy="922.5" r="6.1" fill="#999999" fill-opacity="0.9"/>
<circle cx="83.8" cy="922.5" r="6.1" fill="#999999" fill-opacity="0.9"/>
<circle cx="85.6" cy="922.5" r="6.1" fill="#999999" fill-opacity="0.9"/>
<circle cx="87.4" cy="922.5" r="6.1" fill="#999999" fill-opacity="0.9"/>
<circle cx="89.2" cy="922.5" r="6.1" fill="#999999" fill-opacity="0.9"/>
<circle cx="91" cy="922.5" r="6.1" fill="#999999" fill-opacity="0.9"/>
<circle cx="92.8" cy="922.5" r="6.1" fill="#999999" fill-opacity="0.9"/>
<circle cx="94.6" cy="922.5" r="6.1" fill="#999999" fill-opacity="0.9"/>
<circle cx="96.4" cy="922.5" r="6.1" fill="#999999" fill-opacity="0.9"/>
<circle cx="98.2" cy="922.5" r="6.1" fill="#999999" fill-opacity="0.9"/>
<circle cx="99.9" cy="922.5" r="6.1" fill="#999999" fill-opacity="0.9"/>
<circle cx="101.7" cy="922.5" r="6.1" fill="#999999" fill-opacity="0.9"/>
<circle cx="103.5" cy="922.5" r="6.1" fill="#999999" fill-opacity="0.9"/>
<circle cx="105.3" cy="922.5" r="6.1" fill="#999999" fill-opacity="0.9"/>
<circle cx="107.1" cy="922.5" r="6.1" fill="#999999" fill-opacity="0.9"/>
<circle cx="108.9" cy="922.5" r="6.1" fill="#999999" fill-opacity="0.9"/>
<circle cx="110.7" cy="922.5" r="6.1" fill="#999999" fill-opacity="0.9"/>
<circle cx="112.5" cy="922.5" r="6.1" fill="#999999" fill-opacity="0.9"/>
<circle cx="114.3" cy="922.5" r="6.1" fill="#999999" fill-opacity="0.9"/>
<circle cx="116.1" cy="922.5" r="6.1" fill="#999999" fill-opacity="0.9"/>
<circle cx="117.9" cy="922.5" r="6.1" fill="#999999" fill-opacity="0.9"/>
<circle cx="119.6" cy="922.5" r="6.1" fill="#999999" fill-opacity="0.9"/>
<circle cx="121.4" cy="922.5" r="6.1" fill="#999999" fill-opacity="0.9"/>
<circle cx="123.2" cy="922.5" r="6.1" fill="#999999" fill-opacity="0.9"/>
<circle cx="125" cy="922.5" r="6.1" fill="#999999" fill-opacity="0.9"/>
<circle cx="126.8" cy="922.5" r="6.1" fill="#999999" fill-opacity="0.9"/>
<circle cx="128.6" cy="922.5" r="6.1" fill="#999999" fill-opacity="0.9"/>
<circle cx="130.4" cy="922.5" r="6.1" fill="#999999" fill-opacity="0.9"/>
<circle cx="132.2" cy="922.5" r="6.1" fill="#999999" fill-opacity="0.9"/>
<circle cx="134" cy="922.5" r="6.1" fill="#999999" fill-opacity="0.9"/>
<circle cx="135.8" cy="922.5" r="6.1" fill="#999999" fill-opacity="0.9"/>
<circle cx="137.6" cy="922.5" r="6.1" fill="#999999" fill-opacity="0.9"/>
<circle cx="139.3" cy="922.5" r="6.1" fill="#999999" fill-opacity="0.9"/>
<circle cx="141.1" cy="922.5" r="6.1" fill="#999999" fill-opacity="0.9"/>
<circle cx="142.9" cy="884.4" r="6.1" fill="#999999" fill-opacity="0.9"/>
<circle cx="144.7" cy="880.5" r="6.1" fill="#999999" fill-opacity="0.9"/>
<circle cx="146.5" cy="876.5" r="6.1" fill="#999999" fill-opacity="0.9"/>
<circle cx="148.3" cy="863.6" r="6.1" fill="#999999" fill-opacity="0.9"/>
<circle cx="150.1" cy="853" r="6.1" fill="#999999" fill-opacity="0.9"/>
<circle cx="151.9" cy="848" r="6.1" fill="#999999" fill-opacity="0.9"/>
<circle cx="153.7" cy="845" r="6.1" fill="#999999" fill-opacity="0.9"/>
<circle cx="155.5" cy="843.1" r="6.1" fill="#999999" fill-opacity="0.9"/>
<circle cx="157.3" cy="842" r="6.1" fill="#999999" fill-opacity="0.9"/>
<circle cx="159.1" cy="840.7" r="6.1" fill="#999999" fill-opacity="0.9"/>
<circle cx="160.8" cy="840.5" r="6.1" fill="#999999" fill-opacity="0.9"/>
<circle cx="162.6" cy="839.2" r="6.1" fill="#999999" fill-opacity="0.9"/>
<circle cx="164.4" cy="838.4" r="6.1" fill="#999999" fill-opacity="0.9"/>
<circle cx="166.2" cy="835.2" r="6.1" fill="#999999" fill-opacity="0.9"/>
<circle cx="168" cy="835.7" r="6.1" fill="#999999" fill-opacity="0.9"/>
<circle cx="169.8" cy="834.2" r="6.1" fill="#999999" fill-opacity="0.9"/>
<circle cx="171.6" cy="830.9" r="6.1" fill="#999999" fill-opacity="0.9"/>
<circle cx="173.4" cy="828.6" r="6.1" fill="#999999" fill-opacity="0.9"/>
<circle cx="175.2" cy="827.2" r="6.1" fill="#999999" fill-opacity="0.9"/>
<circle cx="177" cy="823.6" r="6.1" fill="#999999" fill-opacity="0.9"/>
<circle cx="178.8" cy="822.5" r="6.1" fill="#999999" fill-opacity="0.9"/>
<circle cx="180.5" cy="819.3" r="6.1" fill="#999999" fill-opacity="0.9"/>
<circle cx="182.3" cy="817.9" r="6.1" fill="#999999" fill-opacity="0.9"/>
<circle cx="184.1" cy="815.3" r="6.1" fill="#999999" fill-opacity="0.9"/>
<circle cx="185.9" cy="813.2" r="6.1" fill="#999999" fill-opacity="0.9"/>
<circle cx="187.7" cy="811.8" r="6.1" fill="#999999" fill-opacity="0.9"/>
<circle cx="189.5" cy="811.4" r="6.1" fill="#999999" fill-opacity="0.9"/>
<circle cx="191.3" cy="811.5" r="6.1" fill="#999999" fill-opacity="0.9"/>
<circle cx="193.1" cy="810.1" r="6.1" fill="#999999" fill-opacity="0.9"/>
<circle cx="194.9" cy="809.7" r="6.1" fill="#999999" fill-opacity="0.9"/>
<circle cx="196.7" cy="809.7" r="6.1" fill="#999999" fill-opacity="0.9"/>
<circle cx="198.5" cy="810" r="6.1" fill="#999999" fill-opacity="0.9"/>
<circle cx="200.2" cy="810.1" r="6.1" fill="#999999" fill-opacity="0.9"/>
<circle cx="202" cy="810.3" r="6.1" fill="#999999" fill-opacity="0.9"/>
<circle cx="203.8" cy="808.6" r="6.1" fill="#999999" fill-opacity="0.9"/>
<circle cx="205.6" cy="809.7" r="6.1" fill="#999999" fill-opacity="0.9"/>
<circle cx="207.4" cy="808.1" r="6.1" fill="#999999" fill-opacity="0.9"/>
<circle cx="209.2" cy="808.6" r="6.1" fill="#999999" fill-opacity="0.9"/>
<circle cx="211" cy="807.4" r="6.1" fill="#999999" fill-opacity="0.9"/>
<circle cx="212.8" cy="808.1" r="6.1" fill="#999999" fill-opacity="0.9"/>
<circle cx="214.6" cy="806.3" r="6.1" fill="#999999" fill-opacity="0.9"/>
<circle cx="216.4" cy="803.5" r="6.1" fill="#999999" fill-opacity="0.9"/>
<circle cx="218.2" cy="802.4" r="6.1" fill="#999999" fill-opacity="0.9"/>
<circle cx="219.9" cy="800.3" r="6.1" fill="#999999" fill-opacity="0.9"/>
<circle cx="221.7" cy="798.9" r="6.1" fill="#999999" fill-opacity="0.9"/>
<circle cx="223.5" cy="798.3" r="6.1" fill="#999999" fill-opacity="0.9"/>
<circle cx="225.3" cy="797.5" r="6.1" fill="#999999" fill-opacity="0.9"/>
<circle cx="227.1" cy="796.4" r="6.1" fill="#999999" fill-opacity="0.9"/>
<circle cx="228.9" cy="793.4" r="6.1" fill="#999999" fill-opacity="0.9"/>
<circle cx="230.7" cy="793.4" r="6.1" fill="#999999" fill-opacity="0.9"/>
<circle cx="232.5" cy="792.2" r="6.1" fill="#999999" fill-opacity="0.9"/>
<circle cx="234.3" cy="792.6" r="6.1" fill="#999999" fill-opacity="0.9"/>
<circle cx="236.1" cy="790.8" r="6.1" fill="#999999" fill-opacity="0.9"/>
<circle cx="237.9" cy="791.7" r="6.1" fill="#999999" fill-opacity="0.9"/>
<circle cx="239.6" cy="789.5" r="6.1" fill="#999999" fill-opacity="0.9"/>
<circle cx="241.4" cy="788.9" r="6.1" fill="#999999" fill-opacity="0.9"/>
<circle cx="243.2" cy="788.7" r="6.1" fill="#999999" fill-opacity="0.9"/>
<circle cx="245" cy="788.3" r="6.1" fill="#999999" fill-opacity="0.9"/>
<circle cx="246.8" cy="788.8" r="6.1" fill="#999999" fill-opacity="0.9"/>
<circle cx="248.6" cy="787.4" r="6.1" fill="#999999" fill-opacity="0.9"/>
<circle cx="250.4" cy="787.2" r="6.1" fill="#999999" fill-opacity="0.9"/>
<circle cx="252.2" cy="787.3" r="6.1" fill="#999999" fill-opacity="0.9"/>
<circle cx="254" cy="785.1" r="6.1" fill="#999999" fill-opacity="0.9"/>
<circle cx="255.8" cy="785.3" r="6.1" fill="#999999" fill-opacity="0.9"/>
<circle cx="257.6" cy="785" r="6.1" fill="#999999" fill-opacity="0.9"/>
<circle cx="259.3" cy="784.6" r="6.1" fill="#999999" fill-opacity="0.9"/>
<circle cx="261.1" cy="782.5" r="6.1" fill="#999999" fill-opacity="0.9"/>
<circle cx="262.9" cy="782.7" r="6.1" fill="#999999" fill-opacity="0.9"/>
<circle cx="264.7" cy="782.9" r="6.1" fill="#999999" fill-opacity="0.9"/>
<circle cx="266.5" cy="781.4" r="6.1" fill="#999999" fill-opacity="0.9"/>
<circle cx="268.3" cy="780.8" r="6.1" fill="#999999" fill-opacity="0.9"/>
<circle cx="270.1" cy="782.2" r="6.1" fill="#999999" fill-opacity="0.9"/>
<circle cx="271.9" cy="780.6" r="6.1" fill="#999999" fill-opacity="0.9"/>
<circle cx="273.7" cy="781.3" r="6.1" fill="#999999" fill-opacity="0.9"/>
<circle cx="275.5" cy="780.7" r="6.1" fill="#999999" fill-opacity="0.9"/>
<circle cx="277.3" cy="780.8" r="6.1" fill="#999999" fill-opacity="0.9"/>
<circle cx="279" cy="781.5" r="6.1" fill="#999999" fill-opacity="0.9"/>
<circle cx="280.8" cy="781.2" r="6.1" fill="#999999" fill-opacity="0.9"/>
<circle cx="282.6" cy="780.9" r="6.1" fill="#999999" fill-opacity="0.9"/>
<circle cx="284.4" cy="781" r="6.1" fill="#999999" fill-opacity="0.9"/>
<circle cx="286.2" cy="780.7" r="6.1" fill="#999999" fill-opacity="0.9"/>
<circle cx="288" cy="780.1" r="6.1" fill="#999999" fill-opacity="0.9"/>
<circle cx="289.8" cy="778.2" r="6.1" fill="#999999" fill-opacity="0.9"/>
<circle cx="291.6" cy="778.9" r="6.1" fill="#999999" fill-opacity="0.9"/>
<circle cx="293.4" cy="777.5" r="6.1" fill="#999999" fill-opacity="0.9"/>
<circle cx="295.2" cy="778.5" r="6.1" fill="#999999" fill-opacity="0.9"/>
<circle cx="297" cy="777.5" r="6.1" fill="#999999" fill-opacity="0.9"/>
<circle cx="298.7" cy="777" r="6.1" fill="#999999" fill-opacity="0.9"/>
<circle cx="300.5" cy="775.9" r="6.1" fill="#999999" fill-opacity="0.9"/>
<circle cx="302.3" cy="775" r="6.1" fill="#999999" fill-opacity="0.9"/>
<circle cx="304.1" cy="774.3" r="6.1" fill="#999999" fill-opacity="0.9"/>
<circle cx="305.9" cy="775.1" r="6.1" fill="#999999" fill-opacity="0.9"/>
<circle cx="307.7" cy="774.6" r="6.1" fill="#999999" fill-opacity="0.9"/>
<circle cx="309.5" cy="772.6" r="6.1" fill="#999999" fill-opacity="0.9"/>
<circle cx="311.3" cy="772.1" r="6.1" fill="#999999" fill-opacity="0.9"/>
<circle cx="313.1" cy="773" r="6.1" fill="#999999" fill-opacity="0.9"/>
<circle cx="314.9" cy="771.7" r="6.1" fill="#999999" fill-opacity="0.9"/>
<circle cx="316.7" cy="771.6" r="6.1" fill="#999999" fill-opacity="0.9"/>
<circle cx="318.4" cy="771.2" r="6.1" fill="#999999" fill-opacity="0.9"/>
<circle cx="320.2" cy="770.2" r="6.1" fill="#999999" fill-opacity="0.9"/>
<circle cx="322" cy="768.9" r="6.1" fill="#999999" fill-opacity="0.9"/>
<circle cx="323.8" cy="769.3" r="6.1" fill="#999999" fill-opacity="0.9"/>
<circle cx="325.6" cy="769.7" r="6.1" fill="#999999" fill-opacity="0.9"/>
<circle cx="327.4" cy="768.3" r="6.1" fill="#999999" fill-opacity="0.9"/>
<circle cx="329.2" cy="766.9" r="6.1" fill="#999999" fill-opacity="0.9"/>
<circle cx="331" cy="766" r="6.1" fill="#999999" fill-opacity="0.9"/>
<circle cx="332.8" cy="767" r="6.1" fill="#999999" fill-opacity="0.9"/>
<circle cx="334.6" cy="765.5" r="6.1" fill="#999999" fill-opacity="0.9"/>
<circle cx="336.4" cy="763.8" r="6.1" fill="#999999" fill-opacity="0.9"/>
<circle cx="338.1" cy="763.4" r="6.1" fill="#999999" fill-opacity="0.9"/>
<circle cx="339.9" cy="763.4" r="6.1" fill="#999999" fill-opacity="0.9"/>
<circle cx="341.7" cy="761.6" r="6.1" fill="#999999" fill-opacity="0.9"/>
<circle cx="343.5" cy="760.6" r="6.1" fill="#999999" fill-opacity="0.9"/>
<circle cx="345.3" cy="761.9" r="6.1" fill="#999999" fill-opacity="0.9"/>
<circle cx="347.1" cy="761.4" r="6.1" fill="#999999" fill-opacity="0.9"/>
<circle cx="348.9" cy="761.2" r="6.1" fill="#999999" fill-opacity="0.9"/>
<circle cx="350.7" cy="760.4" r="6.1" fill="#999999" fill-opacity="0.9"/>
<circle cx="352.5" cy="760.8" r="6.1" fill="#999999" fill-opacity="0.9"/>
<circle cx="354.3" cy="759.9" r="6.1" fill="#999999" fill-opacity="0.9"/>
<circle cx="356.1" cy="758.7" r="6.1" fill="#999999" fill-opacity="0.9"/>
<circle cx="357.9" cy="759.7" r="6.1" fill="#999999" fill-opacity="0.9"/>
<circle cx="359.6" cy="757.8" r="6.1" fill="#999999" fill-opacity="0.9"/>
<circle cx="361.4" cy="757.3" r="6.1" fill="#999999" fill-opacity="0.9"/>
<circle cx="363.2" cy="756.5" r="6.1" fill="#999999" fill-opacity="0.9"/>
<circle cx="365" cy="754.7" r="6.1" fill="#999999" fill-opacity="0.9"/>
<circle cx="366.8" cy="753.4" r="6.1" fill="#999999" fill-opacity="0.9"/>
<circle cx="368.6" cy="754.2" r="6.1" fill="#999999" fill-opacity="0.9"/>
<circle cx="370.4" cy="752" r="6.1" fill="#999999" fill-opacity="0.9"/>
<circle cx="372.2" cy="751.3" r="6.1" fill="#999999" fill-opacity="0.9"/>
<circle cx="374" cy="749.7" r="6.1" fill="#999999" fill-opacity="0.9"/>
<circle cx="375.8" cy="750" r="6.1" fill="#999999" fill-opacity="0.9"/>
<circle cx="377.6" cy="750.1" r="6.1" fill="#999999" fill-opacity="0.9"/>
<circle cx="379.3" cy="749" r="6.1" fill="#999999" fill-opacity="0.9"/>
<circle cx="381.1" cy="748.9" r="6.1" fill="#999999" fill-opacity="0.9"/>
<circle cx="382.9" cy="748.1" r="6.1" fill="#999999" fill-opacity="0.9"/>
<circle cx="384.7" cy="748.7" r="6.1" fill="#999999" fill-opacity="0.9"/>
<circle cx="386.5" cy="747.8" r="6.1" fill="#999999" fill-opacity="0.9"/>
<circle cx="388.3" cy="748.6" r="6.1" fill="#999999" fill-opacity="0.9"/>
<circle cx="390.1" cy="748.3" r="6.1" fill="#999999" fill-opacity="0.9"/>
<circle cx="391.9" cy="745.6" r="6.1" fill="#999999" fill-opacity="0.9"/>
<circle cx="393.7" cy="746.2" r="6.1" fill="#999999" fill-opacity="0.9"/>
<circle cx="395.5" cy="745" r="6.1" fill="#999999" fill-opacity="0.9"/>
<circle cx="397.3" cy="744.1" r="6.1" fill="#999999" fill-opacity="0.9"/>
<circle cx="399" cy="743.3" r="6.1" fill="#999999" fill-opacity="0.9"/>
<circle cx="400.8" cy="742.7" r="6.1" fill="#999999" fill-opacity="0.9"/>
<circle cx="402.6" cy="741.6" r="6.1" fill="#999999" fill-opacity="0.9"/>
<circle cx="404.4" cy="741.1" r="6.1" fill="#999999" fill-opacity="0.9"/>
<circle cx="406.2" cy="740.6" r="6.1" fill="#999999" fill-opacity="0.9"/>
<circle cx="408" cy="740.9" r="6.1" fill="#999999" fill-opacity="0.9"/>
<circle cx="409.8" cy="741.9" r="6.1" fill="#999999" fill-opacity="0.9"/>
<circle cx="411.6" cy="740.3" r="6.1" fill="#999999" fill-opacity="0.9"/>
<circle cx="413.4" cy="741.1" r="6.1" fill="#999999" fill-opacity="0.9"/>
<circle cx="415.2" cy="739.4" r="6.1" fill="#999999" fill-opacity="0.9"/>
<circle cx="417" cy="740.2" r="6.1" fill="#999999" fill-opacity="0.9"/>
<circle cx="418.7" cy="740.4" r="6.1" fill="#999999" fill-opacity="0.9"/>
<circle cx="420.5" cy="738.5" r="6.1" fill="#999999" fill-opacity="0.9"/>
<circle cx="422.3" cy="739" r="6.1" fill="#999999" fill-opacity="0.9"/>
<circle cx="424.1" cy="739" r="6.1" fill="#999999" fill-opacity="0.9"/>
<circle cx="425.9" cy="737.1" r="6.1" fill="#999999" fill-opacity="0.9"/>
<circle cx="427.7" cy="736.8" r="6.1" fill="#999999" fill-opacity="0.9"/>
<circle cx="429.5" cy="737.4" r="6.1" fill="#999999" fill-opacity="0.9"/>
<circle cx="431.3" cy="736.7" r="6.1" fill="#999999" fill-opacity="0.9"/>
<circle cx="433.1" cy="736.6" r="6.1" fill="#999999" fill-opacity="0.9"/>
<circle cx="434.9" cy="736.5" r="6.1" fill="#999999" fill-opacity="0.9"/>
<circle cx="436.7" cy="736.6" r="6.1" fill="#999999" fill-opacity="0.9"/>
<circle cx="438.4" cy="735" r="6.1" fill="#999999" fill-opacity="0.9"/>
<circle cx="440.2" cy="735.8" r="6.1" fill="#999999" fill-opacity="0.9"/>
<circle cx="442" cy="734.1" r="6.1" fill="#999999" fill-opacity="0.9"/>
<circle cx="443.8" cy="734.5" r="6.1" fill="#999999" fill-opacity="0.9"/>
<circle cx="445.6" cy="734.6" r="6.1" fill="#999999" fill-opacity="0.9"/>
<circle cx="447.4" cy="732.4" r="6.1" fill="#999999" fill-opacity="0.9"/>
<circle cx="449.2" cy="734" r="6.1" fill="#999999" fill-opacity="0.9"/>
<circle cx="451" cy="731.7" r="6.1" fill="#999999" fill-opacity="0.9"/>
<circle cx="452.8" cy="731.7" r="6.1" fill="#999999" fill-opacity="0.9"/>
<circle cx="454.6" cy="732.7" r="6.1" fill="#999999" fill-opacity="0.9"/>
<circle cx="456.4" cy="732.5" r="6.1" fill="#999999" fill-opacity="0.9"/>
<circle cx="458.1" cy="733" r="6.1" fill="#999999" fill-opacity="0.9"/>
<circle cx="459.9" cy="732.2" r="6.1" fill="#999999" fill-opacity="0.9"/>
<circle cx="461.7" cy="731" r="6.1" fill="#999999" fill-opacity="0.9"/>
<circle cx="463.5" cy="731.5" r="6.1" fill="#999999" fill-opacity="0.9"/>
<circle cx="465.3" cy="732.2" r="6.1" fill="#999999" fill-opacity="0.9"/>
<circle cx="467.1" cy="731.6" r="6.1" fill="#999999" fill-opacity="0.9"/>
<circle cx="468.9" cy="731.1" r="6.1" fill="#999999" fill-opacity="0.9"/>
<circle cx="470.7" cy="729.8" r="6.1" fill="#999999" fill-opacity="0.9"/>
<circle cx="472.5" cy="730" r="6.1" fill="#999999" fill-opacity="0.9"/>
<circle cx="474.3" cy="730" r="6.1" fill="#999999" fill-opacity="0.9"/>
<circle cx="476.1" cy="728.5" r="6.1" fill="#999999" fill-opacity="0.9"/>
<circle cx="477.8" cy="728.7" r="6.1" fill="#999999" fill-opacity="0.9"/>
<circle cx="479.6" cy="728.4" r="6.1" fill="#999999" fill-opacity="0.9"/>
<circle cx="481.4" cy="727.8" r="6.1" fill="#999999" fill-opacity="0.9"/>
<circle cx="483.2" cy="728.2" r="6.1" fill="#999999" fill-opacity="0.9"/>
<circle cx="485" cy="726.7" r="6.1" fill="#999999" fill-opacity="0.9"/>
<circle cx="486.8" cy="726.5" r="6.1" fill="#999999" fill-opacity="0.9"/>
<circle cx="488.6" cy="726.8" r="6.1" fill="#999999" fill-opacity="0.9"/>
<circle cx="490.4" cy="725.4" r="6.1" fill="#999999" fill-opacity="0.9"/>
<circle cx="492.2" cy="724.5" r="6.1" fill="#999999" fill-opacity="0.9"/>
<circle cx="494" cy="724.3" r="6.1" fill="#999999" fill-opacity="0.9"/>
<circle cx="495.8" cy="723.5" r="6.1" fill="#999999" fill-opacity="0.9"/>
<circle cx="497.5" cy="722.4" r="6.1" fill="#999999" fill-opacity="0.9"/>
<circle cx="499.3" cy="721.1" r="6.1" fill="#999999" fill-opacity="0.9"/>
<circle cx="501.1" cy="720.7" r="6.1" fill="#999999" fill-opacity="0.9"/>
<circle cx="502.9" cy="719.6" r="6.1" fill="#999999" fill-opacity="0.9"/>
<circle cx="504.9" cy="717.2" r="6.1" fill="#999999" fill-opacity="0.9"/>
<circle cx="506.7" cy="706.3" r="6.1" fill="#999999" fill-opacity="0.9"/>
<path d="M88 737.1L80.6 749.7L95.4 749.7Z" fill="none" stroke="#E69F00" stroke-width="1.8" stroke-linejoin="miter"/>
<path d="M88.8 732.5L81.4 745L96.2 745Z" fill="none" stroke="#56B4E9" stroke-width="1.8" stroke-linejoin="miter"/>
<path d="M74 740.7L66.4 753L81.6 753Z" fill="none" stroke="#009E73" stroke-width="1.8" stroke-linejoin="miter"/>
<path d="M72.4 733.5L64.8 746.6L80 746.6Z" fill="none" stroke="#F0E442" stroke-width="1.8" stroke-linejoin="miter"/>
<path d="M226.7 723.1L219 736L234.4 736Z" fill="none" stroke="#0072B2" stroke-width="1.8" stroke-linejoin="miter"/>
<path d="M256.8 737.6L248.9 750.5L264.7 750.5Z" fill="none" stroke="#D55E00" stroke-width="1.8" stroke-linejoin="miter"/>
<path d="M174.9 742.3L167 754.7L182.8 754.7Z" fill="none" stroke="#CC79A7" stroke-width="1.8" stroke-linejoin="miter"/>
<path d="M508.1 733L500 746.5L516.2 746.5Z" fill="none" stroke="#999999" stroke-width="1.8" stroke-linejoin="miter"/>
</g>
<text x="576.8" y="642" font-size="13" fill="#222">Country</text>
<line x1="575" y1="658" x2="596.5" y2="658" stroke="#E69F00" stroke-width="1.8" stroke-opacity="0.6"/>
<circle cx="585.6" cy="658" r="6.3" fill="#E69F00" fill-opacity="0.9"/>
<text x="605.6" y="662.6" font-size="13" fill="#222">Australia</text>
<line x1="575" y1="685.1" x2="596.5" y2="685.1" stroke="#56B4E9" stroke-width="1.8" stroke-opacity="0.6"/>
<circle cx="585.6" cy="685.1" r="6.3" fill="#56B4E9" fill-opacity="0.9"/>
<text x="605.6" y="689.7" font-size="13" fill="#222">Brazil</text>
<line x1="575" y1="712.5" x2="596.5" y2="712.5" stroke="#009E73" stroke-width="1.8" stroke-opacity="0.6"/>
<circle cx="585.6" cy="712.5" r="6.3" fill="#009E73" fill-opacity="0.9"/>
<text x="605.6" y="717.1" font-size="13" fill="#222">Canada</text>
<line x1="575" y1="739.5" x2="596.5" y2="739.5" stroke="#F0E442" stroke-width="1.8" stroke-opacity="0.6"/>
<circle cx="585.6" cy="739.5" r="6.3" fill="#F0E442" fill-opacity="0.9"/>
<text x="605.6" y="744.1" font-size="13" fill="#222">Israel</text>
<line x1="575" y1="766.9" x2="596.5" y2="766.9" stroke="#0072B2" stroke-width="1.8" stroke-opacity="0.6"/>
<circle cx="585.6" cy="766.9" r="6.3" fill="#0072B2" fill-opacity="0.9"/>
<text x="605.6" y="771.5" font-size="13" fill="#222">Portugal</text>
<line x1="575" y1="793.8" x2="596.5" y2="793.8" stroke="#D55E00" stroke-width="1.8" stroke-opacity="0.6"/>
<circle cx="585.6" cy="793.8" r="6.3" fill="#D55E00" fill-opacity="0.9"/>
<text x="605.6" y="798.4" font-size="13" fill="#222">South Korea</text>
<line x1="575" y1="821.2" x2="596.5" y2="821.2" stroke="#CC79A7" stroke-width="1.8" stroke-opacity="0.6"/>
<circle cx="585.6" cy="821.2" r="6.3" fill="#CC79A7" fill-opacity="0.9"/>
<text x="605.6" y="825.8" font-size="13" fill="#222">Spain</text>
<line x1="575" y1="848.4" x2="596.5" y2="848.4" stroke="#999999" stroke-width="1.8" stroke-opacity="0.6"/>
<circle cx="585.6" cy="848.4" r="6.3" fill="#999999" fill-opacity="0.9"/>
<text x="605.6" y="853" font-size="13" fill="#222">USA</text>
<text x="576.9" y="906.2" font-size="13" fill="#222">Data type</text>
<path d="M585.7 923.5L577 937.6L594.4 937.6Z" fill="none" stroke="#000" stroke-width="1.9" stroke-linejoin="miter"/>
<text x="606.3" y="934.7" font-size="13" fill="#222">Estimated</text>
<circle cx="585.7" cy="959.3" r="6" fill="#000" fill-opacity="0.85"/>
<text x="606.3" y="964" font-size="13" fill="#222">Measured</text>
<text x="0.3" y="9.9" font-size="18.5" font-weight="bold" fill="#000">a</text>
<text x="0.3" y="331.9" font-size="18.5" font-weight="bold" fill="#000">b</text>
<text x="0.3" y="663.8" font-size="18.5" font-weight="bold" fill="#000">c</text>
</svg>
</body></html>
